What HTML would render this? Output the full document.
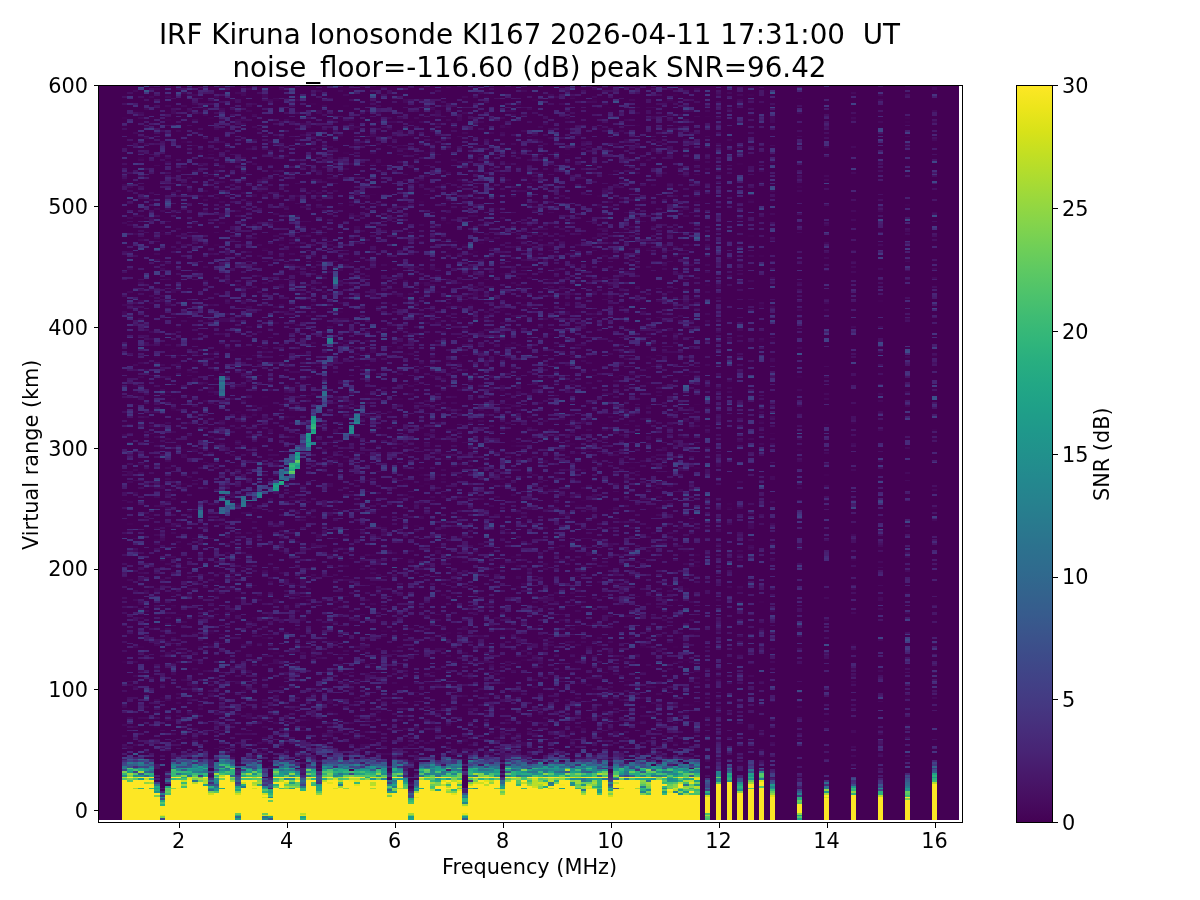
<!DOCTYPE html>
<html lang="en"><head><meta charset="utf-8"><title>IRF Kiruna Ionosonde KI167</title>
<style>html,body{margin:0;padding:0;background:#fff}body{width:1200px;height:900px;overflow:hidden}svg{display:block;will-change:transform}text{font-family:'DejaVu Sans','Liberation Sans',sans-serif;fill:#000}</style></head><body>
<svg width="1200" height="900" viewBox="0 0 1200 900">
<rect width="1200" height="900" fill="#fff"/>
<g shape-rendering="crispEdges" fill="none">
<rect x="98" y="86" width="861" height="734" fill="#440154"/>
<path stroke="#450457" stroke-width="5" d="M124.5 661v2m0 -484v2m0 -64v2m11 292v2m0 -9v1m0 -14v4m0 -10v2m11 272v2m5 -147v2m11 181v2m0 -426v2m0 -42v2m0 -5v2m11 487v2m0 -115v2m0 -16v2m0 -8v2m0 -148v2m0 -33v2m0 -13v2m0 -51v2m5 263v1m0 -68v1m0 -179v2m0 -9v2m0 -38v2m11 369v2m0 -250v2m0 -56v1m0 -25v2m0 -154v2m0 -37v2m0 -36v2m11 554v2m0 -301v2m0 -243v2m0 -16v3m0 -23v2m5 615v2m0 -9v2m0 -170v2m0 -270v2m0 -113v2m11 384v2m0 -40v2m0 -301v2m0 -89v2m11 587v2m0 -62v2m0 -31v2m0 -232v2m0 -223v2m0 -78v2m5 623v2m0 -65v1m0 -331v2m0 -15v2m0 -252v2m11 254v1m0 -10v1m0 -172v2m0 -38v2m11 560v1m0 -39v1m0 -47v2m0 -22v2m0 -63v2m0 -28v2m0 -9v2m0 -94v3m0 -115v1m5 160v2m0 -26v2m0 -150v1m0 -68v1m0 -39v1m11 488v1m0 -494v2m0 -42v2m0 -54v1m11 571v2m0 -36v1m0 -135v1m0 -87v2m0 -186v1m5 178v2m0 -6v2m0 -36v2m0 -6v2m0 -148v1m11 480v2m0 -23v1m0 -402v2m0 -31v2m0 -98v2m0 -27v2m0 -27v2m11 621v2m0 -323v2m0 -167v2m5 323v1m0 -11v2m0 -155v1m0 -21v1m0 -273v2m22 480v1m0 -54v2m0 -29v2m0 -49v2m0 -46v2m0 -9v2m5 263v1m0 -126v1m0 -237v2m0 -80v2m0 -31v2m0 -70v1m11 600v2m0 -265v2m0 -11v2m0 -205v2m11 467v2m0 -54v2m0 -116v2m0 -6v2m0 -418v1m5 504v2m0 -127v2m0 -73v2m0 -32v1m0 -32v2m11 322v2m0 -65v1m0 -130v2m0 -171v2m0 -237v2m11 179v2m0 -20v2m5 404v2m0 -22v2m0 -73v2m0 -150v1m0 -54v2m0 -112v1m0 -27v2m0 -65v2m11 282v2m0 -132v2m0 -152v1m0 -52v2m0 -22v2m11 597v2m0 -38v2m0 -112v1m0 -61v2m0 -58v2m0 -203v2m5 233v2m0 -20v2m0 -13v2m0 -194v2m0 -83v2m0 -57v2m0 -12v1m11 547v2m0 -76v2m0 -236v2m0 -235v2m0 -6v2m11 560v1m0 -67v2m0 -25v2m0 -120v2m0 -18v2m0 -22v2m0 -40v2m0 -190v1m0 -97v1m5 553v2m0 -49v1m0 -12v2m0 -75v2m0 -5v2m0 -305v2m0 -7v2m0 -28v2m0 -76v2m0 -34v1m11 419v2m0 -167v2m0 -11v2m0 -13v2m11 357v1m0 -226v2m0 -158v2m0 -27v2m5 246v2m0 -60v2m0 -245v2m0 -98v2m0 -11v2m11 551v2m0 -6v2m0 -60v2m0 -43v1m0 -27v2m0 -161v2m0 -288v1m0 -30v2m5 635v2m0 -109v2m0 -14v1m0 -132v2m0 -192v2m0 -145v2m11 552v2m0 -81v1m0 -145v2m0 -174v2m0 -38v2m0 -139v1m11 598v2m0 -40v2m0 -38v2m0 -107v2m0 -113v2m0 -7v2m0 -38v1m5 310v2m0 -56v3m0 -78v2m0 -32v2m0 -46v2m0 -5v1m0 -10v1m0 -103v2m0 -130v1m0 -30v1m0 -76v2m0 -16v2m11 284v2m0 -47v2m11 242v2m0 -246v2m0 -40v1m0 -90v2m0 -129v2m5 469v2m0 -6v2m0 -43v2m0 -189v2m0 -18v2m11 376v2m0 -266v2m0 -56v2m0 -144v2m11 433v2m0 -114v2m0 -9v1m0 -47v2m0 -33v2m0 -25v2m0 -55v2m0 -291v1m5 364v2m0 -78v2m0 -27v2m0 -324v2m11 402v1m0 -32v2m0 -384v1m11 370v2m0 -295v1m0 -67v2m5 105v2m0 -13v2m0 -69v2m11 567v2m0 -85v1m0 -106v1m0 -110v2m0 -295v1m11 627v4m0 -80v2m0 -433v2m5 449v2m0 -78v2m0 -44v2m0 -91v2m0 -74v2m0 -35v2m0 -20v2m0 -23v1m0 -38v2m11 429v2m0 -67v2m0 -505v1m0 -30v1m11 558v2m0 -281v2m0 -25v2m0 -17v2m0 -13v2m0 -110v2m0 -105v1m5 520v2m0 -20v2m0 -478v2m11 398v2m0 -73v2m0 -402v2m11 639v2m0 -34v1m0 -50v2m0 -17v2m0 -78v2m0 -40v2m0 -156v2m0 -114v2m0 -143v1m0 -25v2m0 -9v2m5 659v2m0 -44v2m0 -78v2m0 -58v2m0 -58v2m0 -91v2m11 266v2m0 -177v1m0 -9v2m0 -96v2m0 -181v2m0 -6v2m0 -9v2m16 483v2m0 -23v1m0 -123v2m0 -127v2m0 -134v2m0 -20v2m0 -22v2m0 -170v1m11 598v2m0 -16v1m0 -179v2m0 -49v2m0 -38v2m0 -105v1m11 169v2m0 -6v2m32 230v2m0 -136v2m0 -183v2m0 -82v2m0 -38v4m0 -53v2m0 -76v2m11 250v1m0 -94v2m0 -232v2m27 518v2m0 -33v2m0 -152v2m0 -17v2m0 -23v1m0 -38v2m0 -22v2m0 -134v2m0 -40v2m0 -90v1m27 375v2m0 -52v1m0 -107v2m27 362v2m0 -40v2m0 -87v2m0 -139v2m0 -305v2m27 656v1m0 -259v2m0 -221v2m27 433v2m0 -13v2m0 -29v2m0 -107v2m0 -44v2m0 -22v2m0 -273v2m0 -57v2m0 -85v2m0 -6v2m27 388v2m0 -71v2m0 -11v2"/>
<path stroke="#450457" stroke-width="6" d="M130 585v1m0 -63v2m11 186v2m0 -67v2m0 -264v1m0 -105v2m0 -125v2m16 621v2m0 -56v2m0 -102v2m0 -89v2m0 -14v2m0 -102v2m0 -33v2m0 -42v2m11 167v2m0 -250v2m0 -95v2m0 -67v2m0 -27v2m16 518v1m0 -132v2m0 -36v2m0 -37v2m0 -139v2m0 -111v2m0 -29v2m11 552v2m0 -65v2m16 10v2m0 -14v2m0 -239v1m0 -7v2m0 -241v2m0 -35v2m27 629v1m0 -231v3m0 -56v2m0 -56v2m0 -230v1m11 268v2m0 -79v1m0 -182v1m16 547v2m0 -67v2m0 -42v2m0 -11v2m0 -149v2m0 -78v2m0 -11v2m0 -150v2m0 -60v2m11 460v2m0 -84v2m0 -297v2m0 -122v2m0 -58v2m16 587v2m0 -143v1m0 -132v2m0 -114v2m0 -36v1m0 -25v2m11 406v1m0 -302v2m0 -194v2m16 476v2m0 -495v2m11 580v2m0 -19v2m0 -7v2m0 -261v2m0 -31v2m16 40v2m0 -297v1m0 -14v2m0 -49v2m11 595v2m0 -241v2m0 -210v2m16 409v2m0 -9v2m0 -78v2m0 -31v2m0 -76v1m0 -48v1m0 -240v1m0 -32v2m0 -64v2m11 616v2m0 -91v2m0 -71v2m0 -393v2m16 556v2m0 -124v2m0 -70v1m0 -141v2m0 -112v1m0 -99v2m11 203v1m0 -92v2m0 -31v2m0 -44v2m0 -114v2m16 559v2m0 -59v1m0 -79v1m0 -65v2m0 -333v2m11 599v2m0 -281v2m0 -156v2m0 -31v2m0 -9v2m0 -18v2m0 -95v2m16 120v2m11 175v2m0 -138v2m0 -83v2m0 -15v2m0 -52v1m0 -27v2m16 502v1m0 -36v2m0 -255v1m0 -67v2m0 -25v2m0 -55v2m0 -92v2m16 99v2m0 -47v2m0 -15v2m11 201v2m0 -56v2m0 -163v1m0 -21v2m0 -39v2m16 564v1m0 -34v2m0 -147v2m0 -40v2m0 -181v2m0 -55v2m0 -20v2m0 -51v2m11 578v2m0 -259v1m0 -88v1m0 -43v2m0 -274v2m16 408v1m0 -177v2m0 -89v2m11 424v1m0 -364v2m0 -22v2m16 391v2m0 -25v2m0 -73v2m0 -85v2m0 -15v2m0 -42v2m0 -34v2m0 -111v2m0 -167v2m11 569v2m0 -433v2m16 136v1m0 -186v2m11 175v2m0 -42v2m16 312v2m0 -13v2m0 -214v2m11 279v1m0 -103v2m0 -165v2m16 217v2m0 -146v1m0 -452v1m11 478v2m0 -117v1m0 -192v2m0 -181v2m16 637v2m0 -83v2m0 -20v2m0 -55v2m0 -40v2m0 -286v2m11 362v2m0 -67v2m0 -13v2m0 -89v2m0 -7v1m0 -59v1m0 -132v2m0 -74v2m43 561v2m0 -45v1m0 -41v1m0 -28v1m0 -67v2m0 -427v2m11 253v2m0 -176v2m0 -11v2m0 -38v2m0 -87v2m0 -22v2m0 -9v1"/>
<path stroke="#460a5d" stroke-width="5" d="M124.5 746v2m0 -13v2m0 -13v2m0 -20v2m0 -208v1m0 -67v2m0 -125v4m0 -11v2m0 -84v2m0 -40v2m0 -14v2m11 570v2m0 -20v2m0 -42v2m0 -13v2m0 -16v2m0 -17v2m0 -49v2m0 -11v2m0 -42v2m0 -14v1m0 -47v2m0 -14v1m0 -12v2m0 -107v2m0 -60v2m0 -75v2m0 -20v2m0 -85v2m0 -44v2m11 659v2m0 -36v2m0 -13v2m0 -98v2m0 -22v2m0 -176v2m0 -49v2m0 -34v1m0 -121v2m0 -76v2m0 -8v2m0 -13v2m0 -20v2m5 567v2m0 -237v1m0 -10v1m0 -9v2m0 -16v2m0 -38v1m0 -32v2m0 -8v2m0 -9v2m0 -31v2m0 -9v2m0 -8v2m0 -74v2m0 -20v2m0 -9v2m0 -98v2m11 650v1m0 -19v1m0 -47v2m0 -31v2m0 -72v1m0 -7v2m0 -22v2m0 -23v3m0 -36v2m0 -22v4m0 -42v2m0 -60v2m0 -27v2m0 -66v2m0 -7v2m0 -29v2m0 -9v1m0 -14v2m0 -40v2m11 521v2m0 -63v3m0 -12v1m0 -27v2m0 -34v1m0 -50v2m0 -26v2m0 -9v2m0 -29v2m0 -11v2m0 -60v2m0 -26v2m0 -120v4m0 -81v1m0 -103v4m5 601v2m0 -15v2m0 -11v2m0 -78v2m0 -78v2m0 -20v2m0 -40v2m0 -78v2m0 -47v2m0 -11v1m0 -10v1m0 -58v2m0 -43v2m0 -9v1m0 -14v2m0 -20v2m0 -42v2m0 -42v2m11 581v2m0 -16v2m0 -13v2m0 -8v4m0 -92v2m0 -8v2m0 -13v2m0 -65v2m0 -6v2m0 -36v2m0 -56v2m0 -11v1m0 -39v1m0 -59v1m0 -128v2m0 -15v2m0 -69v2m0 -18v2m11 637v2m0 -27v2m0 -64v2m0 -107v2m0 -5v1m0 -155v1m0 -23v2m0 -60v2m0 -111v2m0 -34v2m0 -53v2m0 -9v2m5 574v1m0 -12v2m0 -57v4m0 -61v1m0 -34v2m0 -40v2m0 -27v1m0 -63v2m0 -20v2m0 -104v2m0 -16v2m0 -24v2m0 -36v2m0 -9v1m0 -5v2m0 -11v2m0 -17v2m0 -12v1m0 -9v2m0 -45v2m0 -8v2m11 638v1m0 -25v2m0 -7v2m0 -10v2m0 -117v1m0 -7v2m0 -16v1m0 -74v2m0 -42v2m0 -38v2m0 -25v1m0 -12v2m0 -17v2m0 -29v2m0 -121v1m0 -36v2m0 -11v2m0 -18v2m0 -46v2m0 -34v2m11 655v2m0 -138v2m0 -33v4m0 -38v2m0 -11v2m0 -11v2m0 -38v2m0 -15v2m0 -140v2m0 -31v4m0 -9v2m0 -13v2m0 -5v1m0 -20v4m0 -11v2m0 -14v1m0 -88v1m0 -88v1m5 663v2m0 -31v2m0 -16v2m0 -44v2m0 -58v2m0 -24v2m0 -13v4m0 -89v4m0 -42v2m0 -58v2m0 -161v2m0 -67v1m11 589v2m0 -33v2m0 -29v2m0 -13v2m0 -7v2m0 -48v2m0 -134v2m0 -20v2m0 -5v1m0 -78v2m0 -16v2m0 -18v3m0 -11v2m0 -78v2m0 -11v2m0 -7v2m0 -44v2m0 -25v3m0 -32v2m0 -22v2m0 -17v2m0 -36v2m0 -6v2m0 -5v1m0 -25v4m11 661v2m0 -51v2m0 -22v2m0 -9v1m0 -97v1m0 -65v2m0 -16v2m0 -20v2m0 -31v2m0 -15v2m0 -25v1m0 -11v2m0 -11v2m0 -52v1m0 -92v2m0 -29v2m0 -15v2m0 -32v3m0 -34v2m0 -26v2m0 -15v2m0 -14v2m0 -13v2m5 646v2m0 -11v2m0 -23v1m0 -5v2m0 -76v1m0 -9v2m0 -38v2m0 -7v2m0 -66v2m0 -67v2m0 -34v1m0 -25v2m0 -51v2m0 -9v2m0 -24v2m0 -58v2m0 -22v2m0 -13v2m0 -56v2m0 -6v2m0 -9v2m0 -53v2m11 636v2m0 -55v2m0 -7v2m0 -47v1m0 -30v1m0 -21v3m0 -36v2m0 -58v2m0 -29v3m0 -43v2m0 -6v2m0 -27v4m0 -44v2m0 -15v2m0 -50v1m0 -107v2m0 -83v2m0 -44v2m11 585v2m0 -16v1m0 -101v2m0 -24v2m0 -14v1m0 -14v2m0 -183v2m0 -42v2m0 -22v2m0 -7v1m0 -36v2m0 -7v2m0 -95v4m0 -14v3m0 -51v2m5 663v2m0 -6v2m0 -74v2m0 -71v2m0 -194v2m0 -16v2m0 -9v1m0 -5v2m0 -82v2m0 -107v2m0 -53v2m0 -38v2m0 -23v1m11 669v1m0 -23v2m0 -47v1m0 -54v2m0 -22v2m0 -7v2m0 -15v2m0 -15v2m0 -5v2m0 -11v1m0 -9v2m0 -20v2m0 -20v2m0 -7v2m0 -28v2m0 -127v2m0 -16v2m0 -49v2m0 -27v1m0 -54v2m0 -33v2m0 -14v1m0 -9v2m0 -14v1m0 -59v1m0 -27v2m11 498v2m0 -7v2m0 -8v2m0 -22v2m0 -56v2m0 -6v2m0 -11v2m0 -108v1m0 -81v2m0 -96v1m0 -16v2m0 -72v1m0 -12v3m5 612v2m0 -49v2m0 -41v3m0 -9v4m0 -75v2m0 -5v2m0 -33v4m0 -31v2m0 -55v2m0 -58v2m0 -16v2m0 -53v2m0 -36v1m0 -5v2m0 -17v2m0 -5v2m0 -33v2m0 -67v2m0 -56v1m11 596v2m0 -58v2m0 -65v1m0 -16v2m0 -76v2m0 -78v2m0 -29v2m0 -48v2m0 -47v2m0 -42v2m0 -20v2m0 -38v2m0 -33v2m0 -27v2m0 -40v2m0 -40v2m11 633v2m0 -11v2m0 -92v2m0 -22v2m0 -15v2m0 -9v2m0 -24v2m0 -7v2m0 -9v1m0 -20v2m0 -99v1m0 -23v4m0 -31v2m0 -8v4m0 -53v2m0 -27v2m0 -114v2m0 -22v2m0 -15v2m0 -31v2m5 581v2m0 -14v2m0 -19v2m0 -45v2m0 -7v1m0 -145v2m0 -114v2m0 -20v2m0 -40v2m0 -22v2m0 -6v2m0 -18v2m0 -22v2m0 -16v3m0 -14v2m0 -102v2m0 -25v2m0 -46v2m11 630v2m0 -36v2m0 -8v2m0 -65v2m0 -42v2m0 -23v1m0 -65v2m0 -82v4m0 -7v2m0 -13v4m0 -11v2m0 -75v2m0 -38v2m0 -73v2m0 -11v2m0 -5v2m0 -40v2m0 -39v4m0 -7v2m0 -6v2m0 -5v1m11 632v2m0 -7v4m0 -102v4m0 -36v1m0 -47v2m0 -40v2m0 -80v2m0 -36v2m0 -143v2m0 -49v2m5 512v2m0 -9v2m0 -20v2m0 -22v2m0 -6v2m0 -24v2m0 -29v2m0 -49v2m0 -47v2m0 -65v1m0 -12v1m0 -67v4m0 -16v2m0 -40v2m0 -13v2m0 -15v2m0 -67v2m0 -80v2m0 -89v2m11 619v2m0 -22v2m0 -65v2m0 -58v2m0 -6v2m0 -16v2m0 -17v4m0 -27v2m0 -29v1m0 -7v2m0 -34v1m0 -27v2m0 -20v2m0 -123v2m0 -104v2m0 -47v4m0 -20v2m0 -9v1m0 -25v2m0 -9v2m11 670v1m0 -7v2m0 -20v2m0 -101v1m0 -105v2m0 -141v2m0 -67v1m0 -23v2m0 -198v2m0 -9v2m0 -6v2m5 563v2m0 -34v2m0 -42v2m0 -36v1m0 -25v2m0 -112v1m0 -18v2m0 -87v2m0 -49v2m0 -18v2m0 -11v2m0 -62v2m0 -89v2m11 623v2m0 -20v2m0 -44v2m0 -15v2m0 -21v1m0 -85v2m0 -36v2m0 -15v2m0 -9v2m0 -24v2m0 -42v2m0 -11v2m0 -5v1m0 -14v2m0 -103v1m0 -14v2m0 -20v2m0 -19v2m0 -103v2m0 -7v1m0 -27v2m0 -51v4m11 657v2m0 -34v2m0 -38v1m0 -107v2m0 -58v2m0 -29v2m0 -103v2m0 -20v1m0 -5v2m0 -80v2m0 -38v2m0 -87v2m0 -66v2m0 -12v1m5 640v1m0 -202v1m0 -32v3m0 -52v2m0 -42v2m0 -11v2m0 -15v2m0 -40v2m0 -7v2m0 -46v2m0 -52v2m0 -29v1m0 -18v2m0 -40v2m0 -9v2m0 -60v2m0 -24v2m11 571v1m0 -36v2m0 -42v2m0 -32v1m0 -72v2m0 -49v2m0 -20v2m0 -26v2m0 -34v1m0 -21v3m0 -41v1m0 -5v2m0 -6v2m0 -27v2m0 -20v4m0 -33v2m0 -15v2m0 -38v2m0 -42v4m0 -22v2m0 -24v2m11 538v2m0 -16v1m0 -41v2m0 -62v2m0 -9v2m0 -8v4m0 -29v2m0 -17v2m0 -14v2m0 -17v2m0 -78v2m0 -34v1m0 -16v2m0 -7v2m0 -109v2m0 -37v2m0 -16v2m0 -67v2m5 639v2m0 -24v2m0 -71v2m0 -166v1m0 -34v2m0 -6v2m0 -27v2m0 -24v4m0 -26v2m0 -25v2m0 -58v2m0 -6v2m0 -24v2m0 -83v2m0 -29v2m0 -55v2m0 -34v1m11 560v2m0 -18v2m0 -60v2m0 -55v2m0 -7v2m0 -42v2m0 -15v2m0 -34v2m0 -20v1m0 -5v2m0 -22v2m0 -85v2m0 -26v2m0 -5v1m0 -19v1m0 -9v2m0 -76v2m0 -20v2m0 -27v1m0 -20v4m11 623v2m0 -38v2m0 -6v2m0 -5v1m0 -25v2m0 -125v2m0 -11v2m0 -75v2m0 -9v2m0 -45v2m0 -44v2m0 -58v2m0 -60v2m0 -15v2m0 -40v2m5 532v2m0 -139v2m0 -8v2m0 -117v1m0 -43v2m0 -84v2m0 -52v1m0 -27v6m0 -11v2m0 -73v2m11 496v2m0 -22v2m0 -34v2m0 -8v2m0 -51v2m0 -5v2m0 -191v2m0 -50v1m0 -49v2m0 -9v2m0 -34v1m0 -23v2m0 -20v2m0 -8v2m0 -14v1m5 479v1m0 -38v2m0 -14v2m0 -29v1m0 -23v2m0 -47v1m0 -7v2m0 -49v2m0 -82v2m0 -38v2m0 -16v1m0 -47v2m0 -18v2m0 -7v1m0 -23v2m0 -18v1m0 -23v2m0 -11v2m0 -55v2m0 -13v2m0 -16v2m0 -31v2m11 606v2m0 -9v2m0 -53v2m0 -7v2m0 -44v2m0 -25v2m0 -6v2m0 -72v1m0 -12v2m0 -44v2m0 -9v2m0 -9v1m0 -43v2m0 -6v2m0 -20v2m0 -20v2m0 -6v2m0 -49v2m0 -9v2m0 -11v2m0 -107v2m0 -45v1m0 -43v2m0 -9v3m0 -11v2m11 623v2m0 -74v2m0 -38v1m0 -74v2m0 -69v2m0 -91v2m0 -12v1m0 -29v2m0 -27v2m0 -29v2m0 -35v2m0 -16v2m0 -24v2m0 -53v2m0 -47v2m0 -9v2m0 -31v2m0 -6v2m5 639v2m0 -11v2m0 -11v2m0 -45v2m0 -55v2m0 -63v3m0 -14v2m0 -109v2m0 -15v2m0 -5v1m0 -34v2m0 -20v4m0 -11v3m0 -11v2m0 -34v2m0 -28v2m0 -36v2m0 -9v2m0 -6v2m0 -42v2m0 -45v2m0 -6v2m0 -85v2m11 654v1m0 -7v4m0 -26v2m0 -79v1m0 -11v2m0 -72v2m0 -6v2m0 -65v3m0 -38v2m0 -47v2m0 -13v2m0 -112v2m0 -31v2m0 -13v2m0 -24v2m0 -25v1m0 -18v2m0 -18v2m0 -7v1m0 -25v2m0 -25v1m0 -29v2m11 603v2m0 -49v2m0 -7v2m0 -64v2m0 -22v2m0 -27v2m0 -64v2m0 -13v2m0 -20v2m0 -63v2m0 -66v2m0 -14v2m0 -33v2m0 -58v2m0 -6v2m0 -5v1m0 -5v2m0 -58v2m0 -28v2m0 -22v2m5 594v2m0 -7v2m0 -13v2m0 -62v2m0 -7v2m0 -38v1m0 -7v2m0 -33v2m0 -7v2m0 -38v2m0 -20v1m0 -50v3m0 -29v2m0 -16v2m0 -104v2m0 -76v2m0 -14v1m0 -5v2m0 -87v2m0 -22v2m11 563v2m0 -36v1m0 -54v2m0 -11v2m0 -40v2m0 -9v1m0 -10v1m0 -32v2m0 -8v2m0 -69v2m0 -54v2m0 -22v2m0 -18v1m0 -79v3m0 -130v2m0 -7v1m0 -41v2m11 639v2m0 -17v2m0 -25v2m0 -60v2m0 -17v2m0 -116v4m0 -47v2m0 -15v2m0 -94v2m0 -11v1m0 -45v4m0 -13v2m0 -9v2m0 -149v2m0 -22v2m0 -13v2m5 630v2m0 -7v2m0 -6v2m0 -11v2m0 -79v1m0 -14v2m0 -15v2m0 -38v2m0 -46v2m0 -49v2m0 -9v2m0 -62v2m0 -11v2m0 -36v2m0 -9v1m0 -5v2m0 -26v2m0 -65v2m0 -38v2m0 -6v2m0 -157v1m11 629v3m0 -90v2m0 -8v2m0 -72v2m0 -22v2m0 -9v1m0 -52v2m0 -40v2m0 -31v4m0 -37v2m0 -29v2m0 -18v2m0 -20v3m0 -32v2m0 -24v2m0 -83v1m0 -18v2m0 -38v2m11 545v2m0 -13v2m0 -24v2m0 -34v2m0 -28v2m0 -81v1m0 -25v4m0 -18v1m0 -106v1m0 -59v1m0 -5v2m0 -24v2m0 -43v1m0 -14v2m0 -76v2m0 -11v1m0 -54v2m0 -7v2m0 -10v2m5 641v2m0 -38v2m0 -20v2m0 -35v2m0 -9v2m0 -58v2m0 -44v2m0 -76v2m0 -5v1m0 -230v4m0 -9v2m0 -26v2m0 -99v1m11 627v2m0 -9v2m0 -15v2m0 -13v2m0 -16v3m0 -7v2m0 -36v2m0 -13v2m0 -28v2m0 -74v4m0 -20v2m0 -113v2m0 -5v1m0 -21v2m0 -42v2m0 -40v2m0 -22v4m0 -15v2m0 -38v2m0 -8v2m0 -38v2m0 -7v2m0 -13v2m0 -18v1m11 576v2m0 -54v2m0 -46v2m0 -67v2m0 -29v2m0 -11v2m0 -35v2m0 -72v1m0 -12v2m0 -8v2m0 -29v2m0 -34v1m0 -12v2m0 -15v2m0 -47v2m0 -15v2m0 -7v1m0 -108v2m0 -53v2m5 628v2m0 -18v2m0 -62v2m0 -71v2m0 -34v2m0 -6v2m0 -83v2m0 -22v2m0 -56v1m0 -14v2m0 -28v2m0 -29v2m0 -52v1m0 -97v1m0 -10v1m0 -23v2m0 -9v1m0 -12v2m0 -8v2m0 -20v2m0 -22v2m11 628v4m0 -61v1m0 -39v1m0 -59v1m0 -36v2m0 -89v2m0 -51v2m0 -127v2m0 -16v2m0 -26v2m0 -7v2m0 -87v2m0 -15v2m0 -16v1m0 -34v2m0 -7v1m0 -21v1m11 627v2m0 -31v2m0 -24v2m0 -20v2m0 -45v2m0 -55v2m0 -16v2m0 -11v2m0 -93v4m0 -27v1m0 -7v2m0 -76v2m0 -9v2m0 -62v2m0 -18v1m0 -92v2m0 -54v1m5 607v2m0 -15v2m0 -18v2m0 -73v2m0 -21v1m0 -50v1m0 -16v2m0 -49v2m0 -27v2m0 -6v2m0 -100v2m0 -109v2m0 -27v2m0 -7v1m0 -38v2m0 -38v4m0 -13v2m0 -25v3m0 -12v1m11 647v2m0 -22v2m0 -83v1m0 -36v2m0 -36v1m0 -68v1m0 -19v1m0 -36v2m0 -9v2m0 -6v2m0 -9v4m0 -66v2m0 -12v1m0 -25v2m0 -58v2m0 -29v2m0 -6v2m0 -22v4m0 -76v2m0 -44v2m11 590v2m0 -20v2m0 -107v2m0 -159v1m0 -32v2m0 -62v2m0 -15v2m0 -7v2m0 -29v2m0 -53v2m0 -11v2m0 -20v4m0 -37v2m5 518v2m0 -56v2m0 -31v2m0 -19v2m0 -72v2m0 -20v2m0 -40v2m0 -22v2m0 -69v2m0 -89v2m0 -38v1m0 -7v2m0 -22v2m0 -45v2m0 -38v1m0 -45v2m0 -6v2m0 -14v2m11 652v1m0 -108v2m0 -29v1m0 -16v2m0 -20v2m0 -116v2m0 -33v2m0 -45v1m0 -7v2m0 -38v2m0 -26v2m0 -23v2m0 -8v2m0 -23v1m0 -36v2m0 -85v2m0 -51v2m0 -24v2m16 648v2m0 -27v2m0 -40v2m0 -7v1m0 -14v2m0 -13v2m0 -116v2m0 -109v2m0 -18v2m0 -8v2m0 -14v1m0 -7v2m0 -45v2m0 -46v2m0 -9v2m0 -24v2m0 -22v2m0 -9v2m0 -22v2m0 -9v2m0 -56v1m0 -16v2m0 -9v2m0 -27v1m0 -27v2m11 645v2m0 -19v2m0 -12v1m0 -25v2m0 -11v2m0 -20v2m0 -6v2m0 -5v1m0 -5v2m0 -40v2m0 -33v2m0 -53v2m0 -7v2m0 -15v2m0 -14v1m0 -19v1m0 -38v4m0 -62v2m0 -20v2m0 -14v1m0 -12v2m0 -35v2m0 -15v2m0 -11v2m0 -14v2m0 -15v4m0 -58v2m0 -29v1m0 -34v2m0 -13v2m0 -15v2m0 -5v2m0 -22v2m0 -8v2m0 -18v2m0 -9v2m11 615v2m0 -127v2m0 -21v1m0 -16v2m0 -31v2m0 -16v1m0 -119v2m0 -6v2m0 -9v2m0 -44v4m0 -67v2m0 -20v2m0 -18v1m0 -103v2m0 -33v2m0 -18v2m32 661v2m0 -8v2m0 -20v2m0 -29v2m0 -25v1m0 -54v2m0 -187v2m0 -12v1m0 -12v2m0 -13v2m0 -75v2m0 -38v2m0 -134v2m11 570v2m0 -43v1m0 -41v2m0 -15v2m0 -40v2m0 -53v2m0 -13v2m0 -7v2m0 -22v2m0 -24v2m0 -27v4m0 -37v2m0 -7v2m0 -24v2m0 -60v4m0 -25v1m0 -32v2m0 -31v2m0 -40v2m0 -28v2m0 -25v2m0 -31v2m0 -18v1m0 -30v7m27 583v2m0 -7v1m0 -10v1m0 -150v4m0 -60v2m0 -29v2m0 -24v2m0 -35v2m0 -18v2m0 -44v2m0 -32v1m0 -9v2m0 -29v2m0 -52v1m0 -43v2m0 -15v2m0 -43v1m0 -25v2m27 607v1m0 -103v2m0 -24v2m0 -99v1m0 -16v2m0 -35v2m0 -56v2m0 -7v2m0 -19v2m0 -12v1m0 -58v2m0 -9v2m0 -34v1m0 -14v2m0 -17v2m0 -20v2m0 -47v2m0 -6v2m0 -31v2m27 607v2m0 -11v2m0 -18v3m0 -52v1m0 -7v2m0 -9v2m0 -58v2m0 -26v2m0 -56v2m0 -67v2m0 -28v2m0 -119v2m0 -57v2m0 -7v2m0 -7v1m0 -12v1m0 -32v2m0 -11v2m0 -40v2m0 -28v2m0 -31v2m0 -27v2m27 659v2m0 -22v2m0 -5v1m0 -30v1m0 -32v2m0 -33v2m0 -33v2m0 -13v4m0 -16v1m0 -19v1m0 -7v2m0 -18v2m0 -67v1m0 -21v2m0 -33v2m0 -20v2m0 -13v2m0 -9v2m0 -44v2m0 -27v2m0 -60v2m0 -26v2m0 -36v2m0 -6v2m0 -47v2m0 -42v2m0 -24v2m0 -7v2m27 663v1m0 -148v2m0 -44v2m0 -16v2m0 -78v1m0 -9v2m0 -27v2m0 -44v2m0 -16v2m0 -37v2m0 -40v2m0 -59v1m0 -29v2m0 -5v2m0 -86v2m0 -5v2m0 -9v1m0 -51v1m27 610v2m0 -7v1m0 -21v1m0 -30v1m0 -125v2m0 -32v2m0 -136v1m0 -79v2m0 -11v2m0 -58v1m0 -74v2m0 -20v2m0 -13v2m0 -25v3"/>
<path stroke="#460a5d" stroke-width="6" d="M130 746v3m0 -32v2m0 -35v2m0 -5v1m0 -103v2m0 -51v2m0 -31v2m0 -22v2m0 -12v5m0 -34v1m0 -19v1m0 -121v2m0 -15v2m0 -25v2m0 -19v2m0 -29v2m0 -9v2m0 -33v2m11 529v2m0 -49v2m0 -55v2m0 -5v1m0 -12v2m0 -20v1m0 -14v2m0 -102v2m0 -11v2m0 -45v2m0 -46v2m0 -16v2m0 -42v2m0 -6v2m0 -20v2m0 -20v2m0 -45v2m0 -26v2m0 -58v2m0 -9v2m0 -18v1m0 -20v2m0 -7v2m16 597v2m0 -14v2m0 -33v2m0 -26v2m0 -32v1m0 -9v2m0 -20v4m0 -49v2m0 -11v2m0 -31v2m0 -11v2m0 -11v2m0 -53v2m0 -179v2m0 -8v2m0 -18v2m0 -31v2m0 -45v1m0 -78v2m11 629v2m0 -6v2m0 -18v2m0 -49v2m0 -13v2m0 -15v2m0 -7v2m0 -8v2m0 -56v2m0 -9v2m0 -51v2m0 -17v2m0 -16v2m0 -13v2m0 -9v2m0 -24v2m0 -18v2m0 -29v1m0 -5v2m0 -17v2m0 -34v2m0 -42v2m0 -7v1m0 -21v1m0 -72v2m0 -49v2m0 -6v2m0 -54v2m0 -11v2m16 639v2m0 -60v2m0 -24v2m0 -25v1m0 -14v2m0 -56v1m0 -41v2m0 -75v4m0 -138v2m0 -78v2m0 -11v2m0 -33v2m0 -40v2m0 -63v2m0 -15v2m11 643v2m0 -11v2m0 -17v2m0 -31v4m0 -20v2m0 -11v2m0 -123v1m0 -56v2m0 -14v1m0 -23v2m0 -38v1m0 -36v4m0 -11v2m0 -13v2m0 -9v2m0 -85v1m0 -30v1m0 -20v2m0 -54v2m0 -27v1m0 -27v2m0 -18v2m0 -11v2m16 679v2m0 -84v2m0 -65v2m0 -15v2m0 -81v1m0 -76v2m0 -13v2m0 -18v2m0 -47v2m0 -6v2m0 -36v2m0 -42v2m0 -11v2m0 -53v2m0 -5v1m0 -97v1m11 594v2m0 -5v2m0 -35v2m0 -33v2m0 -41v1m0 -10v1m0 -63v2m0 -51v2m0 -7v1m0 -76v2m0 -21v1m0 -5v2m0 -49v2m0 -42v2m0 -17v4m0 -100v2m0 -11v4m0 -11v2m0 -7v2m0 -22v2m0 -18v3m0 -27v2m0 -24v2m0 -13v2m16 652v2m0 -51v2m0 -34v3m0 -87v2m0 -27v2m0 -16v1m0 -9v2m0 -49v2m0 -62v2m0 -5v2m0 -15v2m0 -9v2m0 -37v2m0 -67v2m0 -5v1m0 -34v2m0 -76v2m0 -47v1m0 -47v2m0 -29v2m11 639v2m0 -22v6m0 -49v2m0 -28v2m0 -21v1m0 -5v2m0 -58v2m0 -13v2m0 -24v2m0 -16v1m0 -7v2m0 -11v2m0 -72v1m0 -18v2m0 -23v1m0 -18v2m0 -54v2m0 -22v3m0 -21v1m0 -38v2m0 -41v1m0 -65v2m0 -40v2m0 -7v2m0 -19v2m16 647v2m0 -13v2m0 -9v2m0 -19v2m0 -5v2m0 -46v2m0 -38v2m0 -51v2m0 -136v2m0 -20v2m0 -69v2m0 -6v2m0 -5v2m0 -42v2m0 -24v2m0 -34v1m0 -57v3m0 -11v2m0 -11v2m0 -25v1m0 -21v2m0 -42v4m11 624v2m0 -27v2m0 -40v5m0 -65v4m0 -35v2m0 -47v2m0 -62v2m0 -11v2m0 -134v2m0 -18v2m0 -73v2m0 -16v1m0 -9v2m0 -45v2m0 -74v1m16 631v1m0 -23v2m0 -58v2m0 -60v2m0 -13v2m0 -27v1m0 -59v1m0 -10v1m0 -56v2m0 -16v2m0 -15v2m0 -40v2m0 -109v2m0 -13v2m0 -16v2m0 -42v2m0 -26v2m11 578v2m0 -31v2m0 -9v2m0 -40v1m0 -30v2m0 -37v4m0 -16v1m0 -27v7m0 -41v2m0 -28v2m0 -23v2m0 -15v2m0 -33v2m0 -36v2m0 -26v2m0 -114v2m0 -20v2m0 -13v2m0 -22v2m0 -16v1m0 -16v2m0 -43v3m0 -25v2m0 -11v2m0 -13v2m16 639v2m0 -78v2m0 -33v2m0 -125v4m0 -96v1m0 -48v1m0 -30v1m0 -161v2m0 -9v2m0 -6v2m0 -5v2m0 -15v2m0 -11v2m0 -36v1m0 -12v1m0 -16v4m0 -24v2m11 641v2m0 -36v5m0 -29v2m0 -36v2m0 -22v2m0 -69v2m0 -42v2m0 -33v4m0 -24v2m0 -9v2m0 -47v2m0 -87v2m0 -20v1m0 -16v2m0 -24v2m0 -29v2m0 -69v2m0 -24v2m0 -5v2m0 -8v2m0 -29v2m16 561v2m0 -11v2m0 -25v2m0 -38v1m0 -19v1m0 -18v2m0 -16v2m0 -19v2m0 -134v2m0 -11v2m0 -69v2m0 -24v2m0 -56v2m0 -7v2m0 -93v2m0 -76v2m11 601v2m0 -53v2m0 -31v2m0 -90v1m0 -20v2m0 -60v2m0 -49v2m0 -54v2m0 -85v1m0 -29v2m0 -18v4m0 -15v2m0 -14v1m0 -61v2m0 -19v2m16 475v2m0 -33v2m0 -6v2m0 -70v1m0 -90v2m0 -64v4m0 -60v4m0 -145v2m0 -20v3m0 -51v1m11 666v2m0 -54v1m0 -67v2m0 -90v1m0 -16v2m0 -7v2m0 -142v2m0 -60v2m0 -67v2m0 -63v1m0 -10v1m0 -30v1m0 -79v1m16 631v2m0 -19v2m0 -58v2m0 -118v2m0 -29v2m0 -7v2m0 -57v2m0 -41v1m0 -21v1m0 -12v2m0 -29v3m0 -54v2m0 -20v2m0 -125v1m0 -7v2m0 -5v1m0 -10v1m0 -20v2m11 669v1m0 -7v2m0 -24v2m0 -18v2m0 -118v2m0 -22v2m0 -5v1m0 -47v2m0 -11v2m0 -56v2m0 -56v1m0 -50v2m0 -10v2m0 -34v2m0 -62v2m0 -161v2m16 606v2m0 -69v2m0 -81v1m0 -30v1m0 -30v1m0 -30v1m0 -32v3m0 -38v4m0 -14v3m0 -12v1m0 -20v2m0 -7v2m0 -80v2m0 -42v4m0 -92v1m0 -20v2m11 507v2m0 -18v2m0 -22v2m0 -31v2m0 -7v1m0 -65v4m0 -7v1m0 -96v2m0 -16v2m0 -18v2m0 -102v2m0 -49v2m0 -51v2m0 -74v1m0 -32v2m0 -9v1m0 -7v4m16 643v2m0 -20v1m0 -52v2m0 -29v2m0 -82v2m0 -13v2m0 -107v2m0 -38v2m0 -20v2m0 -11v2m0 -8v2m0 -20v2m0 -9v2m0 -53v2m0 -81v1m0 -83v2m0 -35v2m11 631v1m0 -7v2m0 -7v1m0 -10v3m0 -38v2m0 -11v2m0 -45v2m0 -19v2m0 -11v4m0 -58v2m0 -13v2m0 -5v1m0 -23v2m0 -42v2m0 -44v2m0 -14v1m0 -56v2m0 -20v2m0 -16v1m0 -27v2m0 -14v1m0 -23v2m0 -24v2m0 -94v2m0 -22v2m0 -31v2m0 -9v1m0 -14v2m0 -18v2m16 641v1m0 -52v2m0 -29v2m0 -28v2m0 -29v2m0 -63v1m0 -5v2m0 -47v2m0 -33v2m0 -49v2m0 -13v2m0 -55v2m0 -7v2m0 -22v2m0 -49v2m0 -11v2m0 -9v2m0 -11v2m0 -104v2m0 -14v1m0 -25v2m0 -31v2m16 643v2m0 -13v2m0 -27v1m0 -21v1m0 -9v2m0 -5v2m0 -55v2m0 -34v1m0 -19v1m0 -54v2m0 -20v2m0 -261v2m11 489v2m0 -8v2m0 -5v2m0 -57v2m0 -5v2m0 -46v2m0 -87v2m0 -112v2m0 -11v1m0 -10v1m0 -173v1m0 -54v2m0 -71v2m16 630v4m0 -91v2m0 -7v2m0 -69v2m0 -18v1m0 -45v2m0 -73v2m0 -9v2m0 -14v1m0 -88v1m0 -43v2m0 -33v2m0 -9v2m0 -9v2m0 -20v1m0 -52v2m0 -44v2m0 -20v2m0 -18v2m0 -26v2m11 656v1m0 -16v2m0 -49v2m0 -9v2m0 -22v2m0 -6v2m0 -14v1m0 -43v2m0 -11v2m0 -120v2m0 -20v2m0 -7v1m0 -68v1m0 -137v2m0 -40v2m0 -33v2m0 -6v2m0 -43v2m16 603v1m0 -96v2m0 -5v2m0 -6v2m0 -42v4m0 -94v2m0 -20v2m0 -87v1m0 -77v1m0 -34v2m0 -11v2m0 -9v1m0 -30v1m0 -7v2m0 -34v1m0 -76v2m0 -11v2m0 -32v1m0 -5v2m11 634v1m0 -112v2m0 -7v1m0 -27v2m0 -31v2m0 -16v2m0 -33v2m0 -67v2m0 -33v2m0 -134v2m0 -6v2m0 -43v1m0 -7v2m0 -9v2m0 -35v2m0 -94v2m16 621v2m0 -13v2m0 -20v2m0 -55v2m0 -21v1m0 -7v2m0 -11v2m0 -9v2m0 -29v1m0 -30v1m0 -68v1m0 -137v2m0 -66v2m0 -38v2m0 -13v2m0 -58v2m0 -45v2m11 548v2m0 -9v2m0 -33v2m0 -96v4m0 -18v1m0 -32v2m0 -24v2m0 -36v1m0 -23v2m0 -29v2m0 -22v2m0 -22v2m0 -9v1m0 -210v2m0 -47v2m16 643v2m0 -27v1m0 -11v2m0 -41v1m0 -65v2m0 -36v2m0 -11v2m0 -26v2m0 -105v2m0 -11v2m0 -38v2m0 -96v1m0 -18v2m0 -7v2m0 -24v2m0 -29v2m0 -9v1m0 -9v2m0 -27v2m0 -42v2m0 -5v1m0 -43v2m0 -18v1m11 643v4m0 -62v2m0 -78v4m0 -18v2m0 -13v2m0 -67v2m0 -18v1m0 -9v2m0 -31v2m0 -47v2m0 -31v2m0 -15v2m0 -92v2m0 -38v1m0 -56v2m0 -18v2m0 -29v2m16 576v1m0 -61v2m0 -26v2m0 -24v2m0 -43v2m0 -49v2m0 -8v2m0 -61v1m0 -43v2m0 -8v2m0 -21v1m0 -23v2m0 -46v2m0 -60v2m0 -25v2m0 -24v2m0 -29v2m0 -31v2m0 -64v2m0 -11v2m11 620v1m0 -7v2m0 -11v2m0 -11v2m0 -27v1m0 -29v2m0 -88v1m0 -61v2m0 -40v2m0 -44v2m0 -80v2m0 -31v2m0 -14v1m0 -59v1m0 -21v1m0 -23v2m16 552v2m0 -62v2m0 -14v1m0 -34v2m0 -15v2m0 -31v2m0 -12v1m0 -54v2m0 -31v2m0 -9v2m0 -13v2m0 -11v2m0 -8v2m0 -29v2m0 -27v2m0 -36v1m0 -5v2m0 -38v1m0 -27v2m0 -14v1m0 -18v2m0 -63v2m0 -100v2m11 614v2m0 -11v1m0 -81v2m0 -29v2m0 -53v2m0 -54v1m0 -7v2m0 -49v2m0 -60v2m0 -5v1m0 -9v2m0 -67v2m0 -24v2m0 -29v2m0 -13v2m0 -32v1m0 -12v1m0 -18v2m0 -49v2m0 -5v1m0 -30v1m0 -56v2m0 -13v2m16 621v2m0 -9v2m0 -143v2m0 -69v2m0 -36v1m0 -18v2m0 -11v2m0 -18v2m0 -47v1m0 -74v4m0 -17v2m0 -38v2m0 -40v2m0 -9v2m0 -7v1m0 -29v2m0 -7v2m0 -18v1m0 -16v2m11 560v1m0 -20v2m0 -7v2m0 -9v2m0 -11v2m0 -67v1m0 -21v1m0 -16v2m0 -138v2m0 -7v2m0 -47v1m0 -68v1m0 -12v2m0 -38v1m0 -50v1m0 -18v2m0 -23v1m0 -16v2m0 -45v1m0 -29v2m43 665v2m0 -156v2m0 -17v2m0 -29v2m0 -7v2m0 -6v2m0 -45v2m0 -28v2m0 -43v2m0 -107v2m0 -9v3m0 -58v2m0 -14v1m0 -21v1m0 -25v2m0 -120v2m0 -7v2m11 652v1m0 -9v2m0 -14v2m0 -55v2m0 -40v2m0 -91v2m0 -5v2m0 -8v2m0 -18v6m0 -91v2m0 -45v1m0 -97v1m0 -20v2m0 -27v2m0 -56v2m0 -104v2"/>
<path stroke="#471063" stroke-width="5" d="M124.5 744v2m0 -42v2m0 -16v2m0 -42v2m0 -11v2m0 -18v1m0 -14v2m0 -8v2m0 -11v2m0 -36v2m0 -11v2m0 -24v2m0 -27v2m0 -17v4m0 -22v2m0 -5v1m0 -61v2m0 -17v2m0 -103v2m0 -18v1m0 -9v2m0 -22v2m0 -76v2m0 -16v2m0 -37v2m0 -27v2m0 -9v2m11 599v2m0 -11v2m0 -73v4m0 -15v2m0 -38v2m0 -24v2m0 -181v2m0 -69v2m0 -49v2m0 -114v3m0 -34v2m11 478v2m0 -22v2m0 -58v2m0 -6v2m0 -31v2m0 -18v2m0 -33v2m0 -7v2m0 -31v2m0 -11v2m0 -53v4m0 -8v2m0 -5v2m0 -8v2m0 -99v1m0 -65v2m5 569v1m0 -38v2m0 -63v2m0 -15v2m0 -158v2m0 -255v2m0 -11v2m0 -58v1m0 -67v2m0 -4v1m11 668v2m0 -56v1m0 -72v2m0 -87v2m0 -11v2m0 -6v2m0 -7v2m0 -75v2m0 -16v2m0 -29v1m0 -21v2m0 -19v2m0 -11v2m0 -70v1m0 -21v1m0 -121v2m0 -20v2m0 -13v2m11 625v2m0 -15v2m0 -6v2m0 -92v2m0 -9v1m0 -12v2m0 -9v1m0 -54v2m0 -9v2m0 -44v2m0 -11v2m0 -152v2m0 -49v1m0 -67v2m0 -7v2m0 -56v2m0 -11v1m0 -7v2m0 -71v2m0 -12v1m5 656v2m0 -13v2m0 -49v2m0 -38v2m0 -15v2m0 -6v2m0 -7v2m0 -51v2m0 -147v2m0 -74v2m0 -31v2m0 -15v2m0 -60v2m0 -7v2m0 -28v2m0 -9v2m0 -42v2m0 -7v2m0 -33v2m0 -73v2m11 621v2m0 -117v1m0 -21v1m0 -34v2m0 -51v2m0 -62v2m0 -67v2m0 -136v2m0 -34v1m0 -16v2m0 -49v2m0 -18v1m0 -18v2m0 -23v1m11 616v2m0 -45v2m0 -24v2m0 -29v2m0 -31v2m0 -29v2m0 -19v2m0 -63v2m0 -13v2m0 -22v2m0 -22v2m0 -47v2m0 -29v1m0 -19v1m0 -168v2m0 -24v2m0 -22v2m0 -32v1m0 -12v1m5 643v2m0 -90v1m0 -9v2m0 -51v2m0 -61v2m0 -102v2m0 -15v2m0 -58v2m0 -38v2m0 -112v1m0 -50v2m0 -28v2m0 -36v2m11 626v2m0 -20v2m0 -38v2m0 -38v2m0 -29v1m0 -54v2m0 -44v2m0 -5v2m0 -29v2m0 -24v2m0 -31v2m0 -7v1m0 -43v2m0 -24v2m0 -15v2m0 -25v2m0 -31v2m0 -13v2m0 -42v2m0 -61v1m0 -14v2m0 -13v2m0 -31v2m0 -31v2m11 597v2m0 -40v2m0 -60v2m0 -5v2m0 -9v5m0 -33v2m0 -43v2m0 -13v2m0 -80v4m0 -51v2m0 -102v2m0 -25v2m0 -29v5m0 -65v2m0 -42v2m0 -6v2m5 609v2m0 -78v1m0 -23v2m0 -24v2m0 -31v2m0 -34v1m0 -5v2m0 -78v2m0 -67v2m0 -8v2m0 -13v2m0 -29v2m0 -72v3m0 -52v3m0 -36v2m0 -11v4m0 -29v2m0 -19v2m0 -32v1m0 -41v2m0 -8v2m11 605v2m0 -150v1m0 -16v2m0 -80v2m0 -22v2m0 -83v2m0 -6v2m0 -9v2m0 -49v2m0 -15v2m0 -16v1m0 -90v2m0 -22v2m0 -95v1m11 668v2m0 -24v2m0 -71v2m0 -7v2m0 -26v2m0 -14v2m0 -55v2m0 -132v2m0 -15v2m0 -40v2m0 -80v2m0 -27v2m0 -142v2m0 -32v1m0 -31v1m5 635v2m0 -80v2m0 -112v2m0 -29v2m0 -102v2m0 -34v1m0 -12v2m0 -57v2m0 -20v2m0 -71v2m0 -16v2m0 -118v2m11 683v1m0 -18v2m0 -72v2m0 -37v2m0 -20v2m0 -18v2m0 -11v2m0 -22v2m0 -17v2m0 -16v2m0 -55v2m0 -34v2m0 -31v2m0 -71v2m0 -26v2m0 -7v2m0 -16v1m0 -61v2m0 -26v2m0 -71v2m0 -21v1m0 -16v2m0 -51v2m11 645v1m0 -21v2m0 -100v2m0 -13v4m0 -80v4m0 -11v2m0 -8v2m0 -18v2m0 -161v1m0 -9v2m0 -38v2m0 -16v2m0 -13v2m0 -33v2m0 -24v2m0 -29v2m0 -13v2m0 -11v2m0 -13v2m0 -7v2m0 -51v2m5 636v1m0 -23v2m0 -8v2m0 -16v2m0 -47v3m0 -43v2m0 -29v3m0 -14v2m0 -6v2m0 -13v6m0 -33v2m0 -22v2m0 -145v2m0 -6v2m0 -74v2m0 -18v2m0 -35v2m0 -18v2m0 -35v2m0 -9v2m0 -98v2m11 637v2m0 -11v2m0 -38v2m0 -11v2m0 -26v2m0 -25v2m0 -49v2m0 -13v2m0 -27v1m0 -49v2m0 -21v1m0 -50v1m0 -19v1m0 -38v2m0 -161v2m0 -20v2m0 -62v2m0 -22v2m0 -29v2m11 648v2m0 -63v1m0 -61v2m0 -95v2m0 -119v2m0 -9v1m0 -49v2m0 -25v2m0 -71v2m0 -51v2m0 -45v2m0 -20v1m0 -43v2m0 -11v2m0 -8v2m5 594v2m0 -156v2m0 -52v1m0 -12v2m0 -131v2m0 -42v2m0 -31v2m0 -29v2m0 -5v1m0 -5v2m0 -24v2m0 -18v2m0 -51v2m0 -13v2m0 -22v2m0 -13v2m0 -7v2m0 -42v2m11 563v2m0 -33v2m0 -7v2m0 -49v3m0 -32v2m0 -17v4m0 -34v7m0 -36v1m0 -21v1m0 -27v2m0 -49v2m0 -29v2m0 -76v2m0 -18v1m0 -96v2m0 -22v2m0 -20v2m0 -16v2m11 623v1m0 -16v2m0 -13v2m0 -36v2m0 -85v1m0 -41v2m0 -20v1m0 -20v2m0 -21v1m0 -41v2m0 -10v2m0 -14v2m0 -71v2m0 -15v6m0 -103v1m0 -16v2m0 -65v1m0 -25v2m0 -31v2m5 532v2m0 -41v1m0 -11v2m0 -11v2m0 -18v2m0 -33v2m0 -72v2m0 -26v2m0 -13v2m0 -34v2m0 -17v2m0 -27v2m0 -22v2m0 -80v2m0 -6v2m0 -29v2m0 -139v1m11 587v2m0 -14v1m0 -21v1m0 -63v2m0 -20v2m0 -136v2m0 -15v2m0 -72v1m0 -30v1m0 -16v2m0 -96v2m0 -24v2m0 -118v2m0 -15v1m11 621v2m0 -49v2m0 -19v2m0 -87v2m0 -5v2m0 -26v2m0 -11v2m0 -76v2m0 -38v1m0 -36v2m0 -11v2m0 -56v2m0 -11v3m0 -36v2m0 -58v2m0 -6v2m0 -54v2m0 -22v2m0 -31v2m0 -28v1m5 644v2m0 -58v4m0 -15v2m0 -29v2m0 -47v2m0 -9v1m0 -137v2m0 -67v1m0 -54v2m0 -13v2m0 -31v2m0 -34v2m0 -22v2m0 -33v2m0 -15v2m11 511v2m0 -38v1m0 -36v2m0 -27v2m0 -28v2m0 -9v2m0 -18v2m0 -73v2m0 -42v2m0 -36v2m0 -6v2m0 -5v2m0 -15v2m0 -27v2m0 -66v2m0 -72v2m0 -17v2m0 -98v2m11 567v2m0 -44v2m0 -154v2m0 -228v2m0 -24v2m0 -40v4m0 -13v2m0 -65v1m0 -10v1m0 -47v4m5 663v2m0 -10v2m0 -38v2m0 -13v2m0 -31v2m0 -7v2m0 -11v2m0 -7v1m0 -25v2m0 -40v2m0 -20v2m0 -53v2m0 -9v2m0 -31v2m0 -42v2m0 -11v4m0 -131v2m0 -5v1m0 -92v2m0 -49v2m0 -26v2m0 -9v2m0 -7v2m11 579v2m0 -9v2m0 -18v1m0 -23v2m0 -46v2m0 -121v2m0 -31v2m0 -13v2m0 -29v2m0 -8v2m0 -12v1m0 -210v2m0 -11v2m0 -11v2m0 -54v1m0 -39v1m11 665v2m0 -20v4m0 -8v2m0 -11v2m0 -18v2m0 -27v1m0 -20v2m0 -45v2m0 -69v2m0 -69v4m0 -28v2m0 -36v2m0 -42v2m0 -38v2m0 -47v2m0 -91v2m0 -69v2m0 -18v1m0 -29v2m0 -18v2m5 628v2m0 -54v2m0 -122v2m0 -5v2m0 -66v2m0 -52v1m0 -135v1m0 -5v2m0 -18v2m0 -115v2m0 -29v2m0 -16v2m11 595v2m0 -14v2m0 -9v1m0 -34v2m0 -51v2m0 -16v1m0 -43v2m0 -49v2m0 -38v1m0 -12v2m0 -24v2m0 -35v2m0 -70v1m0 -5v2m0 -15v2m0 -71v2m0 -175v1m11 656v2m0 -58v2m0 -84v2m0 -45v2m0 -24v2m0 -18v2m0 -145v2m0 -15v2m0 -53v2m0 -136v2m0 -18v2m0 -51v2m0 -25v1m0 -16v2m5 567v2m0 -33v2m0 -24v2m0 -16v2m0 -9v3m0 -20v2m0 -18v2m0 -26v2m0 -56v2m0 -51v2m0 -42v2m0 -25v3m0 -18v2m0 -11v2m0 -36v2m0 -38v1m0 -70v3m0 -30v1m0 -81v2m11 637v2m0 -27v2m0 -24v2m0 -25v1m0 -16v2m0 -31v2m0 -51v2m0 -71v2m0 -16v2m0 -40v2m0 -36v1m0 -11v2m0 -83v2m0 -9v2m0 -51v2m0 -93v2m0 -42v2m0 -34v3m0 -31v1m11 672v1m0 -7v2m0 -6v2m0 -78v2m0 -34v2m0 -31v2m0 -6v2m0 -25v1m0 -56v2m0 -25v2m0 -49v2m0 -17v4m0 -31v2m0 -82v2m0 -31v2m0 -14v2m0 -6v2m0 -9v2m0 -172v3m5 616v2m0 -11v2m0 -20v2m0 -62v2m0 -15v2m0 -23v1m0 -10v1m0 -20v2m0 -38v2m0 -96v2m0 -82v2m0 -60v2m0 -7v2m0 -16v1m0 -29v2m0 -69v2m0 -9v2m0 -29v2m0 -49v2m0 -29v2m0 -12v1m11 664v4m0 -58v2m0 -27v1m0 -21v2m0 -8v2m0 -74v2m0 -62v2m0 -80v2m0 -42v2m0 -38v4m0 -35v2m0 -16v2m0 -15v2m0 -11v2m0 -9v2m0 -51v2m0 -67v2m0 -15v2m0 -22v2m0 -40v2m5 652v2m0 -53v2m0 -34v1m0 -7v2m0 -7v2m0 -95v2m0 -32v1m0 -10v1m0 -11v2m0 -72v2m0 -56v1m0 -9v2m0 -13v2m0 -22v4m0 -51v2m0 -40v2m0 -105v2m0 -82v2m11 663v7m0 -25v2m0 -6v2m0 -25v2m0 -11v3m0 -36v2m0 -25v1m0 -25v2m0 -82v2m0 -11v2m0 -25v2m0 -58v1m0 -32v2m0 -20v2m0 -17v2m0 -56v2m0 -31v2m0 -55v2m0 -9v2m0 -58v2m0 -29v2m0 -9v1m0 -7v2m0 -16v2m11 617v2m0 -11v2m0 -7v1m0 -50v2m0 -20v1m0 -25v2m0 -15v2m0 -156v2m0 -14v2m0 -55v2m0 -89v2m0 -61v1m0 -5v2m0 -11v2m0 -47v1m0 -27v2m0 -25v2m0 -31v2m5 617v2m0 -18v2m0 -84v2m0 -18v4m0 -89v2m0 -20v2m0 -28v2m0 -43v2m0 -9v1m0 -50v3m0 -11v2m0 -20v2m0 -74v2m0 -28v2m0 -134v2m11 574v2m0 -14v1m0 -63v2m0 -9v2m0 -42v2m0 -46v2m0 -27v2m0 -47v2m0 -8v2m0 -110v1m0 -14v2m0 -114v2m0 -26v2m0 -13v2m0 -52v1m0 -10v1m0 -45v2m11 619v2m0 -22v2m0 -16v2m0 -17v2m0 -32v1m0 -5v2m0 -27v1m0 -10v1m0 -49v2m0 -27v2m0 -121v1m0 -163v2m0 -20v2m0 -9v2m0 -71v2m0 -20v2m0 -7v1m0 -14v2m5 581v2m0 -49v2m0 -31v2m0 -49v2m0 -6v2m0 -89v2m0 -21v1m0 -7v2m0 -7v1m0 -48v1m0 -34v2m0 -33v2m0 -63v1m0 -50v3m0 -38v2m0 -40v2m0 -20v2m0 -36v2m0 -20v3m11 630v2m0 -40v2m0 -14v2m0 -6v2m0 -42v2m0 -74v2m0 -9v1m0 -16v2m0 -74v2m0 -13v2m0 -24v2m0 -18v2m0 -47v1m0 -25v2m0 -7v1m0 -59v1m0 -34v2m0 -22v2m0 -24v2m0 -67v4m0 -20v2m11 509v1m0 -43v2m0 -18v1m0 -43v2m0 -7v1m0 -119v2m0 -8v4m0 -49v4m0 -15v2m0 -51v2m0 -13v2m0 -16v2m0 -9v2m0 -6v2m0 -18v2m0 -26v2m0 -25v2m0 -17v2m0 -14v1m0 -7v2m0 -34v1m0 -5v2m0 -42v2m0 -13v2m0 -22v2m5 667v1m0 -21v1m0 -50v2m0 -37v2m0 -52v1m0 -20v2m0 -29v2m0 -14v1m0 -7v2m0 -47v2m0 -20v2m0 -28v2m0 -23v2m0 -19v2m0 -16v2m0 -138v2m0 -33v2m0 -60v2m0 -47v2m0 -20v2m0 -20v2m11 661v2m0 -77v2m0 -21v1m0 -27v2m0 -38v2m0 -76v2m0 -19v2m0 -78v2m0 -80v2m0 -36v2m0 -60v2m0 -74v2m0 -26v2m0 -22v2m0 -7v3m0 -56v2m11 652v2m0 -38v3m0 -70v2m0 -84v2m0 -51v2m0 -52v2m0 -53v2m0 -42v2m0 -78v2m0 -18v2m0 -58v3m0 -43v2m5 576v1m0 -34v2m0 -13v2m0 -56v2m0 -98v2m0 -13v2m0 -33v2m0 -31v2m0 -56v2m0 -62v2m0 -9v2m0 -37v2m0 -11v2m0 -20v2m0 -24v2m0 -117v1m11 569v2m0 -27v2m0 -55v4m0 -22v4m0 -26v2m0 -72v2m0 -93v2m0 -13v2m0 -29v2m0 -89v2m0 -40v2m0 -25v1m0 -14v2m0 -7v1m0 -27v2m0 -109v2m0 -40v2m11 656v1m0 -30v2m0 -29v1m0 -18v2m0 -34v1m0 -41v2m0 -22v2m0 -116v2m0 -13v2m0 -46v2m0 -72v2m0 -9v1m0 -49v2m0 -18v4m0 -45v1m0 -36v2m0 -13v2m5 574v2m0 -9v2m0 -20v2m0 -8v2m0 -23v1m0 -9v2m0 -14v2m0 -26v2m0 -11v2m0 -33v2m0 -80v4m0 -31v2m0 -18v2m0 -16v1m0 -12v1m0 -25v2m0 -22v2m0 -29v2m0 -74v1m0 -27v2m0 -42v2m0 -18v2m0 -20v2m0 -11v2m0 -9v1m0 -23v2m0 -31v2m0 -31v2m0 -11v2m11 621v2m0 -71v2m0 -33v2m0 -103v2m0 -11v2m0 -33v2m0 -13v2m0 -34v1m0 -10v1m0 -14v2m0 -38v1m0 -10v1m0 -7v2m0 -25v1m0 -79v2m0 -11v1m0 -14v2m0 -24v2m0 -27v2m0 -13v2m0 -73v2m0 -5v2m0 -53v2m11 659v2m0 -15v2m0 -105v2m0 -45v2m0 -98v2m0 -11v2m0 -48v2m0 -23v2m0 -13v2m0 -76v1m0 -9v2m0 -38v2m0 -53v2m0 -29v2m0 -100v2m0 -9v4m5 645v1m0 -297v2m0 -45v2m0 -56v1m0 -25v2m0 -15v2m0 -61v1m0 -10v1m0 -16v2m0 -13v2m0 -34v1m0 -68v1m0 -49v2m11 542v2m0 -8v2m0 -18v2m0 -9v2m0 -6v2m0 -5v1m0 -16v2m0 -40v2m0 -74v1m0 -30v1m0 -41v2m0 -48v4m0 -11v2m0 -5v1m0 -27v2m0 -9v2m0 -53v2m0 -13v2m0 -29v2m0 -27v2m0 -44v2m0 -16v2m0 -42v2m11 659v2m0 -17v2m0 -7v2m0 -49v2m0 -140v2m0 -16v2m0 -56v1m0 -47v2m0 -7v2m0 -100v2m0 -7v1m0 -21v1m0 -21v2m0 -11v1m0 -18v4m0 -51v2m0 -98v2m0 -27v2m5 632v2m0 -8v2m0 -147v2m0 -97v1m0 -18v2m0 -125v2m0 -33v2m0 -23v1m0 -116v2m11 571v2m0 -6v2m0 -7v1m0 -28v1m0 -50v1m0 -29v2m0 -81v2m0 -8v2m0 -29v2m0 -51v2m0 -20v2m0 -18v2m0 -27v1m0 -16v2m0 -24v2m0 -31v2m0 -148v1m0 -114v2m16 674v2m0 -9v1m0 -45v2m0 -9v2m0 -69v2m0 -6v2m0 -58v4m0 -65v1m0 -18v2m0 -16v2m0 -31v5m0 -45v2m0 -47v3m0 -47v2m0 -87v2m0 -11v2m0 -18v2m0 -6v2m0 -36v2m0 -37v2m0 -5v1m0 -9v2m0 -43v2m11 653v2m0 -51v2m0 -5v2m0 -18v1m0 -45v2m0 -11v2m0 -13v2m0 -11v2m0 -27v2m0 -13v2m0 -20v2m0 -13v2m0 -27v1m0 -21v1m0 -27v2m0 -29v2m0 -7v1m0 -18v2m0 -18v4m0 -8v2m0 -25v2m0 -20v2m0 -40v2m0 -96v1m0 -61v2m0 -17v2m0 -36v2m0 -42v2m11 659v2m0 -18v2m0 -38v1m0 -20v2m0 -114v2m0 -214v2m0 -76v2m0 -114v2m0 -9v1m32 594v2m0 -80v2m0 -38v2m0 -27v2m0 -100v2m0 -11v2m0 -16v1m0 -21v1m0 -27v2m0 -5v1m0 -25v2m0 -25v1m0 -7v2m0 -5v1m0 -181v2m0 -52v1m0 -65v2m0 -16v1m11 689v1m0 -34v2m0 -27v2m0 -53v2m0 -45v1m0 -32v2m0 -8v2m0 -32v1m0 -97v1m0 -38v2m0 -9v2m0 -15v2m0 -31v2m0 -79v1m0 -20v2m0 -14v2m0 -9v1m0 -25v2m0 -17v2m0 -30v3m0 -94v2m27 683v1m0 -50v1m0 -7v2m0 -18v2m0 -38v1m0 -21v3m0 -16v2m0 -15v2m0 -29v4m0 -49v2m0 -17v2m0 -50v1m0 -18v2m0 -27v2m0 -35v2m0 -99v1m0 -34v2m0 -8v2m0 -7v2m0 -25v1m0 -49v2m0 -34v2m0 -8v2m0 -47v2m0 -27v2m27 606v2m0 -60v4m0 -7v2m0 -17v2m0 -100v2m0 -45v2m0 -35v2m0 -166v1m0 -36v2m0 -15v2m0 -31v2m0 -20v2m0 -18v2m0 -53v2m0 -7v2m0 -8v2m0 -14v2m27 592v2m0 -6v2m0 -22v2m0 -13v2m0 -27v2m0 -58v2m0 -29v2m0 -28v4m0 -43v1m0 -56v2m0 -13v2m0 -20v4m0 -18v2m0 -31v3m0 -20v2m0 -5v2m0 -93v2m0 -65v2m0 -89v2m27 655v2m0 -16v2m0 -13v2m0 -71v2m0 -127v2m0 -9v2m0 -11v2m0 -69v2m0 -18v1m0 -68v1m0 -12v2m0 -11v2m0 -28v4m0 -60v2m0 -52v1m0 -34v2m0 -7v1m0 -25v2m0 -9v2m27 590v2m0 -20v2m0 -11v2m0 -58v1m0 -5v2m0 -38v2m0 -82v2m0 -234v2m0 -25v2m0 -20v1m0 -10v1m0 -43v2m0 -105v1m0 -32v2m27 643v1m0 -135v1m0 -121v2m0 -125v2m0 -11v2m0 -69v2m0 -49v2m0 -6v2m0 -16v1m0 -9v2m0 -27v2m0 -15v2m0 -23v1m0 -18v2"/>
<path stroke="#471063" stroke-width="6" d="M130 726v2m0 -31v2m0 -67v2m0 -84v2m0 -89v2m0 -11v2m0 -23v1m0 -81v2m0 -47v1m0 -88v1m0 -19v1m0 -14v2m0 -20v2m0 -82v2m11 558v2m0 -46v2m0 -9v2m0 -26v4m0 -14v3m0 -18v2m0 -67v2m0 -9v1m0 -39v1m0 -27v2m0 -22v4m0 -45v1m0 -21v2m0 -31v2m0 -15v2m0 -6v2m0 -12v1m0 -45v2m0 -7v2m0 -35v2m0 -13v2m0 -13v2m0 -63v2m0 -20v2m16 641v1m0 -23v2m0 -11v2m0 -46v2m0 -27v4m0 -38v1m0 -34v2m0 -26v2m0 -59v1m0 -9v2m0 -29v2m0 -7v1m0 -7v2m0 -36v2m0 -6v2m0 -7v3m0 -20v2m0 -25v2m0 -20v2m0 -49v2m0 -11v1m0 -48v1m0 -27v2m0 -62v2m0 -14v2m0 -13v2m0 -29v2m11 670v1m0 -29v2m0 -97v1m0 -43v2m0 -13v2m0 -26v2m0 -69v2m0 -11v2m0 -9v2m0 -45v1m0 -150v2m0 -42v2m0 -31v2m0 -14v1m0 -25v2m0 -24v2m0 -5v2m0 -49v1m0 -10v1m0 -31v1m16 666v2m0 -25v1m0 -10v1m0 -70v2m0 -29v1m0 -21v1m0 -68v1m0 -48v1m0 -107v2m0 -154v2m0 -27v2m0 -26v2m0 -5v2m11 557v2m0 -43v2m0 -11v2m0 -40v2m0 -66v2m0 -9v2m0 -103v1m0 -30v1m0 -47v2m0 -69v2m0 -11v2m0 -52v1m0 -38v2m0 -12v1m16 540v2m0 -80v2m0 -7v2m0 -8v2m0 -5v1m0 -12v2m0 -26v2m0 -45v2m0 -26v2m0 -65v2m0 -15v2m0 -103v2m0 -46v2m0 -42v2m0 -101v2m0 -64v2m0 -56v2m0 -6v2m11 629v1m0 -23v2m0 -6v2m0 -7v2m0 -109v2m0 -172v2m0 -82v2m0 -80v2m0 -156v2m0 -11v2m0 -17v1m16 655v2m0 -11v2m0 -60v2m0 -9v2m0 -20v2m0 -15v2m0 -24v4m0 -29v2m0 -27v2m0 -31v2m0 -6v2m0 -49v2m0 -15v2m0 -5v2m0 -100v2m0 -13v2m0 -22v2m0 -87v2m0 -42v2m0 -23v1m0 -7v2m0 -24v2m0 -7v2m0 -9v1m0 -34v4m0 -26v4m11 627v1m0 -7v2m0 -38v2m0 -18v1m0 -19v3m0 -31v2m0 -70v1m0 -54v2m0 -26v2m0 -14v2m0 -11v2m0 -26v2m0 -42v2m0 -18v2m0 -71v2m0 -52v1m0 -25v2m0 -38v2m0 -84v2m0 -18v2m16 648v2m0 -6v2m0 -11v2m0 -27v2m0 -31v2m0 -24v2m0 -63v2m0 -33v2m0 -100v2m0 -49v2m0 -5v1m0 -9v2m0 -62v2m0 -65v2m0 -34v1m0 -79v1m0 -5v2m0 -33v2m0 -25v1m0 -27v2m11 665v2m0 -58v1m0 -10v1m0 -7v2m0 -80v2m0 -127v2m0 -20v2m0 -16v2m0 -60v2m0 -42v2m0 -17v2m0 -90v2m0 -69v2m0 -37v2m0 -16v2m0 -11v2m0 -13v2m16 612v2m0 -53v2m0 -38v2m0 -38v1m0 -83v2m0 -5v1m0 -21v1m0 -14v2m0 -107v2m0 -27v1m0 -39v1m0 -7v2m0 -11v2m0 -6v2m0 -69v2m0 -23v1m0 -25v2m0 -33v2m0 -32v1m0 -16v2m0 -18v2m11 666v2m0 -18v2m0 -29v1m0 -85v2m0 -52v1m0 -47v2m0 -25v2m0 -40v2m0 -107v1m0 -7v2m0 -87v2m0 -24v4m0 -33v2m0 -18v2m0 -83v1m16 622v1m0 -52v2m0 -18v3m0 -85v2m0 -76v2m0 -85v1m0 -25v2m0 -40v2m0 -40v2m0 -82v2m0 -9v2m0 -13v2m0 -5v1m0 -12v1m0 -18v2m0 -31v2m0 -25v2m0 -11v3m0 -18v2m11 576v2m0 -6v2m0 -11v2m0 -54v2m0 -20v2m0 -78v1m0 -65v2m0 -52v1m0 -21v1m0 -81v2m0 -103v1m0 -21v1m0 -23v2m0 -26v2m0 -40v4m0 -35v2m0 -30v1m16 634v2m0 -29v2m0 -132v1m0 -25v2m0 -16v1m0 -45v2m0 -40v2m0 -11v2m0 -44v2m0 -47v2m0 -18v2m0 -64v2m0 -31v2m0 -5v1m0 -30v1m0 -97v1m0 -7v2m11 630v2m0 -16v2m0 -24v2m0 -38v2m0 -62v2m0 -40v2m0 -44v2m0 -56v2m0 -51v2m0 -14v1m0 -67v2m0 -183v2m0 -27v2m0 -13v2m16 596v1m0 -19v1m0 -7v2m0 -42v2m0 -98v2m0 -47v2m0 -24v2m0 -9v2m0 -29v2m0 -31v2m0 -27v1m0 -65v2m0 -73v4m0 -27v2m0 -7v3m0 -18v4m0 -15v2m0 -134v2m0 -7v1m11 647v2m0 -8v2m0 -137v1m0 -18v2m0 -14v1m0 -43v2m0 -6v2m0 -92v2m0 -84v2m0 -52v1m0 -20v2m0 -7v2m0 -11v4m0 -49v2m0 -106v2m0 -34v2m16 659v2m0 -140v2m0 -5v1m0 -21v2m0 -13v2m0 -27v1m0 -18v2m0 -63v1m0 -19v1m0 -58v2m0 -38v2m0 -33v4m0 -13v2m0 -38v2m0 -45v1m0 -45v2m0 -47v2m0 -13v2m0 -22v2m11 605v2m0 -84v4m0 -20v2m0 -80v2m0 -47v2m0 -27v1m0 -150v2m0 -11v2m0 -35v2m0 -36v4m0 -17v2m0 -14v1m0 -38v2m0 -16v2m0 -27v3m0 -13v2m0 -58v2m0 -14v1m16 631v2m0 -15v2m0 -80v2m0 -15v2m0 -16v2m0 -40v2m0 -53v2m0 -40v2m0 -63v1m0 -41v2m0 -44v2m0 -40v2m0 -7v1m0 -101v2m0 -25v1m0 -27v2m0 -34v1m11 627v2m0 -11v2m0 -15v2m0 -5v1m0 -61v2m0 -76v1m0 -50v3m0 -43v2m0 -96v2m0 -10v2m0 -11v2m0 -7v2m0 -33v2m0 -110v1m0 -47v2m0 -27v2m0 -22v2m0 -9v2m0 -22v2m0 -26v2m16 661v2m0 -49v2m0 -122v2m0 -12v1m0 -21v2m0 -33v2m0 -29v2m0 -15v2m0 -33v2m0 -11v2m0 -7v2m0 -109v2m0 -9v2m0 -15v2m0 -47v2m0 -24v2m0 -29v2m0 -15v2m0 -24v2m0 -56v2m0 -27v2m11 642v2m0 -16v2m0 -53v2m0 -11v2m0 -14v1m0 -45v2m0 -35v2m0 -18v2m0 -69v2m0 -161v2m0 -11v2m0 -38v1m0 -34v2m0 -22v2m0 -42v2m0 -5v1m0 -7v2m16 505v2m0 -60v2m0 -136v2m0 -38v2m0 -51v2m0 -16v1m0 -29v2m0 -43v2m0 -13v2m0 -47v3m0 -9v2m0 -60v2m0 -67v2m0 -7v1m0 -27v2m16 444v2m0 -98v2m0 -6v2m0 -7v3m0 -20v2m0 -16v2m0 -29v2m0 -60v2m0 -11v3m0 -12v2m0 -26v2m0 -5v1m0 -77v1m0 -63v2m0 -18v1m0 -57v1m11 634v2m0 -94v2m0 -15v2m0 -33v2m0 -38v2m0 -107v2m0 -51v2m0 -16v2m0 -22v2m0 -19v2m0 -11v2m0 -36v2m0 -24v2m0 -47v2m0 -6v2m0 -158v1m16 606v2m0 -54v2m0 -22v2m0 -33v2m0 -33v2m0 -20v2m0 -27v2m0 -6v2m0 -16v2m0 -78v2m0 -95v2m0 -61v1m0 -41v2m0 -10v2m0 -5v2m0 -67v1m0 -48v1m11 652v2m0 -23v1m0 -32v2m0 -47v1m0 -7v2m0 -15v4m0 -38v2m0 -6v2m0 -32v1m0 -70v2m0 -73v2m0 -9v2m0 -42v4m0 -11v2m0 -85v1m0 -43v2m0 -26v2m0 -29v2m0 -7v2m0 -31v2m0 -17v2m0 -20v2m0 -29v2m16 619v2m0 -40v2m0 -103v2m0 -48v2m0 -32v1m0 -90v2m0 -55v2m0 -29v2m0 -116v2m0 -36v2m0 -29v1m0 -12v2m0 -62v2m11 648v2m0 -24v4m0 -25v1m0 -30v1m0 -5v2m0 -16v1m0 -56v2m0 -14v1m0 -72v2m0 -33v2m0 -5v1m0 -23v2m0 -178v2m0 -7v1m0 -47v2m0 -107v2m0 -23v1m16 640v2m0 -53v2m0 -40v2m0 -9v2m0 -93v2m0 -16v2m0 -64v2m0 -27v2m0 -124v2m0 -45v2m0 -89v2m0 -35v2m0 -23v2m0 -40v1m11 575v1m0 -54v2m0 -103v1m0 -16v2m0 -25v1m0 -14v4m0 -82v2m0 -107v2m0 -62v2m0 -34v1m0 -72v2m0 -11v2m16 597v2m0 -12v1m0 -9v2m0 -7v2m0 -22v2m0 -84v6m0 -25v1m0 -20v2m0 -18v2m0 -111v2m0 -9v2m0 -34v1m0 -76v2m0 -47v2m0 -62v2m0 -5v2m0 -42v4m0 -11v1m0 -54v2m0 -6v2m0 -7v2m0 -33v2m11 650v2m0 -23v1m0 -11v2m0 -5v2m0 -13v2m0 -31v2m0 -15v2m0 -83v2m0 -33v2m0 -27v1m0 -10v1m0 -10v1m0 -29v2m0 -23v1m0 -21v3m0 -30v1m0 -9v2m0 -9v2m0 -7v1m0 -36v2m0 -71v2m0 -12v1m0 -14v2m0 -75v2m0 -70v1m16 622v1m0 -29v2m0 -12v1m0 -9v2m0 -109v2m0 -52v2m0 -28v2m0 -21v1m0 -20v2m0 -32v1m0 -12v2m0 -84v2m0 -92v2m0 -26v2m0 -7v2m0 -22v2m0 -66v4m0 -31v2m11 601v2m0 -51v2m0 -32v1m0 -30v1m0 -27v2m0 -67v2m0 -44v2m0 -18v2m0 -98v2m0 -42v2m0 -18v2m0 -131v2m0 -100v1m16 659v2m0 -18v1m0 -25v2m0 -58v2m0 -49v2m0 -8v2m0 -7v2m0 -6v2m0 -107v2m0 -14v1m0 -7v2m0 -18v2m0 -29v2m0 -37v2m0 -25v2m0 -78v1m0 -28v1m0 -32v2m0 -24v2m0 -36v3m0 -25v2m0 -38v1m0 -14v2m0 -11v2m11 643v1m0 -36v2m0 -20v2m0 -67v2m0 -18v1m0 -10v1m0 -12v1m0 -50v2m0 -24v2m0 -13v2m0 -5v1m0 -67v2m0 -14v2m0 -11v1m0 -16v2m0 -54v1m0 -19v1m0 -43v2m0 -104v2m0 -31v4m0 -13v4m0 -31v2m0 -7v2m16 570v2m0 -65v2m0 -91v2m0 -22v2m0 -47v2m0 -28v2m0 -27v2m0 -64v2m0 -21v1m0 -12v2m0 -28v2m0 -23v1m0 -10v1m0 -12v2m0 -11v1m0 -7v2m0 -58v2m0 -71v2m0 -11v2m0 -7v2m11 624v2m0 -128v1m0 -25v2m0 -56v2m0 -87v1m0 -32v2m0 -31v3m0 -19v1m0 -41v2m0 -26v2m0 -27v2m0 -89v2m0 -8v2m0 -20v2m0 -36v2m0 -33v2m43 619v2m0 -23v1m0 -20v2m0 -29v2m0 -16v2m0 -8v2m0 -18v2m0 -29v2m0 -27v1m0 -32v2m0 -6v2m0 -89v2m0 -9v2m0 -15v2m0 -9v2m0 -20v2m0 -31v2m0 -9v2m0 -10v2m0 -5v2m0 -15v2m0 -20v2m0 -7v1m0 -19v1m0 -11v2m0 -21v1m0 -25v2m0 -102v2m0 -43v2m0 -6v2m11 621v4m0 -65v1m0 -117v1m0 -36v2m0 -11v2m0 -116v2m0 -51v2m0 -33v2m0 -125v2m0 -14v1m0 -9v4m0 -38v2m0 -26v2"/>
<path stroke="#481668" stroke-width="5" d="M124.5 759v1m0 -49v2m0 -112v2m0 -17v2m0 -12v1m0 -5v2m0 -154v2m0 -75v2m0 -7v2m0 -91v2m0 -69v4m0 -15v2m0 -29v4m11 585v2m0 -158v2m0 -89v2m0 -112v1m0 -7v2m0 -56v2m0 -6v2m0 -34v1m0 -63v2m0 -36v2m0 -24v2m11 568v4m0 -52v1m0 -38v2m0 -22v4m0 -13v2m0 -9v2m0 -44v2m0 -16v2m0 -46v2m0 -110v2m0 -40v2m0 -13v2m0 -40v2m0 -18v1m0 -25v2m0 -47v2m0 -44v2m0 -49v4m0 -18v1m0 -38v2m5 652v2m0 -67v2m0 -36v1m0 -59v1m0 -11v2m0 -23v2m0 -49v1m0 -34v2m0 -6v2m0 -123v2m0 -100v2m0 -60v2m0 -34v2m0 -15v2m0 -18v2m11 643v1m0 -103v2m0 -15v4m0 -38v2m0 -6v2m0 -51v2m0 -21v1m0 -65v2m0 -81v3m0 -58v2m0 -31v2m0 -53v2m0 -16v2m0 -7v1m0 -7v2m0 -80v2m0 -7v2m0 -31v2m0 -11v2m11 610v2m0 -93v2m0 -12v1m0 -43v2m0 -55v2m0 -52v1m0 -29v2m0 -12v1m0 -7v2m0 -20v2m0 -111v2m0 -7v2m0 -22v2m0 -11v2m0 -91v2m0 -7v2m0 -9v1m5 544v1m0 -10v1m0 -146v2m0 -33v2m0 -82v2m0 -47v2m0 -73v2m0 -32v1m0 -52v2m0 -27v1m0 -85v2m0 -14v1m0 -45v2m0 -15v2m11 569v2m0 -31v2m0 -17v2m0 -20v2m0 -47v2m0 -13v4m0 -80v2m0 -27v2m0 -113v2m0 -52v1m0 -12v1m0 -45v2m0 -36v3m0 -9v2m0 -58v2m11 571v1m0 -7v2m0 -38v2m0 -8v2m0 -12v1m0 -49v2m0 -20v2m0 -20v2m0 -7v2m0 -22v2m0 -13v2m0 -58v2m0 -37v2m0 -65v2m0 -15v2m0 -29v2m0 -18v2m0 -15v2m0 -47v2m0 -16v1m0 -97v1m0 -63v2m5 652v2m0 -62v2m0 -100v2m0 -152v2m0 -31v2m0 -85v1m0 -50v1m0 -5v2m0 -44v2m0 -9v2m0 -54v1m0 -92v2m0 -7v1m11 638v4m0 -8v2m0 -36v2m0 -29v2m0 -9v1m0 -47v2m0 -13v2m0 -11v2m0 -16v2m0 -20v2m0 -230v1m0 -52v2m0 -66v2m0 -11v2m0 -31v2m0 -18v2m0 -13v2m0 -13v2m0 -13v2m0 -21v1m11 518v2m0 -70v1m0 -72v2m0 -6v2m0 -16v3m0 -20v2m0 -108v1m0 -14v4m0 -8v2m0 -56v2m0 -82v2m0 -36v2m0 -38v1m0 -38v2m5 656v2m0 -11v2m0 -13v2m0 -60v2m0 -107v2m0 -24v2m0 -43v1m0 -27v2m0 -92v1m0 -45v2m0 -34v1m0 -68v1m0 -117v1m11 620v2m0 -9v1m0 -56v2m0 -13v2m0 -7v2m0 -9v2m0 -35v2m0 -31v6m0 -129v2m0 -33v2m0 -65v2m0 -9v1m0 -68v1m0 -38v2m0 -9v2m0 -9v2m0 -8v2m0 -23v2m0 -26v2m0 -38v2m0 -35v2m0 -31v2m11 572v2m0 -9v2m0 -45v2m0 -69v2m0 -40v2m0 -95v2m0 -103v2m0 -60v2m0 -44v2m0 -87v2m5 565v2m0 -58v2m0 -33v2m0 -11v2m0 -82v2m0 -159v2m0 -18v1m0 -11v2m0 -170v2m0 -9v2m0 -51v2m11 583v2m0 -17v4m0 -62v2m0 -23v2m0 -22v2m0 -22v2m0 -31v2m0 -13v2m0 -24v2m0 -61v1m0 -45v2m0 -36v1m0 -105v2m0 -31v2m0 -11v2m0 -20v2m0 -22v4m0 -16v2m0 -17v2m0 -24v2m11 587v2m0 -13v2m0 -45v2m0 -31v3m0 -9v2m0 -148v1m0 -70v3m0 -9v2m0 -11v2m0 -9v2m0 -11v2m0 -7v1m0 -135v1m0 -18v2m0 -18v2m0 -11v2m0 -42v2m0 -33v2m0 -16v2m0 -20v1m0 -39v1m5 633v1m0 -7v2m0 -179v1m0 -38v2m0 -11v2m0 -5v2m0 -8v2m0 -49v2m0 -9v2m0 -62v2m0 -7v3m0 -121v2m0 -20v2m0 -40v2m0 -8v2m0 -40v2m0 -18v2m11 587v2m0 -77v2m0 -7v2m0 -22v4m0 -17v2m0 -43v2m0 -55v2m0 -109v2m0 -5v2m0 -57v2m0 -60v2m0 -25v2m0 -140v2m0 -44v1m11 668v2m0 -11v2m0 -6v2m0 -33v2m0 -11v2m0 -7v2m0 -9v2m0 -22v2m0 -26v2m0 -16v2m0 -8v2m0 -25v2m0 -9v1m0 -116v2m0 -12v1m0 -9v2m0 -65v2m0 -51v2m0 -62v2m0 -18v2m0 -16v1m0 -12v1m0 -43v2m0 -89v2m5 632v4m0 -8v2m0 -38v2m0 -7v3m0 -16v2m0 -11v2m0 -27v1m0 -5v2m0 -129v2m0 -24v2m0 -47v2m0 -13v2m0 -52v1m0 -94v2m0 -33v4m0 -87v2m0 -34v1m0 -76v2m11 656v1m0 -77v1m0 -25v2m0 -20v2m0 -167v2m0 -38v2m0 -18v1m0 -182v1m0 -23v2m0 -15v2m0 -9v2m0 -33v4m0 -37v2m0 -5v2m11 623v1m0 -45v2m0 -38v2m0 -26v2m0 -23v2m0 -35v2m0 -63v1m0 -12v1m0 -10v1m0 -9v2m0 -49v2m0 -11v2m0 -81v3m0 -51v4m0 -11v2m0 -47v2m0 -53v2m0 -54v2m0 -15v2m0 -13v2m0 -20v2m0 -7v1m5 634v2m0 -71v2m0 -38v2m0 -49v2m0 -22v2m0 -16v2m0 -19v2m0 -87v2m0 -18v2m0 -9v2m0 -15v2m0 -33v2m0 -65v2m0 -125v2m0 -42v2m0 -7v1m11 587v2m0 -11v2m0 -60v2m0 -13v2m0 -42v4m0 -22v2m0 -38v2m0 -74v1m0 -27v2m0 -16v2m0 -9v1m0 -16v2m0 -6v2m0 -41v1m0 -45v2m0 -27v2m0 -49v1m0 -10v1m0 -7v2m0 -129v2m0 -61v1m11 674v2m0 -29v2m0 -20v2m0 -46v2m0 -36v2m0 -42v2m0 -16v1m0 -139v2m0 -11v2m0 -20v2m0 -8v2m0 -67v2m0 -94v2m0 -17v2m0 -32v1m0 -36v2m0 -14v1m0 -20v2m0 -31v2m5 638v2m0 -11v1m0 -25v2m0 -47v2m0 -37v2m0 -69v2m0 -20v2m0 -176v2m0 -7v2m0 -36v1m0 -79v2m0 -46v2m0 -40v2m0 -29v2m0 -16v1m0 -7v2m0 -5v1m0 -51v1m11 666v2m0 -67v2m0 -13v2m0 -64v2m0 -90v2m0 -44v2m0 -24v2m0 -9v2m0 -127v2m0 -105v2m0 -29v2m0 -17v2m0 -18v2m0 -24v2m0 -11v2m11 587v2m0 -55v2m0 -13v2m0 -25v2m0 -55v2m0 -38v2m0 -65v2m0 -39v2m0 -99v1m0 -43v2m0 -27v1m0 -54v2m0 -22v2m0 -51v2m0 -31v2m0 -32v1m5 513v2m0 -82v2m0 -5v1m0 -61v2m0 -24v2m0 -53v4m0 -67v2m0 -20v2m0 -22v2m0 -15v2m0 -11v2m0 -29v2m0 -22v2m0 -16v1m0 -16v2m0 -67v2m0 -42v2m0 -5v1m11 670v2m0 -5v2m0 -9v1m0 -9v2m0 -51v2m0 -60v2m0 -7v2m0 -38v2m0 -29v1m0 -45v2m0 -9v2m0 -27v1m0 -76v4m0 -13v2m0 -34v1m0 -41v2m0 -11v2m0 -6v2m0 -9v2m0 -60v2m0 -22v2m0 -29v2m0 -8v2m0 -60v2m0 -41v3m0 -31v2m11 560v2m0 -84v2m0 -16v2m0 -20v2m0 -87v1m0 -25v2m0 -24v2m0 -38v2m0 -20v2m0 -49v2m0 -18v1m0 -18v2m0 -22v2m0 -76v2m0 -20v2m5 540v1m0 -16v2m0 -58v2m0 -6v2m0 -22v2m0 -47v2m0 -15v2m0 -148v2m0 -22v2m0 -24v2m0 -25v1m0 -29v2m0 -38v2m0 -45v2m0 -55v2m0 -29v2m0 -20v2m11 541v2m0 -54v2m0 -62v4m0 -33v2m0 -18v1m0 -34v2m0 -51v2m0 -9v2m0 -6v2m0 -22v2m0 -89v2m0 -14v2m0 -44v2m0 -7v2m0 -26v2m0 -25v1m0 -23v2m0 -26v2m0 -54v2m0 -17v2m11 603v2m0 -40v2m0 -16v2m0 -91v2m0 -11v2m0 -42v2m0 -25v1m0 -18v2m0 -52v1m0 -105v2m0 -27v2m0 -56v1m0 -7v2m5 505v2m0 -22v2m0 -13v2m0 -72v2m0 -58v1m0 -28v1m0 -38v2m0 -85v2m0 -84v2m0 -103v2m0 -111v2m0 -11v2m0 -29v2m0 -7v2m11 534v3m0 -7v2m0 -36v2m0 -33v2m0 -22v2m0 -16v1m0 -67v2m0 -23v1m0 -16v2m0 -74v2m0 -29v1m0 -38v2m0 -47v2m0 -40v2m11 518v2m0 -8v2m0 -11v2m0 -13v4m0 -54v2m0 -19v2m0 -11v2m0 -20v2m0 -83v2m0 -15v2m0 -11v2m0 -18v2m0 -8v2m0 -11v2m0 -33v4m0 -60v4m0 -25v1m0 -32v2m0 -38v1m0 -41v2m0 -6v2m0 -38v2m0 -36v1m0 -7v2m0 -9v2m0 -22v2m0 -56v1m5 634v2m0 -31v2m0 -5v1m0 -21v2m0 -29v1m0 -7v2m0 -67v2m0 -22v2m0 -76v2m0 -48v2m0 -16v2m0 -78v2m0 -91v2m0 -43v1m0 -7v2m0 -36v2m0 -8v2m0 -14v3m0 -29v2m0 -33v2m0 -16v2m11 634v1m0 -14v2m0 -9v2m0 -42v2m0 -22v2m0 -26v2m0 -22v2m0 -34v2m0 -44v2m0 -14v1m0 -7v2m0 -15v2m0 -21v1m0 -23v2m0 -9v1m0 -16v2m0 -9v2m0 -78v2m0 -11v1m0 -21v2m0 -42v2m0 -156v2m5 608v2m0 -22v2m0 -78v2m0 -9v2m0 -20v2m0 -9v2m0 -26v2m0 -22v2m0 -22v2m0 -45v2m0 -76v1m0 -5v2m0 -9v2m0 -19v2m0 -16v4m0 -62v2m0 -24v2m0 -20v2m0 -49v2m0 -25v1m0 -147v1m11 662v2m0 -5v2m0 -26v2m0 -80v4m0 -58v2m0 -9v2m0 -20v2m0 -191v2m0 -18v2m0 -34v1m0 -23v2m0 -24v2m0 -20v2m0 -6v2m0 -101v2m11 584v2m0 -123v2m0 -7v2m0 -120v2m0 -6v2m0 -16v2m0 -9v1m0 -57v1m0 -29v2m0 -90v1m0 -77v1m0 -7v2m0 -73v2m5 564v1m0 -12v3m0 -16v2m0 -13v2m0 -44v2m0 -47v4m0 -245v2m0 -58v2m0 -58v2m0 -11v2m0 -141v1m11 663v2m0 -36v2m0 -15v2m0 -15v2m0 -58v2m0 -40v2m0 -5v1m0 -16v2m0 -11v2m0 -11v2m0 -13v2m0 -44v2m0 -25v2m0 -9v2m0 -33v4m0 -22v2m0 -13v2m0 -85v3m0 -12v1m0 -45v2m0 -63v1m0 -16v2m0 -49v2m0 -6v2m0 -14v1m0 -48v1m0 -12v2m11 651v2m0 -23v2m0 -19v2m0 -81v2m0 -15v2m0 -7v1m0 -18v2m0 -60v2m0 -25v2m0 -31v2m0 -11v2m0 -20v2m0 -40v2m0 -39v2m0 -11v2m0 -54v2m0 -82v2m0 -40v2m0 -29v2m0 -67v2m5 639v2m0 -29v2m0 -86v2m0 -61v3m0 -38v2m0 -60v2m0 -40v2m0 -7v2m0 -87v2m0 -29v1m0 -105v2m0 -29v2m11 513v1m0 -21v1m0 -9v2m0 -27v2m0 -24v2m0 -18v2m0 -18v1m0 -12v2m0 -37v2m0 -14v2m0 -37v4m0 -25v1m0 -29v2m0 -11v2m0 -29v2m0 -96v2m0 -26v2m0 -9v2m0 -7v2m0 -19v2m0 -18v2m0 -13v2m0 -25v2m0 -15v2m0 -22v2m0 -16v3m0 -7v2m0 -33v2m0 -31v2m11 605v2m0 -11v2m0 -15v2m0 -5v1m0 -7v2m0 -62v2m0 -11v2m0 -22v2m0 -34v2m0 -56v1m0 -43v2m0 -44v2m0 -23v1m0 -63v2m0 -26v2m0 -52v1m0 -10v1m0 -61v2m0 -47v1m0 -30v3m0 -14v2m0 -22v2m0 -9v1m0 -20v2m5 652v2m0 -25v2m0 -53v2m0 -36v1m0 -36v2m0 -150v1m0 -32v2m0 -55v2m0 -16v2m0 -133v2m0 -78v2m11 589v2m0 -8v2m0 -12v1m0 -61v2m0 -8v2m0 -61v1m0 -23v2m0 -6v2m0 -65v2m0 -138v2m0 -31v2m0 -20v2m0 -55v2m0 -7v2m0 -26v2m0 -14v2m0 -107v1m0 -7v2m0 -14v1m11 647v2m0 -15v2m0 -38v2m0 -15v2m0 -29v2m0 -60v2m0 -47v2m0 -26v2m0 -27v2m0 -7v1m0 -36v2m0 -33v2m0 -45v2m0 -15v2m0 -109v2m0 -16v2m0 -51v2m0 -47v2m0 -6v2m0 -20v2m0 -26v2m0 -14v2m0 -29v1m5 649v2m0 -35v2m0 -20v4m0 -67v2m0 -26v2m0 -74v2m0 -42v2m0 -38v1m0 -54v2m0 -78v2m0 -44v2m0 -41v1m0 -25v2m0 -44v2m0 -52v1m0 -7v2m0 -27v2m11 677v2m0 -15v2m0 -5v2m0 -19v2m0 -18v4m0 -15v2m0 -145v2m0 -110v1m0 -18v2m0 -74v2m0 -69v2m0 -8v2m0 -20v2m0 -27v2m0 -73v4m0 -47v2m0 -49v2m11 655v4m0 -40v2m0 -71v2m0 -6v2m0 -54v2m0 -8v4m0 -16v2m0 -113v2m0 -5v2m0 -10v2m0 -5v2m0 -33v2m0 -15v2m0 -45v2m0 -8v2m0 -157v2m0 -44v2m0 -35v2m0 -16v2m0 -16v1m5 600v2m0 -53v2m0 -64v2m0 -92v2m0 -22v2m0 -31v2m0 -15v2m0 -23v1m0 -12v2m0 -49v1m0 -21v2m0 -48v2m0 -49v2m0 -27v2m0 -60v2m0 -11v2m0 -27v1m11 604v1m0 -38v2m0 -83v2m0 -42v2m0 -167v2m0 -114v2m0 -31v2m0 -20v2m0 -17v2m0 -16v2m0 -133v2m11 670v2m0 -32v5m0 -92v1m0 -14v2m0 -6v2m0 -36v2m0 -8v2m0 -9v2m0 -7v2m0 -17v2m0 -14v1m0 -45v2m0 -47v2m0 -42v2m0 -27v2m0 -19v2m0 -16v2m0 -36v1m0 -11v2m0 -221v4m5 641v2m0 -35v2m0 -59v1m0 -9v2m0 -31v2m0 -5v1m0 -112v2m0 -5v1m0 -76v2m0 -80v2m0 -23v2m0 -89v2m0 -13v2m0 -29v2m0 -35v2m0 -13v2m11 598v2m0 -17v2m0 -92v2m0 -6v2m0 -35v2m0 -16v2m0 -64v2m0 -81v2m0 -93v2m0 -36v2m0 -28v2m0 -11v2m0 -9v2m0 -156v2m0 -53v2m11 645v2m0 -35v2m0 -41v1m0 -34v4m0 -20v1m0 -61v2m0 -73v2m0 -29v2m0 -36v2m0 -60v2m0 -31v2m0 -136v2m0 -82v2m0 -33v2m5 496v2m0 -20v2m0 -24v2m0 -83v2m0 -15v2m0 -16v7m0 -13v2m0 -27v2m0 -65v1m0 -43v2m0 -47v3m0 -94v2m0 -65v2m11 572v2m0 -163v1m0 -23v2m0 -13v2m0 -62v2m0 -81v1m0 -10v1m0 -106v1m0 -11v2m0 -83v4m0 -24v2m16 636v1m0 -30v1m0 -103v2m0 -80v2m0 -14v1m0 -14v2m0 -136v2m0 -13v2m0 -26v2m0 -119v2m0 -31v2m0 -28v2m0 -31v2m0 -34v2m11 628v2m0 -16v1m0 -7v2m0 -14v1m0 -41v1m0 -50v2m0 -13v2m0 -6v2m0 -14v1m0 -21v1m0 -5v2m0 -7v1m0 -10v1m0 -23v2m0 -9v1m0 -23v2m0 -11v2m0 -11v2m0 -20v1m0 -27v2m0 -18v2m0 -24v2m0 -20v2m0 -15v2m0 -58v2m0 -11v2m0 -9v2m0 -15v2m0 -40v4m0 -78v2m0 -15v2m0 -20v2m0 -11v2m0 -45v2m0 -17v2m11 667v1m0 -30v1m0 -18v2m0 -61v3m0 -9v2m0 -18v2m0 -19v2m0 -45v2m0 -18v2m0 -37v2m0 -110v1m0 -77v1m0 -67v2m0 -76v2m0 -31v2m0 -60v2m32 650v2m0 -31v2m0 -5v1m0 -83v2m0 -20v2m0 -13v2m0 -35v4m0 -74v2m0 -26v4m0 -67v2m0 -24v2m0 -62v2m0 -20v2m0 -96v2m0 -24v2m0 -65v2m0 -7v1m0 -56v6m11 659v2m0 -31v2m0 -73v4m0 -27v2m0 -13v2m0 -17v2m0 -83v2m0 -125v2m0 -29v1m0 -5v2m0 -7v1m0 -59v1m0 -27v2m0 -156v2m0 -22v2m27 670v2m0 -7v2m0 -11v2m0 -142v2m0 -23v1m0 -39v1m0 -125v2m0 -31v2m0 -116v2m0 -40v2m0 -13v2m0 -25v2m0 -60v2m0 -9v2m0 -78v1m27 671v1m0 -9v2m0 -49v2m0 -11v2m0 -188v1m0 -61v2m0 -71v2m0 -82v2m0 -52v1m0 -96v2m0 -29v2m0 -9v2m27 641v2m0 -17v2m0 -52v2m0 -31v2m0 -87v1m0 -36v2m0 -31v2m0 -94v2m0 -11v2m0 -122v2m0 -63v2m27 527v1m0 -29v4m0 -18v2m0 -35v2m0 -18v2m0 -60v2m0 -51v2m0 -31v2m0 -116v2m0 -11v2m0 -7v1m0 -68v1m0 -54v2m0 -9v2m0 -9v1m0 -65v2m0 -9v2m0 -44v2m0 -36v2m0 -24v2m0 -26v1m27 628v2m0 -24v2m0 -11v2m0 -29v2m0 -125v2m0 -11v2m0 -91v2m0 -56v2m0 -8v2m0 -14v2m0 -53v2m0 -73v2m0 -27v2m0 -44v2m0 -81v2m27 612v1m0 -21v2m0 -13v2m0 -17v2m0 -12v1m0 -34v2m0 -11v3m0 -19v1m0 -34v2m0 -22v2m0 -6v2m0 -29v2m0 -9v2m0 -67v2m0 -35v2m0 -7v2m0 -15v2m0 -27v2m0 -49v1m0 -59v2m0 -28v2m0 -36v2m0 -29v2m0 -15v2m0 -42v2"/>
<path stroke="#481668" stroke-width="6" d="M130 699v3m0 -87v2m0 -201v2m0 -22v2m0 -16v2m0 -6v2m0 -11v2m0 -56v2m0 -11v2m0 -107v2m0 -64v2m11 599v2m0 -9v2m0 -81v1m0 -126v1m0 -27v2m0 -9v2m0 -46v2m0 -30v3m0 -36v2m0 -8v2m0 -14v2m0 -47v1m0 -119v2m0 -18v1m0 -7v2m0 -7v1m16 580v5m0 -27v2m0 -42v2m0 -61v1m0 -76v2m0 -49v2m0 -9v2m0 -35v2m0 -18v2m0 -125v2m0 -44v2m0 -69v2m0 -41v1m0 -56v2m0 -13v2m0 -23v1m0 -9v2m0 -7v2m11 675v2m0 -107v2m0 -78v2m0 -6v2m0 -41v1m0 -27v2m0 -27v2m0 -24v2m0 -34v1m0 -41v2m0 -37v2m0 -81v1m0 -94v2m0 -16v2m0 -28v2m0 -25v2m0 -20v2m16 572v2m0 -42v2m0 -24v2m0 -20v2m0 -29v4m0 -98v2m0 -51v2m0 -129v2m0 -58v2m0 -78v2m0 -93v2m11 643v2m0 -81v1m0 -21v3m0 -31v2m0 -67v2m0 -34v1m0 -38v2m0 -123v2m0 -7v1m0 -36v2m0 -74v2m0 -129v2m0 -7v1m0 -7v2m16 656v1m0 -150v2m0 -7v1m0 -7v2m0 -89v2m0 -49v2m0 -49v2m0 -53v2m0 -22v2m0 -52v2m0 -51v2m0 -66v2m0 -12v1m0 -30v3m0 -7v2m0 -51v2m11 648v2m0 -20v2m0 -54v1m0 -23v2m0 -27v1m0 -65v2m0 -44v2m0 -36v2m0 -13v2m0 -29v2m0 -18v2m0 -33v2m0 -123v1m0 -18v2m0 -109v2m0 -5v2m0 -60v2m16 677v2m0 -6v2m0 -78v2m0 -190v2m0 -24v2m0 -43v1m0 -25v2m0 -36v1m0 -57v1m0 -5v2m0 -46v2m0 -18v2m0 -25v1m0 -12v2m0 -46v2m0 -33v2m0 -47v2m11 627v1m0 -36v2m0 -20v2m0 -13v2m0 -74v2m0 -29v1m0 -99v3m0 -32v2m0 -24v2m0 -20v2m0 -38v2m0 -17v2m0 -16v2m0 -11v2m0 -37v2m0 -22v2m0 -14v2m0 -6v2m0 -36v2m0 -48v2m0 -25v2m16 463v2m0 -16v2m0 -111v2m0 -42v2m0 -43v2m0 -10v2m0 -49v2m0 -181v2m0 -20v2m0 -17v2m0 -18v2m0 -33v2m11 580v2m0 -58v1m0 -16v2m0 -96v2m0 -105v2m0 -91v2m0 -58v2m0 -82v2m0 -80v2m16 621v2m0 -22v2m0 -11v2m0 -9v2m0 -31v2m0 -9v2m0 -55v6m0 -26v2m0 -168v2m0 -31v2m0 -51v3m0 -23v2m0 -49v2m0 -8v2m0 -7v4m0 -84v2m0 -20v2m0 -7v2m0 -51v2m0 -24v2m11 659v2m0 -109v4m0 -100v2m0 -13v2m0 -34v2m0 -18v1m0 -85v2m0 -56v2m0 -22v2m0 -6v2m0 -12v1m0 -7v2m0 -25v1m0 -32v2m0 -82v2m0 -16v1m0 -7v2m16 590v2m0 -36v2m0 -18v1m0 -57v1m0 -54v2m0 -26v2m0 -32v1m0 -112v2m0 -103v2m0 -19v2m0 -90v2m0 -93v2m0 -18v2m0 -29v2m0 -11v1m11 660v1m0 -57v1m0 -63v2m0 -67v2m0 -165v2m0 -40v2m0 -138v2m0 -17v2m0 -18v2m0 -7v2m0 -20v1m0 -5v2m0 -6v2m0 -56v2m16 608v2m0 -25v3m0 -48v1m0 -30v1m0 -21v1m0 -72v2m0 -49v2m0 -75v2m0 -18v2m0 -42v2m0 -63v2m0 -10v2m0 -47v2m0 -69v2m0 -18v2m0 -6v2m11 589v1m0 -16v2m0 -16v2m0 -20v1m0 -20v2m0 -143v2m0 -24v2m0 -18v2m0 -7v2m0 -20v1m0 -9v2m0 -18v2m0 -92v1m0 -20v2m0 -56v2m0 -27v2m0 -78v3m0 -9v2m0 -33v2m0 -9v2m0 -14v1m16 614v2m0 -45v2m0 -47v1m0 -27v2m0 -5v1m0 -14v2m0 -46v2m0 -52v2m0 -75v2m0 -40v2m0 -20v2m0 -9v2m0 -24v2m0 -13v2m0 -228v2m0 -9v1m0 -10v1m0 -18v2m0 -11v2m11 645v2m0 -6v2m0 -33v2m0 -7v2m0 -18v1m0 -27v2m0 -49v2m0 -14v1m0 -18v2m0 -22v2m0 -45v2m0 -55v2m0 -31v2m0 -23v1m0 -59v1m0 -45v2m0 -25v1m0 -76v2m16 533v3m0 -11v2m0 -34v2m0 -9v1m0 -39v1m0 -14v2m0 -49v2m0 -13v2m0 -6v2m0 -72v1m0 -25v2m0 -22v2m0 -91v4m0 -63v2m0 -15v2m0 -6v2m0 -36v2m0 -26v2m0 -121v2m0 -13v2m0 -27v2m11 691v2m0 -7v2m0 -24v2m0 -24v2m0 -98v2m0 -43v2m0 -145v2m0 -13v2m0 -8v2m0 -32v1m0 -39v1m0 -29v2m0 -5v2m0 -6v2m0 -103v2m0 -9v1m0 -32v2m0 -19v2m0 -40v2m0 -38v2m16 616v2m0 -17v2m0 -42v2m0 -20v2m0 -83v2m0 -28v2m0 -96v4m0 -9v2m0 -9v1m0 -18v2m0 -148v1m0 -70v2m0 -96v1m0 -12v2m0 -21v1m11 644v2m0 -54v2m0 -91v2m0 -34v1m0 -38v2m0 -72v1m0 -7v2m0 -38v2m0 -7v1m0 -7v2m0 -22v2m0 -20v2m0 -18v2m0 -15v2m0 -22v2m0 -43v1m0 -67v2m0 -80v2m0 -29v2m16 648v4m0 -54v2m0 -9v1m0 -47v2m0 -36v2m0 -22v2m0 -17v2m0 -11v2m0 -87v2m0 -13v2m0 -36v2m0 -24v2m0 -9v2m0 -44v2m0 -74v2m0 -17v4m0 -14v1m11 395v2m0 -11v2m0 -76v2m0 -33v2m0 -13v4m0 -11v2m0 -187v2m0 -63v1m0 -27v2m0 -43v1m0 -5v2m0 -24v2m0 -9v2m0 -6v2m0 -20v2m0 -61v1m16 656v2m0 -18v1m0 -52v2m0 -60v4m0 -46v2m0 -9v2m0 -98v2m0 -7v3m0 -14v2m0 -24v2m0 -53v2m0 -12v1m0 -43v3m0 -14v2m0 -9v2m0 -64v2m0 -92v1m0 -21v2m16 575v2m0 -47v2m0 -15v2m0 -29v2m0 -81v3m0 -63v2m0 -42v2m0 -38v2m0 -105v1m0 -10v3m0 -36v4m0 -22v2m0 -28v2m0 -20v2m0 -51v2m0 -67v2m11 632v2m0 -56v2m0 -82v2m0 -76v2m0 -6v2m0 -27v2m0 -35v2m0 -9v2m0 -7v1m0 -20v2m0 -27v2m0 -101v1m0 -56v2m0 -14v1m0 -11v2m0 -132v2m0 -20v2m16 650v2m0 -125v2m0 -11v2m0 -118v2m0 -13v2m0 -74v1m0 -32v2m0 -20v1m0 -126v1m0 -9v2m0 -158v1m11 648v2m0 -71v2m0 -40v2m0 -34v1m0 -18v2m0 -42v2m0 -18v2m0 -16v1m0 -25v2m0 -67v2m0 -78v2m0 -73v2m0 -16v2m0 -15v2m0 -20v2m0 -9v1m16 538v2m0 -31v2m0 -31v2m0 -31v2m0 -41v1m0 -21v1m0 -7v2m0 -7v2m0 -38v1m0 -77v1m0 -58v2m0 -38v2m0 -42v2m0 -36v2m0 -9v1m0 -29v2m0 -9v2m0 -42v2m0 -22v2m11 312v2m0 -46v2m0 -7v2m0 -31v2m0 -84v2m0 -27v2m0 -9v2m0 -13v2m0 -22v2m0 -47v2m0 -55v2m0 -123v2m0 -8v2m16 656v2m0 -26v2m0 -7v2m0 -26v2m0 -18v2m0 -89v2m0 -69v2m0 -18v2m0 -62v2m0 -24v2m0 -5v2m0 -98v2m0 -6v2m0 -6v2m0 -18v2m0 -5v1m0 -49v2m0 -25v2m0 -17v2m0 -41v1m0 -14v2m0 -37v2m0 -27v2m11 567v3m0 -48v1m0 -59v1m0 -49v2m0 -74v2m0 -9v2m0 -105v1m0 -7v2m0 -51v2m0 -13v2m0 -79v1m0 -52v2m0 -59v1m16 601v2m0 -64v2m0 -22v2m0 -18v2m0 -132v2m0 -73v2m0 -25v1m0 -125v2m0 -7v2m0 -84v2m11 535v1m0 -30v1m0 -85v2m0 -13v2m0 -16v2m0 -29v2m0 -8v2m0 -56v2m0 -49v2m0 -76v1m0 -45v2m0 -22v4m0 -11v2m0 -27v3m0 -49v2m0 -116v2m16 518v2m0 -42v2m0 -34v1m0 -61v2m0 -114v1m0 -9v2m0 -107v2m0 -89v2m0 -27v2m0 -7v1m0 -12v1m0 -39v1m11 654v2m0 -9v2m0 -53v2m0 -54v2m0 -19v4m0 -56v2m0 -31v2m0 -151v2m0 -143v2m0 -7v2m0 -31v2m0 -17v2m0 -34v2m0 -10v2m16 594v2m0 -20v2m0 -9v2m0 -6v2m0 -20v2m0 -72v1m0 -18v2m0 -20v2m0 -20v2m0 -9v2m0 -6v2m0 -109v2m0 -7v2m0 -22v2m0 -73v2m0 -38v2m0 -87v2m0 -24v2m0 -11v2m0 -5v1m0 -81v2m0 -8v2m0 -16v2m11 626v2m0 -12v3m0 -16v4m0 -29v1m0 -29v2m0 -41v1m0 -9v2m0 -25v2m0 -73v2m0 -9v2m0 -42v2m0 -22v2m0 -27v2m0 -37v2m0 -14v3m0 -69v2m0 -85v4m0 -13v2m0 -24v4m0 -13v2m0 -47v2m0 -20v2m0 -6v2m0 -13v2m16 638v2m0 -17v2m0 -100v2m0 -47v2m0 -24v2m0 -31v2m0 -141v2m0 -45v1m0 -5v2m0 -26v2m0 -45v4m0 -24v2m0 -13v2m0 -60v2m0 -36v3m0 -20v2m0 -9v2m0 -7v2m0 -46v2m0 -11v2m11 643v2m0 -102v2m0 -23v1m0 -23v2m0 -56v1m0 -16v2m0 -89v2m0 -20v2m0 -27v2m0 -6v2m0 -20v2m0 -11v2m0 -18v3m0 -21v1m0 -20v2m0 -29v2m0 -56v2m0 -15v2m0 -9v2m0 -45v1m0 -36v2m43 628v2m0 -51v2m0 -36v2m0 -6v2m0 -18v2m0 -49v4m0 -58v2m0 -24v2m0 -22v2m0 -114v2m0 -35v2m0 -91v2m0 -18v4m0 -35v2m0 -27v2m0 -7v1m0 -83v2m0 -16v1m0 -21v1m11 622v3m0 -9v2m0 -20v4m0 -38v2m0 -20v1m0 -9v2m0 -14v1m0 -34v2m0 -109v2m0 -24v2m0 -54v2m0 -42v2m0 -24v2m0 -34v2m0 -58v1m0 -34v4m0 -37v2m0 -34v2m0 -8v2m0 -29v2m0 -20v2"/>
<path stroke="#481b6d" stroke-width="5" d="M124.5 753v2m0 -71v2m0 -112v2m0 -58v1m0 -32v2m0 -22v2m0 -20v2m0 -26v2m0 -34v2m0 -10v2m0 -36v2m0 -7v1m0 -179v2m0 -45v1m11 556v2m0 -40v2m0 -54v2m0 -51v2m0 -94v1m0 -12v2m0 -120v2m0 -27v2m0 -115v2m0 -40v2m0 -45v2m11 617v2m0 -47v2m0 -9v2m0 -33v2m0 -35v2m0 -72v2m0 -149v2m0 -214v2m0 -34v1m0 -21v1m0 -5v2m5 619v2m0 -20v2m0 -69v2m0 -22v2m0 -87v2m0 -44v2m0 -60v2m0 -32v2m0 -42v2m0 -142v2m0 -23v1m0 -10v1m0 -45v2m0 -13v2m0 -33v2m0 -5v2m11 597v2m0 -20v2m0 -25v1m0 -32v2m0 -64v2m0 -34v2m0 -24v2m0 -6v2m0 -181v2m0 -36v1m0 -96v2m0 -79v1m0 -29v2m11 634v2m0 -116v2m0 -45v1m0 -36v2m0 -121v1m0 -39v3m0 -23v1m0 -29v2m0 -128v2m0 -37v2m5 525v2m0 -5v2m0 -11v3m0 -146v1m0 -97v1m0 -5v2m0 -44v2m0 -9v2m0 -85v2m0 -35v2m0 -22v2m0 -105v2m0 -6v2m0 -11v2m0 -23v1m0 -34v2m0 -28v1m11 666v2m0 -6v2m0 -49v2m0 -27v2m0 -53v2m0 -22v2m0 -23v1m0 -128v2m0 -27v1m0 -32v2m0 -147v2m0 -27v1m0 -7v2m0 -11v2m0 -24v2m11 462v2m0 -13v2m0 -18v2m0 -15v2m0 -94v2m0 -8v2m0 -65v2m0 -20v3m0 -152v2m0 -52v1m0 -5v2m0 -24v2m0 -5v1m0 -45v2m0 -63v1m5 632v2m0 -20v2m0 -23v1m0 -68v1m0 -16v4m0 -42v2m0 -83v3m0 -81v2m0 -48v4m0 -18v2m0 -29v2m0 -38v1m0 -45v2m0 -49v2m0 -42v2m11 551v1m0 -12v1m0 -81v2m0 -82v2m0 -40v2m0 -92v2m0 -62v2m0 -35v2m0 -63v2m0 -51v2m0 -35v2m0 -25v2m0 -42v2m11 626v2m0 -5v1m0 -68v3m0 -61v2m0 -131v2m0 -92v1m0 -23v2m0 -8v2m0 -87v4m0 -16v1m0 -94v2m0 -45v2m0 -9v1m5 612v2m0 -81v2m0 -51v2m0 -259v2m0 -156v2m0 -24v2m0 -11v2m0 -11v2m0 -40v2m0 -27v1m0 -22v1m11 655v2m0 -16v2m0 -28v2m0 -38v2m0 -76v2m0 -24v2m0 -36v2m0 -113v2m0 -7v2m0 -6v2m0 -16v2m0 -40v2m0 -46v2m0 -33v2m0 -174v2m11 625v2m0 -29v2m0 -15v2m0 -81v1m0 -241v2m0 -21v1m0 -58v2m0 -101v2m0 -6v2m0 -67v2m5 610v2m0 -7v1m0 -132v2m0 -74v2m0 -42v2m0 -51v2m0 -34v1m0 -41v1m0 -34v2m0 -7v1m0 -23v2m0 -58v2m0 -42v2m0 -20v2m0 -46v2m11 574v2m0 -9v2m0 -89v2m0 -20v2m0 -38v2m0 -73v2m0 -92v1m0 -61v2m0 -13v2m0 -35v2m0 -36v2m0 -33v2m0 -112v1m11 575v1m0 -30v1m0 -179v2m0 -31v4m0 -136v2m0 -69v2m0 -49v2m0 -35v2m0 -13v2m0 -99v1m0 -10v1m5 652v2m0 -72v1m0 -110v2m0 -26v4m0 -107v2m0 -121v2m0 -6v2m0 -45v1m0 -19v1m0 -155v1m11 647v2m0 -36v1m0 -43v2m0 -11v2m0 -11v2m0 -58v1m0 -32v2m0 -24v2m0 -172v2m0 -28v2m0 -27v2m0 -27v2m0 -67v1m0 -18v2m0 -90v1m11 491v2m0 -18v2m0 -38v1m0 -86v1m0 -25v2m0 -40v2m0 -9v2m0 -98v2m0 -22v2m0 -11v2m0 -147v3m0 -21v2m0 -22v2m5 632v3m0 -228v2m0 -45v1m0 -94v2m0 -56v2m0 -47v1m0 -50v3m0 -10v1m0 -63v2m0 -31v4m11 594v1m0 -36v4m0 -15v2m0 -14v1m0 -41v2m0 -6v2m0 -7v2m0 -62v2m0 -13v2m0 -11v2m0 -65v2m0 -6v2m0 -18v2m0 -13v2m0 -17v2m0 -81v2m0 -80v2m0 -46v4m0 -20v2m0 -129v2m11 574v2m0 -127v2m0 -25v2m0 -194v2m0 -87v3m0 -78v2m0 -41v1m5 520v2m0 -16v1m0 -9v2m0 -5v2m0 -20v1m0 -19v1m0 -9v2m0 -20v2m0 -121v1m0 -132v2m0 -31v2m0 -43v1m0 -48v1m0 -45v2m0 -75v1m11 644v2m0 -40v2m0 -145v2m0 -9v2m0 -54v1m0 -41v1m0 -45v2m0 -18v2m0 -13v2m0 -33v2m0 -11v2m0 -16v5m0 -177v1m0 -30v1m11 598v2m0 -24v2m0 -9v2m0 -7v2m0 -95v2m0 -92v2m0 -29v3m0 -150v2m0 -6v2m0 -65v2m0 -31v2m0 -36v1m0 -9v2m0 -11v6m0 -33v2m5 560v1m0 -5v2m0 -27v1m0 -41v2m0 -89v2m0 -40v2m0 -19v2m0 -47v2m0 -25v1m0 -161v2m0 -71v2m0 -32v1m11 558v4m0 -27v2m0 -22v2m0 -22v2m0 -183v2m0 -78v2m0 -127v2m0 -69v5m0 -98v2m0 -25v2m0 -8v4m0 -22v4m11 616v1m0 -115v1m0 -110v2m0 -33v2m0 -16v1m0 -16v2m0 -13v2m0 -125v2m0 -9v2m0 -111v2m0 -53v2m0 -18v2m5 643v2m0 -17v2m0 -18v2m0 -111v2m0 -47v2m0 -13v2m0 -42v2m0 -41v1m0 -38v2m0 -58v2m0 -38v2m0 -123v3m0 -101v2m11 641v2m0 -29v1m0 -14v2m0 -62v2m0 -14v1m0 -30v1m0 -25v2m0 -38v2m0 -24v2m0 -20v2m0 -22v2m0 -18v2m0 -142v2m0 -99v1m0 -12v1m0 -117v2m0 -10v2m0 -5v2m0 -11v2m11 643v1m0 -56v2m0 -52v1m0 -30v1m0 -59v1m0 -67v2m0 -45v2m0 -31v2m0 -20v2m0 -24v2m0 -15v2m0 -12v1m0 -9v2m0 -27v2m0 -22v2m0 -31v2m0 -138v2m5 543v2m0 -13v2m0 -45v2m0 -29v3m0 -12v2m0 -67v1m0 -12v3m0 -121v2m0 -64v2m0 -21v1m0 -29v2m0 -25v2m0 -75v2m0 -92v2m0 -9v1m11 640v1m0 -27v2m0 -16v2m0 -11v2m0 -51v2m0 -33v2m0 -62v2m0 -58v2m0 -27v2m0 -24v2m0 -6v2m0 -36v2m0 -25v1m0 -27v2m0 -47v2m0 -35v2m0 -43v1m0 -18v2m0 -65v4m0 -29v1m0 -45v2m0 -11v2m11 641v2m0 -51v2m0 -109v2m0 -38v2m0 -165v2m0 -13v4m0 -80v2m0 -9v2m0 -71v2m0 -9v2m0 -78v2m0 -13v2m5 644v2m0 -23v1m0 -68v1m0 -92v2m0 -67v2m0 -228v1m0 -56v2m0 -7v2m0 -46v2m0 -90v1m11 645v2m0 -82v2m0 -23v2m0 -98v2m0 -33v2m0 -8v2m0 -18v2m0 -24v2m0 -31v2m0 -21v1m0 -65v2m0 -76v2m0 -69v2m0 -11v3m0 -27v2m0 -32v1m0 -18v2m0 -51v2m11 574v2m0 -22v2m0 -27v4m0 -29v1m0 -5v2m0 -45v3m0 -14v1m0 -38v2m0 -7v2m0 -33v2m0 -7v2m0 -57v2m0 -5v2m0 -24v2m0 -44v2m0 -43v2m0 -19v2m0 -7v2m0 -7v1m0 -32v2m0 -40v2m0 -58v1m0 -5v2m0 -26v4m5 621v2m0 -9v2m0 -64v2m0 -119v3m0 -97v1m0 -43v2m0 -116v2m0 -20v2m0 -10v2m0 -27v2m0 -11v2m0 -27v2m0 -95v2m0 -18v2m11 599v2m0 -40v2m0 -119v1m0 -14v2m0 -11v2m0 -44v2m0 -38v2m0 -80v2m0 -51v2m0 -51v2m0 -71v2m0 -12v1m0 -65v2m0 -7v2m0 -33v2m0 -22v2m5 612v2m0 -6v2m0 -22v2m0 -16v2m0 -64v2m0 -14v2m0 -55v2m0 -67v2m0 -11v2m0 -120v2m0 -16v2m0 -33v2m0 -38v2m0 -42v2m0 -22v2m0 -93v2m11 650v2m0 -20v2m0 -38v2m0 -27v2m0 -40v3m0 -70v1m0 -16v2m0 -14v1m0 -27v2m0 -31v2m0 -33v2m0 -11v2m0 -23v1m0 -43v2m0 -36v1m0 -30v1m0 -38v2m0 -90v1m0 -5v2m0 -29v2m0 -85v1m11 638v2m0 -11v2m0 -28v2m0 -5v2m0 -38v1m0 -67v2m0 -11v2m0 -170v2m0 -64v2m0 -23v1m0 -18v2m0 -29v2m0 -105v2m0 -94v1m5 645v2m0 -6v2m0 -7v2m0 -15v2m0 -107v2m0 -60v2m0 -38v4m0 -51v2m0 -24v2m0 -18v2m0 -20v2m0 -6v2m0 -67v2m0 -58v2m0 -76v1m0 -52v2m0 -36v1m0 -30v1m0 -18v2m11 659v2m0 -76v2m0 -36v1m0 -16v2m0 -82v2m0 -21v3m0 -87v2m0 -52v1m0 -79v1m0 -117v2m0 -35v2m0 -20v2m0 -11v2m11 552v2m0 -22v2m0 -20v2m0 -51v2m0 -49v2m0 -5v1m0 -30v1m0 -81v2m0 -27v1m0 -16v2m0 -22v2m0 -141v1m0 -38v2m0 -70v1m0 -48v1m5 658v2m0 -49v1m0 -23v2m0 -38v3m0 -16v2m0 -9v2m0 -38v1m0 -61v2m0 -86v2m0 -79v1m0 -21v1m0 -7v2m0 -56v2m0 -15v2m0 -5v1m0 -159v2m0 -31v2m11 643v2m0 -6v2m0 -22v2m0 -150v2m0 -9v1m0 -141v2m0 -123v2m0 -40v2m0 -64v2m0 -9v2m0 -27v1m0 -43v2m11 603v2m0 -62v2m0 -51v2m0 -7v1m0 -14v2m0 -87v2m0 -143v1m0 -52v2m0 -35v2m0 -22v2m0 -12v5m0 -107v2m0 -74v1m5 629v2m0 -18v3m0 -32v1m0 -135v1m0 -70v2m0 -8v2m0 -36v2m0 -35v2m0 -80v4m0 -40v2m0 -9v2m0 -31v2m0 -31v2m0 -42v4m0 -60v2m0 -36v1m11 658v2m0 -47v1m0 -96v2m0 -31v2m0 -32v1m0 -105v2m0 -31v2m0 -81v2m0 -33v4m0 -64v2m0 -60v2m0 -51v2m0 -29v2m0 -20v2m11 637v2m0 -16v4m0 -64v2m0 -114v2m0 -31v2m0 -11v2m0 -40v2m0 -17v2m0 -148v1m0 -63v2m0 -91v4m0 -13v2m0 -45v2m5 568v2m0 -9v2m0 -20v2m0 -46v2m0 -61v1m0 -14v2m0 -89v2m0 -36v1m0 -18v2m0 -85v2m0 -54v1m0 -20v2m0 -20v2m0 -60v2m0 -20v2m0 -36v2m11 585v3m0 -22v2m0 -61v2m0 -31v2m0 -48v2m0 -230v2m0 -13v2m0 -20v2m0 -139v3m0 -7v2m0 -36v1m11 593v1m0 -30v1m0 -81v2m0 -7v3m0 -38v2m0 -101v1m0 -114v2m0 -25v2m0 -19v2m0 -43v2m0 -109v2m0 -22v2m0 -29v2m5 632v1m0 -9v2m0 -23v2m0 -26v2m0 -36v2m0 -20v1m0 -48v1m0 -7v2m0 -11v2m0 -24v2m0 -22v2m0 -79v1m0 -34v2m0 -42v2m0 -15v2m0 -12v1m0 -47v2m0 -5v1m0 -36v2m0 -11v2m0 -13v2m0 -7v2m0 -6v2m0 -11v2m0 -14v1m0 -9v2m0 -139v3m11 663v2m0 -58v2m0 -122v2m0 -58v2m0 -23v3m0 -127v2m0 -34v2m0 -13v2m0 -36v1m0 -61v3m0 -34v2m0 -13v2m0 -5v1m11 446v2m0 -55v2m0 -89v2m0 -20v2m0 -25v2m0 -223v2m0 -89v2m0 -24v2m0 -16v1m5 623v2m0 -9v2m0 -83v2m0 -31v2m0 -66v2m0 -22v2m0 -23v1m0 -43v4m0 -230v1m0 -72v2m0 -11v2m0 -78v2m0 -10v1m11 666v2m0 -7v1m0 -23v2m0 -40v2m0 -20v2m0 -111v2m0 -38v2m0 -15v2m0 -89v2m0 -22v2m0 -31v2m0 -36v2m0 -26v2m0 -63v2m0 -9v1m11 504v2m0 -27v3m0 -27v2m0 -53v2m0 -63v2m0 -53v2m0 -7v3m0 -11v2m0 -22v2m0 -65v2m0 -33v2m0 -25v2m0 -29v1m0 -63v2m0 -116v2m0 -29v2m5 592v2m0 -62v2m0 -45v1m0 -41v1m0 -10v1m0 -85v2m0 -116v2m0 -60v2m0 -18v2m0 -27v1m0 -61v2m0 -18v1m0 -20v2m0 -14v2m0 -115v2m11 656v2m0 -38v1m0 -30v1m0 -25v2m0 -24v2m0 -23v1m0 -41v2m0 -22v2m0 -56v1m0 -12v2m0 -69v2m0 -60v2m0 -44v2m0 -20v2m0 -122v2m16 507v2m0 -11v4m0 -33v2m0 -16v2m0 -17v2m0 -47v2m0 -6v2m0 -27v2m0 -33v2m0 -20v2m0 -206v1m0 -30v1m0 -68v1m0 -18v2m0 -60v2m0 -5v1m11 633v1m0 -18v2m0 -16v2m0 -13v2m0 -17v2m0 -22v4m0 -42v2m0 -9v2m0 -16v2m0 -46v2m0 -9v2m0 -16v3m0 -40v2m0 -9v2m0 -11v2m0 -45v1m0 -18v2m0 -38v2m0 -9v2m0 -8v2m0 -14v1m0 -36v2m0 -11v2m0 -14v1m0 -25v5m0 -18v2m0 -11v2m0 -7v2m0 -40v2m0 -8v2m0 -14v1m0 -7v4m0 -13v2m0 -83v1m0 -18v2m11 600v1m0 -36v2m0 -78v2m0 -27v2m0 -22v2m0 -37v2m0 -61v2m0 -55v2m0 -31v2m0 -74v2m0 -58v1m0 -45v2m0 -60v2m0 -54v2m0 -12v1m32 626v2m0 -25v2m0 -40v2m0 -11v1m0 -59v1m0 -32v2m0 -8v2m0 -47v2m0 -7v2m0 -24v2m0 -64v2m0 -25v2m0 -65v1m0 -21v1m0 -36v2m0 -47v2m0 -8v2m0 -40v2m0 -25v2m0 -15v2m0 -24v2m0 -12v1m11 661v2m0 -11v2m0 -76v4m0 -62v2m0 -20v2m0 -18v2m0 -66v2m0 -11v2m0 -121v2m0 -24v2m0 -7v1m0 -34v2m0 -11v2m0 -33v2m0 -58v2m0 -58v2m0 -29v2m0 -22v2m27 632v2m0 -53v2m0 -9v2m0 -11v2m0 -64v2m0 -34v1m0 -210v2m0 -18v2m0 -71v2m0 -27v2m0 -17v2m0 -14v1m0 -77v1m0 -25v2m0 -35v2m0 -7v2m0 -22v2m27 605v2m0 -42v2m0 -36v1m0 -25v2m0 -6v2m0 -11v2m0 -33v2m0 -38v2m0 -14v1m0 -12v2m0 -145v1m0 -141v2m0 -121v1m0 -10v1m0 -9v2m27 605v2m0 -7v1m0 -34v2m0 -13v2m0 -13v2m0 -11v2m0 -40v2m0 -33v2m0 -21v1m0 -23v2m0 -26v2m0 -11v4m0 -11v2m0 -113v2m0 -78v2m0 -12v1m0 -9v2m0 -9v2m0 -6v2m0 -31v2m0 -25v2m0 -109v2m27 652v2m0 -6v2m0 -42v2m0 -38v2m0 -105v2m0 -64v2m0 -18v2m0 -29v2m0 -248v1m0 -18v4m0 -49v2m0 -31v2m0 -49v2m27 639v2m0 -47v2m0 -13v2m0 -15v2m0 -60v2m0 -42v2m0 -16v2m0 -20v2m0 -47v1m0 -9v2m0 -94v2m0 -40v2m0 -47v1m0 -41v2m0 -165v2m27 588v2m0 -13v2m0 -34v2m0 -57v2m0 -49v2m0 -25v2m0 -102v2m0 -7v2m0 -19v2m0 -58v4m0 -16v1m0 -25v2m0 -20v2m0 -9v2m0 -116v1m0 -36v2m0 -20v2m0 -9v2m0 -13v4"/>
<path stroke="#481b6d" stroke-width="6" d="M130 710v1m0 -50v2m0 -33v2m0 -6v2m0 -22v2m0 -43v2m0 -89v2m0 -24v2m0 -24v2m0 -56v2m0 -27v1m0 -21v2m0 -35v2m0 -27v2m0 -33v2m0 -15v2m0 -25v2m11 492v2m0 -7v2m0 -29v1m0 -16v2m0 -29v2m0 -11v2m0 -24v2m0 -69v2m0 -15v2m0 -59v1m0 -12v1m0 -99v2m0 -6v2m0 -14v1m0 -9v2m0 -5v2m0 -15v2m0 -27v1m0 -21v2m0 -37v2m0 -14v1m0 -27v2m0 -47v2m0 -11v2m0 -9v2m0 -13v2m16 615v2m0 -7v2m0 -16v1m0 -49v2m0 -47v2m0 -13v2m0 -18v2m0 -33v2m0 -241v2m0 -40v2m0 -6v2m0 -25v2m0 -114v1m0 -19v1m0 -51v1m11 688v2m0 -31v2m0 -9v1m0 -43v2m0 -22v2m0 -24v2m0 -14v3m0 -14v2m0 -115v2m0 -90v2m0 -55v2m0 -25v1m0 -45v2m0 -5v1m0 -39v1m0 -85v2m0 -5v1m0 -21v2m16 592v2m0 -104v2m0 -16v2m0 -8v2m0 -83v2m0 -42v2m0 -42v2m0 -40v2m0 -16v2m0 -28v2m0 -152v2m11 503v4m0 -20v2m0 -161v1m0 -54v2m0 -109v2m0 -20v2m0 -76v2m0 -51v2m0 -31v2m0 -11v2m0 -82v2m0 -61v3m0 -13v2m16 687v1m0 -18v6m0 -36v1m0 -159v2m0 -16v1m0 -90v2m0 -149v2m0 -102v2m0 -29v2m0 -18v2m0 -91v2m11 614v2m0 -6v2m0 -25v2m0 -44v2m0 -190v2m0 -18v1m0 -7v2m0 -275v1m0 -29v2m16 578v2m0 -44v2m0 -87v2m0 -33v2m0 -69v2m0 -27v2m0 -112v1m0 -81v2m0 -24v4m0 -47v2m0 -22v2m0 -26v4m0 -22v2m0 -36v2m11 650v2m0 -116v1m0 -21v2m0 -39v2m0 -41v1m0 -9v2m0 -69v2m0 -12v1m0 -32v2m0 -44v2m0 -27v2m0 -57v2m0 -56v2m0 -13v2m0 -11v2m0 -24v2m0 -7v2m0 -6v2m0 -32v1m16 531v2m0 -24v2m0 -7v2m0 -47v1m0 -59v1m0 -68v1m0 -50v2m0 -230v1m0 -11v2m11 533v2m0 -20v1m0 -108v2m0 -28v2m0 -41v1m0 -36v2m0 -69v2m0 -156v2m0 -27v2m0 -60v2m16 471v1m0 -30v1m0 -58v2m0 -61v2m0 -55v2m0 -76v2m0 -35v2m0 -11v4m0 -33v2m0 -22v2m0 -58v2m0 -25v2m0 -26v2m0 -121v1m11 651v5m0 -20v2m0 -15v6m0 -31v2m0 -27v2m0 -57v2m0 -45v2m0 -42v2m0 -214v2m0 -53v2m0 -96v4m0 -40v2m0 -58v2m16 641v2m0 -96v2m0 -49v1m0 -105v2m0 -78v2m0 -71v2m0 -25v2m0 -20v2m0 -75v2m0 -27v2m0 -65v1m0 -36v2m11 634v2m0 -31v2m0 -40v2m0 -44v2m0 -31v2m0 -22v2m0 -41v1m0 -85v2m0 -76v2m0 -82v2m0 -18v2m0 -6v2m0 -54v2m0 -82v2m0 -20v2m0 -29v2m0 -39v1m16 653v2m0 -58v2m0 -54v2m0 -19v2m0 -16v2m0 -203v2m0 -100v2m0 -38v2m11 485v2m0 -51v2m0 -123v3m0 -9v2m0 -18v2m0 -94v3m0 -150v2m0 -29v2m0 -26v2m0 -54v2m0 -107v2m0 -24v2m0 -7v1m16 625v2m0 -23v1m0 -16v2m0 -7v1m0 -34v2m0 -22v2m0 -58v2m0 -6v2m0 -22v2m0 -5v2m0 -55v2m0 -33v2m0 -12v1m0 -12v2m0 -13v2m0 -17v2m0 -5v2m0 -19v2m0 -123v2m0 -15v2m0 -50v1m0 -76v2m11 618v1m0 -67v2m0 -7v2m0 -13v2m0 -5v1m0 -14v2m0 -18v1m0 -14v2m0 -94v1m0 -32v2m0 -80v2m0 -31v2m0 -65v1m0 -27v2m0 -54v1m0 -27v2m0 -5v1m0 -105v2m0 -31v2m16 669v1m0 -9v2m0 -83v3m0 -18v2m0 -38v2m0 -9v2m0 -85v1m0 -78v2m0 -21v1m0 -123v2m0 -40v2m0 -45v2m0 -20v1m0 -21v2m0 -60v2m0 -20v1m0 -5v2m11 641v2m0 -38v2m0 -73v2m0 -13v2m0 -25v1m0 -19v1m0 -5v2m0 -9v1m0 -47v2m0 -63v2m0 -13v2m0 -33v2m0 -7v2m0 -35v2m0 -82v2m0 -12v1m0 -59v1m0 -14v2m0 -15v2m0 -32v1m0 -7v2m0 -47v2m0 -20v1m0 -23v2m0 -19v1m16 634v1m0 -41v1m0 -30v3m0 -7v2m0 -51v2m0 -22v2m0 -71v2m0 -11v2m0 -45v2m0 -56v1m0 -21v1m0 -77v1m0 -20v2m0 -155v1m11 578v2m0 -31v2m0 -53v2m0 -179v2m0 -36v1m0 -101v2m0 -46v2m0 -38v4m16 460v2m0 -15v2m0 -27v2m0 -51v2m0 -73v2m0 -16v3m0 -27v2m0 -197v1m0 -12v2m0 -20v1m0 -86v1m0 -12v2m0 -29v1m0 -43v2m11 664v4m0 -25v1m0 -219v2m0 -7v2m0 -20v2m0 -48v2m0 -58v2m0 -148v1m0 -9v2m0 -20v2m0 -54v2m0 -66v2m16 596v2m0 -127v2m0 -38v2m0 -8v2m0 -9v2m0 -9v2m0 -127v2m0 -85v1m0 -38v2m0 -50v1m0 -23v2m0 -22v2m0 -17v2m0 -9v2m0 -100v2m16 648v2m0 -5v2m0 -125v2m0 -75v2m0 -67v2m0 -45v1m0 -65v2m0 -130v1m0 -85v2m0 -11v2m11 596v2m0 -42v2m0 -49v2m0 -60v2m0 -6v2m0 -9v2m0 -16v1m0 -85v2m0 -237v2m0 -100v4m0 -65v1m0 -12v2m16 659v2m0 -69v2m0 -22v2m0 -33v2m0 -33v2m0 -45v2m0 -19v2m0 -59v1m0 -52v2m0 -22v2m0 -18v1m0 -77v1m0 -38v2m0 -5v1m0 -36v2m11 455v1m0 -5v2m0 -123v1m0 -19v1m0 -27v2m0 -16v2m0 -125v1m0 -32v2m0 -64v2m0 -9v2m0 -64v2m0 -22v2m0 -65v2m0 -29v2m16 619v2m0 -91v2m0 -156v2m0 -98v2m0 -25v2m0 -80v2m0 -107v2m0 -91v2m11 630v2m0 -38v2m0 -82v2m0 -9v2m0 -112v1m0 -41v2m0 -20v2m0 -8v2m0 -9v2m0 -15v2m0 -22v2m0 -54v2m0 -40v2m0 -8v2m0 -41v1m0 -36v2m0 -76v2m0 -58v2m0 -20v2m16 641v1m0 -38v2m0 -154v2m0 -71v2m0 -9v2m0 -16v2m0 -49v1m0 -29v2m0 -9v2m0 -47v2m0 -29v2m0 -15v2m0 -27v2m0 -15v2m0 -53v2m0 -31v2m0 -20v2m0 -65v2m11 554v2m0 -123v1m0 -25v2m0 -73v2m0 -14v3m0 -25v2m0 -62v2m0 -42v2m0 -58v2m0 -78v2m0 -40v2m16 561v2m0 -47v2m0 -6v2m0 -101v2m0 -26v2m0 -47v2m0 -36v1m0 -70v2m0 -174v2m0 -42v2m11 590v2m0 -96v2m0 -40v2m0 -20v2m0 -15v2m0 -58v2m0 -6v2m0 -34v2m0 -95v2m0 -16v2m0 -8v2m0 -56v2m0 -40v2m0 -9v2m0 -9v1m0 -85v2m0 -51v2m0 -16v2m0 -11v2m0 -37v2m16 636v2m0 -55v2m0 -72v2m0 -11v2m0 -31v2m0 -17v2m0 -33v2m0 -21v1m0 -18v2m0 -27v2m0 -47v1m0 -18v4m0 -13v2m0 -11v2m0 -9v2m0 -18v1m0 -5v2m0 -80v4m0 -83v1m0 -7v2m0 -38v2m0 -9v1m11 462v2m0 -43v1m0 -21v3m0 -41v1m0 -9v2m0 -25v2m0 -87v2m0 -58v1m0 -47v2m0 -78v2m0 -34v1m0 -19v1m0 -79v1m16 667v2m0 -38v2m0 -20v1m0 -20v2m0 -27v2m0 -105v2m0 -8v4m0 -23v1m0 -12v1m0 -88v2m0 -29v1m0 -94v2m0 -14v1m0 -9v2m0 -67v2m0 -107v2m0 -6v2m11 630v2m0 -25v2m0 -73v2m0 -22v2m0 -87v2m0 -116v2m0 -9v2m0 -118v2m0 -73v4m0 -38v2m0 -85v1m16 633v1m0 -106v1m0 -12v1m0 -7v4m0 -116v2m0 -228v1m0 -39v1m0 -67v2m0 -31v2m0 -38v2m0 -6v2m11 627v2m0 -11v2m0 -20v2m0 -44v2m0 -33v2m0 -56v2m0 -62v2m0 -45v2m0 -124v2m0 -146v1m0 -9v2m0 -43v1m0 -38v2m0 -9v4m0 -53v2m43 674v5m0 -18v2m0 -11v2m0 -9v2m0 -24v2m0 -47v2m0 -28v2m0 -12v1m0 -119v2m0 -13v2m0 -87v2m0 -13v2m0 -7v1m0 -150v2m0 -53v2m0 -25v2m0 -31v2m0 -66v4m11 569v2m0 -69v2m0 -11v1m0 -30v2m0 -104v2m0 -42v2m0 -222v1m0 -25v2m0 -35v4m0 -15v2"/>
<path stroke="#482071" stroke-width="5" d="M124.5 748v1m0 -114v2m0 -152v2m0 -22v2m0 -16v1m0 -77v1m0 -83v2m0 -18v2m0 -9v1m0 -135v1m11 620v2m0 -20v1m0 -29v2m0 -32v1m0 -70v2m0 -140v2m0 -80v2m0 -89v2m0 -67v2m0 -22v2m0 -47v2m11 550v2m0 -22v2m0 -127v2m0 -21v1m0 -12v2m0 -11v1m0 -67v2m0 -18v2m0 -145v2m0 -9v2m0 -28v2m0 -83v2m0 -36v1m0 -58v2m5 636v2m0 -42v2m0 -27v2m0 -13v2m0 -252v2m0 -190v1m0 -20v2m0 -54v2m0 -82v2m11 654v2m0 -176v2m0 -259v2m0 -145v2m0 -53v2m0 -13v2m11 567v2m0 -174v2m0 -368v2m5 578v1m0 -36v2m0 -45v1m0 -56v2m0 -18v2m0 -38v2m0 -13v2m0 -8v2m0 -52v2m0 -22v2m0 -127v2m0 -114v1m0 -117v2m11 626v2m0 -65v2m0 -105v1m0 -36v2m0 -9v2m0 -167v2m0 -76v2m0 -24v2m0 -6v2m0 -101v2m0 -9v1m0 -16v2m0 -40v2m11 650v2m0 -53v2m0 -5v2m0 -84v2m0 -43v1m0 -9v2m0 -27v2m0 -33v2m0 -62v2m0 -21v1m0 -11v2m0 -14v2m0 -76v1m0 -20v2m0 -18v2m0 -22v2m0 -129v2m0 -56v2m5 657v2m0 -20v2m0 -5v1m0 -74v2m0 -9v2m0 -27v1m0 -172v2m0 -11v2m0 -83v2m0 -62v2m11 429v2m0 -47v2m0 -10v2m0 -58v2m0 -76v4m0 -31v2m0 -49v2m0 -35v2m0 -47v2m0 -82v2m0 -114v2m0 -27v1m0 -45v2m0 -16v1m0 -32v2m11 634v1m0 -7v2m0 -54v1m0 -117v2m0 -13v2m0 -20v2m0 -8v2m0 -43v1m0 -137v2m0 -89v4m0 -31v2m0 -109v2m0 -24v2m0 -7v2m5 557v2m0 -89v2m0 -5v2m0 -8v2m0 -31v2m0 -81v1m0 -132v2m0 -16v2m0 -76v1m0 -105v2m11 614v2m0 -6v2m0 -50v1m0 -30v3m0 -20v2m0 -34v1m0 -153v1m0 -170v2m0 -18v2m0 -17v2m0 -49v2m0 -129v2m11 661v2m0 -47v2m0 -9v2m0 -239v1m0 -11v2m0 -5v2m0 -13v2m0 -15v2m0 -159v2m0 -84v2m5 404v2m0 -58v2m0 -234v2m0 -36v1m0 -70v2m0 -78v1m0 -9v2m11 669v1m0 -11v2m0 -12v1m0 -32v2m0 -18v1m0 -54v2m0 -189v2m0 -20v2m0 -90v1m0 -7v2m0 -51v2m0 -18v2m0 -9v3m0 -43v2m0 -84v2m0 -11v2m11 585v2m0 -38v2m0 -53v2m0 -56v2m0 -67v1m0 -14v2m0 -100v2m0 -165v2m0 -16v2m0 -58v1m0 -54v2m0 -7v1m0 -12v2m0 -13v2m5 615v2m0 -36v2m0 -6v2m0 -54v2m0 -33v2m0 -9v2m0 -40v2m0 -125v1m0 -10v1m0 -16v2m0 -31v2m0 -58v2m0 -111v2m0 -58v2m0 -80v2m0 -13v2m11 636v2m0 -103v1m0 -70v2m0 -64v2m0 -87v2m0 -69v2m0 -112v1m0 -5v2m0 -107v2m11 619v2m0 -33v2m0 -85v2m0 -109v2m0 -141v1m0 -41v2m0 -73v2m0 -20v2m0 -13v2m0 -42v2m0 -96v2m5 623v2m0 -42v2m0 -45v2m0 -13v2m0 -44v2m0 -34v1m0 -21v1m0 -186v2m0 -65v1m0 -47v2m0 -60v2m0 -31v2m0 -45v2m11 619v2m0 -11v2m0 -15v2m0 -112v2m0 -87v2m0 -42v2m0 -47v1m0 -54v2m0 -11v2m0 -26v2m0 -9v2m0 -96v2m0 -71v2m0 -33v2m0 -12v1m0 -5v2m0 -7v1m0 -45v2m11 655v4m0 -16v2m0 -47v1m0 -39v1m0 -74v2m0 -71v2m0 -382v2m5 594v3m0 -39v1m0 -23v2m0 -154v1m0 -41v2m0 -6v2m0 -7v2m0 -178v2m0 -51v2m0 -85v2m11 565v2m0 -19v2m0 -192v2m0 -89v2m0 -67v2m0 -47v2m0 -44v2m0 -18v2m0 -73v2m0 -83v2m11 543v2m0 -18v1m0 -7v2m0 -110v1m0 -9v2m0 -5v1m0 -79v2m0 -18v1m0 -141v2m0 -7v3m0 -76v2m0 -38v2m0 -44v2m5 623v2m0 -100v2m0 -38v2m0 -15v2m0 -101v2m0 -42v2m0 -91v2m0 -22v2m0 -32v1m0 -45v2m0 -7v1m0 -65v2m0 -16v2m0 -96v1m0 -21v1m11 672v2m0 -5v2m0 -124v2m0 -47v2m0 -40v2m0 -96v2m0 -167v2m0 -42v2m0 -154v2m11 670v2m0 -9v2m0 -142v2m0 -29v2m0 -29v2m0 -42v2m0 -33v2m0 -11v2m0 -40v2m0 -58v2m0 -38v2m0 -42v2m0 -80v2m0 -67v2m0 -56v1m0 -18v2m5 641v2m0 -23v1m0 -5v2m0 -7v1m0 -29v2m0 -32v3m0 -31v2m0 -47v2m0 -80v2m0 -62v2m0 -34v2m0 -6v2m0 -47v2m0 -18v3m0 -27v2m0 -15v2m0 -41v1m0 -97v1m11 584v1m0 -103v2m0 -9v2m0 -6v2m0 -85v2m0 -123v1m0 -59v2m0 -35v2m0 -53v4m0 -11v2m0 -18v2m0 -18v1m0 -12v2m0 -24v2m0 -11v2m0 -36v1m0 -32v2m11 610v2m0 -29v1m0 -81v2m0 -40v2m0 -51v2m0 -40v2m0 -16v1m0 -175v1m0 -48v1m0 -159v2m0 -15v2m0 -31v2m0 -11v2m5 645v2m0 -18v1m0 -23v2m0 -134v1m0 -77v1m0 -157v2m0 -104v2m0 -9v2m0 -62v2m11 475v2m0 -42v2m0 -38v1m0 -23v2m0 -69v2m0 -89v2m0 -94v1m0 -32v2m0 -33v2m0 -22v2m0 -76v2m11 556v1m0 -83v2m0 -74v2m0 -33v2m0 -89v2m0 -18v2m0 -173v2m0 -105v2m0 -7v2m5 548v2m0 -80v2m0 -119v2m0 -136v2m0 -42v2m0 -62v2m0 -92v1m0 -41v2m11 548v4m0 -38v2m0 -17v2m0 -32v1m0 -14v2m0 -49v2m0 -46v2m0 -47v2m0 -92v1m0 -20v2m0 -27v2m0 -27v2m0 -51v2m0 -140v2m11 572v2m0 -105v2m0 -127v2m0 -98v2m0 -29v2m0 -114v1m0 -14v2m5 543v2m0 -60v2m0 -51v2m0 -18v2m0 -24v2m0 -14v1m0 -38v2m0 -125v2m0 -7v2m0 -6v2m0 -56v2m0 -22v2m0 -22v2m0 -24v2m0 -101v1m0 -7v2m0 -25v1m0 -21v2m0 -71v2m11 650v2m0 -38v1m0 -9v2m0 -27v2m0 -60v2m0 -45v1m0 -21v2m0 -33v2m0 -8v2m0 -9v2m0 -72v1m0 -5v2m0 -13v2m0 -22v2m0 -7v2m0 -13v2m0 -22v2m0 -36v1m0 -18v2m0 -54v2m0 -171v2m5 610v2m0 -38v4m0 -60v4m0 -13v2m0 -85v2m0 -38v3m0 -22v2m0 -69v4m0 -40v2m0 -11v2m0 -47v2m0 -67v1m0 -29v2m0 -14v2m0 -15v2m0 -73v2m0 -12v1m0 -10v1m11 640v1m0 -12v2m0 -69v2m0 -9v1m0 -50v1m0 -155v3m0 -45v2m0 -131v2m0 -114v2m0 -9v2m0 -29v2m0 -37v2m11 649v1m0 -9v2m0 -7v2m0 -18v1m0 -43v2m0 -53v2m0 -129v2m0 -47v2m0 -15v2m0 -83v2m0 -7v1m0 -32v2m0 -31v2m0 -37v2m0 -51v2m0 -72v2m5 605v1m0 -72v2m0 -58v2m0 -42v2m0 -26v2m0 -110v2m0 -60v2m0 -37v2m0 -45v2m0 -62v2m0 -36v2m0 -64v2m0 -51v2m11 625v2m0 -69v2m0 -131v2m0 -58v2m0 -25v1m0 -25v2m0 -53v2m0 -96v2m0 -53v2m0 -54v2m0 -6v2m11 413v2m0 -29v2m0 -66v2m0 -21v1m0 -12v2m0 -15v2m0 -38v2m0 -24v2m0 -53v2m0 -51v2m0 -16v2m0 -15v2m0 -13v2m0 -78v2m5 437v1m0 -105v2m0 -76v2m0 -31v2m0 -78v2m0 -27v2m0 -49v1m0 -25v2m0 -63v1m0 -7v2m0 -15v2m0 -85v2m11 648v2m0 -78v2m0 -56v2m0 -46v2m0 -9v2m0 -43v1m0 -36v2m0 -38v2m0 -6v2m0 -42v2m0 -7v2m0 -36v1m0 -21v1m0 -105v2m0 -110v2m0 -20v1m11 631v2m0 -174v1m0 -30v2m0 -40v1m0 -59v2m0 -140v2m0 -51v2m0 -183v2m5 598v1m0 -68v1m0 -41v1m0 -76v2m0 -20v2m0 -14v1m0 -57v1m0 -38v2m0 -38v2m0 -6v2m0 -9v2m0 -27v2m0 -102v2m0 -14v1m0 -67v2m0 -11v2m0 -23v1m11 631v1m0 -108v2m0 -84v2m0 -29v4m0 -89v2m0 -35v2m0 -70v1m0 -18v2m0 -11v2m0 -74v2m0 -35v2m11 549v2m0 -10v2m0 -14v2m0 -35v2m0 -47v2m0 -18v1m0 -18v2m0 -99v1m0 -32v2m0 -11v2m0 -24v2m0 -24v2m0 -9v2m0 -87v2m0 -18v1m0 -119v2m0 -17v2m0 -54v2m0 -18v1m5 623v2m0 -299v2m0 -145v2m0 -150v2m0 -28v2m0 -43v2m11 668v2m0 -187v2m0 -11v2m0 -100v2m0 -33v2m0 -52v2m0 -82v2m0 -11v2m0 -22v2m0 -7v1m0 -43v2m0 -24v2m0 -90v1m0 -25v2m0 -20v2m11 661v3m0 -20v2m0 -143v2m0 -42v2m0 -5v2m0 -11v1m0 -106v1m0 -14v2m0 -22v2m0 -18v2m0 -15v2m0 -49v2m0 -35v2m0 -7v2m0 -58v2m0 -87v5m0 -38v2m5 431v2m0 -9v1m0 -7v2m0 -5v1m0 -58v2m0 -9v2m0 -45v2m0 -104v2m0 -22v2m0 -89v2m0 -41v1m0 -39v1m0 -39v1m11 651v1m0 -155v1m0 -58v2m0 -121v2m0 -20v2m0 -33v2m0 -26v4m0 -99v1m0 -49v2m0 -11v2m0 -38v2m0 -80v2m11 667v1m0 -61v2m0 -116v1m0 -135v1m0 -108v2m0 -33v2m0 -26v2m0 -112v2m0 -40v2m0 -17v4m5 623v2m0 -6v2m0 -9v2m0 -7v2m0 -194v2m0 -6v2m0 -161v2m0 -44v2m0 -89v2m0 -13v2m0 -25v2m0 -8v2m0 -123v2m11 440v2m0 -20v2m0 -13v2m0 -26v2m0 -72v2m0 -111v2m0 -5v1m0 -52v2m0 -38v1m0 -47v2m0 -52v1m0 -12v2m11 579v2m0 -76v2m0 -42v2m0 -49v2m0 -53v2m0 -62v2m0 -18v2m0 -15v2m0 -7v2m0 -11v2m0 -125v2m0 -100v2m0 -11v2m5 568v2m0 -29v2m0 -20v2m0 -13v2m0 -5v2m0 -26v2m0 -20v2m0 -136v2m0 -56v2m0 -24v2m0 -44v2m0 -5v1m0 -34v2m0 -74v1m0 -45v2m0 -43v1m0 -30v1m0 -5v2m0 -33v2m0 -13v2m11 487v2m0 -18v2m0 -17v2m0 -69v2m0 -20v2m0 -7v2m0 -9v1m0 -36v2m0 -36v2m0 -29v3m0 -29v2m16 417v1m0 -43v2m0 -35v4m0 -7v2m0 -67v1m0 -30v1m0 -38v2m0 -41v1m0 -27v2m0 -20v2m0 -7v1m0 -110v2m0 -20v2m0 -187v2m11 628v2m0 -7v2m0 -22v4m0 -17v2m0 -9v2m0 -7v2m0 -26v2m0 -11v2m0 -15v2m0 -14v2m0 -37v2m0 -20v2m0 -18v2m0 -125v2m0 -13v2m0 -33v2m0 -7v2m0 -20v1m0 -12v2m0 -51v2m0 -80v2m0 -9v2m0 -8v2m0 -18v2m0 -38v2m0 -11v2m0 -8v2m0 -23v1m0 -21v1m0 -18v2m0 -14v1m0 -10v1m0 -12v2m11 653v2m0 -7v2m0 -55v2m0 -32v1m0 -58v2m0 -12v1m0 -172v2m0 -7v2m0 -13v2m0 -15v2m0 -273v1m32 508v1m0 -43v2m0 -44v2m0 -51v2m0 -22v2m0 -165v2m0 -49v2m0 -130v2m0 -26v2m11 650v2m0 -20v2m0 -76v2m0 -129v2m0 -105v2m0 -29v2m0 -17v2m0 -100v2m0 -70v1m0 -67v2m0 -20v2m27 619v2m0 -7v2m0 -18v2m0 -15v2m0 -25v1m0 -107v2m0 -20v2m0 -13v2m0 -9v2m0 -54v2m0 -11v1m0 -90v2m0 -27v1m0 -81v2m0 -69v2m0 -33v2m0 -56v2m0 -26v2m0 -11v2m27 619v2m0 -18v2m0 -76v2m0 -9v1m0 -41v2m0 -73v4m0 -22v2m0 -74v1m0 -25v2m0 -94v1m0 -16v2m0 -18v2m0 -29v1m0 -70v2m0 -98v2m0 -8v2m0 -20v2m27 591v1m0 -94v2m0 -63v1m0 -74v2m0 -16v1m0 -65v2m0 -58v2m0 -38v2m27 481v2m0 -32v1m0 -70v2m0 -26v2m0 -85v2m0 -35v2m0 -34v2m0 -11v2m0 -24v2m0 -201v2m0 -28v2m0 -32v3m0 -49v2m0 -76v2m27 628v2m0 -20v2m0 -7v2m0 -18v1m0 -32v2m0 -11v2m0 -49v1m0 -5v2m0 -18v1m0 -7v4m0 -15v2m0 -51v2m0 -30v1m0 -76v2m0 -14v1m0 -12v2m0 -11v1m0 -117v2m0 -19v2m0 -56v2m0 -54v1m0 -16v2m0 -42v2m27 656v1m0 -86v1m0 -18v2m0 -11v2m0 -60v2m0 -121v2m0 -91v2m0 -29v2m0 -31v2m0 -22v2m0 -8v2m0 -12v1m0 -184v2"/>
<path stroke="#482071" stroke-width="6" d="M130 730v1m0 -9v2m0 -61v1m0 -18v2m0 -5v1m0 -25v2m0 -7v1m0 -83v2m0 -20v2m0 -24v2m0 -42v2m0 -59v1m0 -130v2m0 -13v2m0 -73v2m0 -76v4m11 630v2m0 -40v4m0 -118v2m0 -18v1m0 -14v2m0 -64v2m0 -20v2m0 -29v2m0 -15v2m0 -63v2m0 -28v2m0 -34v2m0 -42v2m0 -60v2m16 550v2m0 -5v2m0 -76v1m0 -32v2m0 -6v2m0 -72v1m0 -5v2m0 -44v2m0 -11v2m0 -14v1m0 -78v2m0 -30v1m0 -49v2m0 -27v2m0 -24v2m0 -96v2m0 -85v2m0 -35v2m0 -29v2m11 601v2m0 -33v2m0 -67v2m0 -33v2m0 -56v2m0 -13v2m0 -24v2m0 -25v2m0 -35v2m0 -107v4m0 -33v2m0 -9v2m0 -25v1m0 -30v1m0 -54v2m0 -15v4m0 -34v1m0 -7v2m16 619v2m0 -27v2m0 -132v1m0 -45v2m0 -20v2m0 -35v2m0 -94v2m0 -7v1m0 -45v2m0 -7v1m0 -47v2m0 -74v2m0 -44v2m0 -23v1m0 -63v2m11 616v1m0 -43v2m0 -85v1m0 -23v2m0 -22v2m0 -143v2m0 -69v1m0 -43v2m0 -9v3m0 -47v2m0 -16v2m0 -69v2m0 -51v2m0 -13v2m16 598v1m0 -163v2m0 -42v2m0 -90v2m0 -9v1m0 -50v1m0 -90v2m0 -75v2m11 518v2m0 -24v2m0 -20v2m0 -47v2m0 -83v1m0 -9v2m0 -7v2m0 -67v2m0 -15v2m0 -33v2m0 -9v2m0 -11v2m0 -35v2m0 -127v2m0 -22v2m0 -36v2m0 -29v2m0 -69v2m0 -8v2m16 652v2m0 -65v2m0 -6v2m0 -101v1m0 -63v2m0 -74v1m0 -25v2m0 -118v2m0 -25v1m0 -74v2m0 -11v4m0 -8v2m0 -21v1m0 -61v2m0 -9v1m0 -11v2m0 -14v2m11 568v2m0 -5v1m0 -23v2m0 -93v2m0 -11v2m0 -230v2m0 -49v2m0 -9v2m0 -13v2m0 -51v2m16 538v2m0 -419v2m0 -20v2m0 -22v2m0 -16v1m0 -12v2m0 -22v2m0 -169v2m11 661v2m0 -22v2m0 -22v2m0 -16v2m0 -26v2m0 -129v2m0 -59v1m0 -78v2m0 -49v2m0 -90v1m0 -41v2m0 -35v2m0 -13v2m0 -23v1m16 522v2m0 -89v4m0 -47v1m0 -29v2m0 -98v2m0 -47v2m0 -53v2m0 -14v2m0 -69v2m0 -48v2m0 -79v1m11 546v1m0 -21v1m0 -101v2m0 -6v2m0 -41v1m0 -43v2m0 -102v2m0 -56v2m0 -11v2m0 -15v2m0 -123v2m0 -29v2m0 -40v1m0 -32v2m16 594v2m0 -11v3m0 -295v2m0 -102v2m0 -130v2m11 567v1m0 -18v2m0 -71v2m0 -47v2m0 -45v2m0 -20v1m0 -130v2m0 -15v2m0 -9v2m0 -208v1m0 -74v2m0 -13v2m0 -14v1m16 663v2m0 -14v1m0 -38v2m0 -14v2m0 -13v2m0 -58v2m0 -19v2m0 -127v2m0 -163v2m0 -18v2m0 -84v2m0 -61v2m0 -6v2m0 -44v2m11 630v2m0 -101v2m0 -44v2m0 -143v2m0 -129v2m0 -9v2m0 -36v1m0 -25v2m0 -26v4m0 -20v2m0 -7v3m0 -34v2m0 -11v2m0 -27v1m0 -58v2m16 621v2m0 -98v2m0 -43v2m0 -86v2m0 -90v2m0 -31v2m0 -48v2m0 -52v2m0 -40v2m0 -39v2m0 -38v2m0 -11v2m0 -14v1m0 -54v2m11 590v2m0 -54v2m0 -31v2m0 -11v1m0 -18v2m0 -41v1m0 -239v2m0 -71v2m0 -14v3m0 -61v2m0 -6v2m0 -7v2m0 -33v2m0 -13v2m0 -24v4m16 627v1m0 -10v1m0 -16v2m0 -145v2m0 -89v2m0 -131v2m0 -7v2m0 -143v2m0 -31v2m0 -11v2m0 -76v1m11 667v2m0 -20v1m0 -57v1m0 -81v2m0 -31v2m0 -20v2m0 -26v2m0 -87v2m0 -20v2m0 -11v2m0 -6v2m0 -185v2m0 -114v4m0 -26v2m16 639v2m0 -54v2m0 -62v2m0 -22v2m0 -9v2m0 -15v2m0 -54v2m0 -11v2m0 -31v2m0 -9v1m0 -135v1m0 -92v2m0 -132v1m0 -36v2m0 -11v2m11 634v2m0 -11v2m0 -105v1m0 -123v2m0 -13v2m0 -45v2m0 -55v2m0 -98v2m0 -78v2m0 -121v2m16 628v2m0 -20v2m0 -22v2m0 -18v1m0 -161v2m11 210v2m0 -76v2m0 -105v2m0 -39v2m0 -11v2m0 -43v2m0 -8v2m0 -9v2m0 -31v2m0 -54v1m0 -83v2m0 -44v2m0 -112v2m0 -42v2m16 654v2m0 -91v2m0 -27v1m0 -135v3m0 -25v2m0 -6v2m0 -69v2m0 -11v2m0 -13v2m0 -127v2m0 -94v2m0 -73v2m16 643v2m0 -13v2m0 -47v2m0 -71v2m0 -221v2m0 -7v1m0 -99v2m0 -29v1m0 -52v2m11 527v2m0 -58v1m0 -5v2m0 -53v2m0 -40v2m0 -51v2m0 -32v1m0 -43v2m0 -78v2m0 -58v1m0 -27v2m0 -11v2m0 -16v2m0 -19v2m0 -36v2m0 -29v4m0 -109v2m0 -11v2m16 590v2m0 -36v1m0 -224v2m0 -51v2m0 -87v2m0 -89v2m0 -78v2m0 -9v1m0 -5v2m0 -27v1m0 -5v2m11 616v1m0 -7v2m0 -176v2m0 -47v2m0 -55v2m0 -52v2m0 -40v2m0 -15v2m0 -141v1m0 -19v1m0 -27v2m0 -15v2m16 585v4m0 -27v2m0 -8v2m0 -7v2m0 -6v2m0 -47v2m0 -118v2m0 -82v2m0 -47v2m0 -45v1m0 -10v1m0 -112v4m0 -69v2m0 -31v2m0 -9v1m11 491v2m0 -14v1m0 -96v2m0 -99v1m0 -27v2m0 -29v2m0 -145v2m0 -45v1m0 -18v2m0 -45v2m0 -47v1m16 614v2m0 -5v1m0 -115v1m0 -14v2m0 -17v2m0 -7v2m0 -26v2m0 -114v2m0 -56v2m0 -47v3m0 -101v2m0 -104v6m11 559v2m0 -43v2m0 -37v2m0 -34v1m0 -9v2m0 -16v2m0 -129v2m0 -22v2m0 -69v2m0 -56v2m0 -8v2m0 -16v2m0 -69v2m0 -29v2m16 576v1m0 -11v2m0 -117v1m0 -47v2m0 -47v2m0 -6v2m0 -49v2m0 -16v2m0 -31v2m0 -42v4m0 -95v2m0 -52v2m0 -53v2m0 -65v1m0 -36v2m0 -29v2m0 -8v1m11 668v2m0 -87v2m0 -86v2m0 -18v2m0 -87v2m0 -76v2m0 -44v2m0 -136v2m0 -5v1m0 -141v2m16 654v1m0 -30v2m0 -120v2m0 -6v2m0 -27v2m0 -15v2m0 -7v2m0 -13v2m0 -332v2m0 -81v2m0 -6v2m0 -22v2m0 -9v2m0 -13v2m11 665v1m0 -154v2m0 -34v2m0 -40v2m0 -42v2m0 -123v1m0 -79v2m0 -165v2m16 626v2m0 -51v2m0 -5v1m0 -56v2m0 -29v2m0 -248v2m0 -147v2m0 -6v2m0 -41v1m0 -23v2m0 -24v2m0 -27v1m0 -7v2m0 -13v2m11 654v2m0 -87v2m0 -42v2m0 -189v2m0 -11v2m0 -125v2m0 -23v1m0 -68v1m0 -92v2m0 -47v2m16 650v1m0 -34v2m0 -33v2m0 -116v2m0 -72v1m0 -9v2m0 -47v2m0 -15v2m0 -23v1m0 -14v2m0 -11v2m0 -71v2m0 -18v2m0 -75v2m0 -90v1m0 -5v2m0 -40v2m0 -13v2m11 650v2m0 -16v1m0 -39v1m0 -30v1m0 -70v2m0 -19v2m0 -40v2m0 -36v2m0 -20v2m0 -38v1m0 -36v2m0 -214v2m0 -80v2m43 629v2m0 -55v2m0 -27v2m0 -58v2m0 -20v1m0 -68v3m0 -22v2m0 -87v2m0 -128v1m0 -154v2m0 -14v2m11 606v2m0 -9v2m0 -92v1m0 -7v2m0 -129v2m0 -7v2m0 -230v1m0 -27v2m0 -36v2m0 -6v2"/>
<path stroke="#482576" stroke-width="5" d="M124.5 710v1m0 -88v2m0 -58v1m0 -132v2m0 -56v2m0 -169v2m0 -47v2m0 -49v2m11 610v2m0 -185v2m0 -165v2m0 -9v2m0 -171v2m0 -43v2m0 -60v2m11 633v2m0 -65v2m0 -31v2m0 -63v1m0 -141v2m0 -24v2m0 -45v2m0 -44v2m0 -94v2m0 -53v2m0 -7v2m0 -98v3m5 652v2m0 -18v2m0 -65v1m0 -88v2m0 -33v2m0 -71v2m0 -118v2m0 -11v2m0 -83v1m0 -152v2m0 -32v3m11 681v2m0 -34v1m0 -11v2m0 -170v2m0 -15v2m0 -69v2m0 -67v2m0 -7v2m0 -35v2m0 -154v2m0 -27v1m0 -39v1m0 -38v2m0 -34v2m11 644v2m0 -80v2m0 -110v2m0 -29v1m0 -5v2m0 -60v2m0 -188v1m0 -157v2m0 -20v1m5 526v2m0 -96v1m0 -72v2m0 -37v2m0 -63v2m0 -127v2m0 -152v1m0 -14v2m11 650v2m0 -26v2m0 -5v2m0 -55v2m0 -22v2m0 -60v2m0 -7v2m0 -67v2m0 -171v2m0 -90v1m0 -85v2m0 -14v1m0 -77v1m11 661v2m0 -13v2m0 -20v2m0 -32v1m0 -74v2m0 -7v2m0 -20v1m0 -30v3m0 -27v2m0 -216v2m0 -25v2m0 -6v2m0 -74v2m0 -51v2m0 -58v2m0 -46v2m5 663v2m0 -125v2m0 -49v1m0 -38v2m0 -21v3m0 -52v1m0 -16v2m0 -25v1m0 -32v2m0 -85v1m0 -47v2m0 -71v2m0 -11v2m0 -25v2m0 -93v2m11 665v3m0 -79v1m0 -30v2m0 -225v2m0 -47v1m0 -32v2m0 -44v2m0 -54v2m0 -35v2m0 -16v1m0 -105v2m0 -24v1m11 641v2m0 -11v2m0 -15v2m0 -16v1m0 -103v2m0 -18v2m0 -8v2m0 -89v2m0 -23v2m0 -53v2m0 -13v2m0 -36v2m0 -71v2m0 -49v2m0 -9v1m0 -30v3m0 -83v2m5 585v2m0 -17v2m0 -7v3m0 -30v1m0 -21v2m0 -68v2m0 -61v2m0 -46v2m0 -13v2m0 -89v2m0 -20v2m0 -41v3m0 -74v2m0 -62v2m0 -27v2m0 -48v2m0 -7v2m11 547v2m0 -207v2m0 -7v2m0 -151v2m0 -147v2m0 -78v2m11 630v2m0 -45v2m0 -51v2m0 -40v2m0 -185v2m0 -42v2m0 -91v2m0 -20v2m0 -76v2m0 -33v2m0 -72v1m5 346v2m0 -5v2m0 -78v1m0 -36v2m0 -96v2m0 -16v1m0 -45v2m11 570v2m0 -14v2m0 -19v2m0 -16v2m0 -29v2m0 -55v2m0 -78v2m0 -78v2m0 -29v4m0 -118v2m0 -13v2m0 -183v2m0 -31v2m11 637v2m0 -25v2m0 -29v1m0 -20v2m0 -32v1m0 -59v1m0 -5v2m0 -24v2m0 -40v2m0 -110v1m0 -38v2m0 -29v2m0 -132v2m0 -42v2m5 552v2m0 -199v2m0 -162v2m0 -179v2m0 -27v1m0 -54v2m0 -31v2m11 670v2m0 -56v1m0 -70v2m0 -82v2m0 -62v2m0 -20v2m0 -56v2m11 304v2m0 -7v1m0 -43v2m0 -69v2m0 -64v2m0 -36v2m0 -35v2m0 -22v2m0 -108v1m0 -12v1m0 -34v2m0 -185v2m0 -29v2m5 645v1m0 -116v2m0 -9v2m0 -33v2m0 -7v2m0 -143v2m0 -73v2m0 -45v1m0 -21v2m0 -33v2m0 -46v2m0 -70v1m0 -67v2m0 -25v2m11 663v1m0 -61v2m0 -104v2m0 -29v2m0 -54v1m0 -36v2m0 -58v2m0 -5v1m0 -5v2m0 -85v1m0 -23v2m0 -78v2m11 481v2m0 -38v2m0 -24v2m0 -51v2m0 -74v2m0 -123v2m0 -33v2m0 -37v2m0 -146v1m5 486v2m0 -13v2m0 -9v1m0 -126v2m0 -44v2m0 -170v1m0 -39v1m0 -54v2m0 -33v2m0 -31v2m0 -23v1m0 -43v2m11 617v2m0 -7v2m0 -38v1m0 -43v2m0 -6v2m0 -20v2m0 -94v2m0 -40v2m0 -47v1m0 -12v2m0 -169v2m0 -6v2m0 -49v2m0 -27v2m0 -102v2m0 -7v2m11 643v2m0 -11v1m0 -39v1m0 -30v1m0 -79v2m0 -86v2m0 -61v2m0 -19v2m0 -47v2m0 -27v2m0 -33v2m0 -221v2m0 -24v2m5 643v2m0 -55v2m0 -152v2m0 -132v1m0 -41v2m0 -80v2m11 241v1m0 -39v1m0 -54v2m0 -15v2m0 -20v2m0 -29v2m0 -83v1m11 167v2m0 -20v2m0 -64v2m0 -42v2m0 -78v2m0 -72v2m5 536v1m0 -7v2m0 -105v2m0 -64v2m0 -21v1m0 -58v2m0 -31v2m0 -20v2m0 -61v1m11 364v2m0 -166v1m0 -112v2m0 -38v2m0 -13v2m0 -26v2m0 -94v2m0 -6v2m0 -38v2m0 -22v4m0 -67v2m11 474v2m0 -5v1m0 -30v1m0 -219v2m0 -31v2m0 -58v2m0 -51v2m5 464v2m0 -339v2m0 -6v2m0 -7v2m0 -149v2m0 -56v2m0 -78v2m0 -8v2m0 -29v2m0 -15v2m11 623v2m0 -29v2m0 -7v1m0 -50v2m0 -48v4m0 -32v1m0 -83v2m0 -56v2m0 -64v2m0 -9v2m0 -11v2m0 -31v2m0 -29v1m0 -34v2m0 -27v2m0 -35v2m0 -20v4m0 -26v2m0 -13v2m0 -25v2m11 630v2m0 -147v2m0 -74v1m0 -32v2m0 -96v1m0 -105v2m0 -32v1m0 -36v2m0 -13v2m0 -137v1m5 593v1m0 -145v2m0 -99v1m0 -181v2m0 -7v2m0 -160v2m11 534v2m0 -25v2m0 -27v1m0 -58v2m0 -52v2m0 -64v2m0 -161v2m0 -8v2m0 -38v2m0 -56v2m0 -24v2m11 547v2m0 -82v4m0 -35v2m0 -18v2m0 -74v1m0 -61v2m0 -9v1m0 -25v2m0 -16v1m0 -11v2m0 -47v2m0 -54v1m0 -14v2m0 -42v2m0 -80v2m5 600v1m0 -90v2m0 -13v2m0 -35v2m0 -27v4m0 -116v2m0 -8v2m0 -121v2m0 -89v2m0 -18v1m0 -97v1m0 -27v2m0 -22v2m0 -14v1m11 607v2m0 -35v2m0 -27v2m0 -201v2m0 -78v2m0 -6v2m0 -27v2m0 -31v2m0 -9v1m0 -155v2m5 597v2m0 -107v2m0 -71v2m0 -27v2m0 -20v2m0 -49v2m0 -26v2m0 -72v1m0 -23v2m0 -60v2m0 -163v3m0 -20v2m11 629v1m0 -5v2m0 -13v2m0 -20v2m0 -54v1m0 -117v3m0 -79v1m0 -87v2m0 -21v1m0 -21v1m0 -12v2m0 -37v2m0 -29v2m0 -71v2m0 -9v2m0 -73v2m0 -5v2m11 601v2m0 -38v2m0 -75v2m0 -284v2m0 -11v3m0 -11v2m5 406v2m0 -8v2m0 -50v1m0 -20v2m0 -54v2m0 -111v2m0 -31v2m0 -99v1m11 317v2m0 -100v2m0 -11v2m0 -31v4m0 -60v2m0 -47v2m0 -122v2m0 -40v2m0 -9v2m0 -9v2m0 -49v2m0 -6v2m0 -33v2m0 -85v2m11 619v2m0 -11v2m0 -54v2m0 -29v1m0 -83v2m0 -11v2m0 -13v2m0 -7v2m0 -131v2m0 -47v2m0 -18v1m0 -7v2m0 -114v2m0 -11v2m0 -24v2m0 -42v2m0 -13v2m0 -91v1m5 621v2m0 -122v2m0 -205v2m0 -125v2m0 -42v2m0 -23v2m0 -15v2m0 -11v2m0 -24v2m11 572v2m0 -56v2m0 -100v4m0 -31v2m0 -22v2m0 -15v2m0 -12v1m0 -14v2m0 -51v2m0 -36v1m0 -10v1m0 -7v2m0 -16v1m0 -5v2m0 -136v4m0 -29v3m0 -114v2m11 572v2m0 -5v1m0 -177v2m0 -93v2m0 -31v2m0 -161v2m0 -20v2m0 -20v2m0 -84v2m5 623v2m0 -31v2m0 -24v2m0 -38v2m0 -167v2m0 -16v2m0 -60v2m0 -47v2m0 -28v2m0 -51v2m0 -25v2m0 -13v2m0 -31v2m0 -18v2m0 -80v2m0 -18v1m11 542v2m0 -38v2m0 -35v2m0 -140v2m0 -85v2m0 -163v2m0 -109v2m11 632v2m0 -62v2m0 -83v2m0 -22v2m0 -85v1m0 -30v1m0 -56v2m0 -150v5m0 -103v2m0 -35v2m5 623v2m0 -27v2m0 -6v2m0 -33v2m0 -54v2m0 -18v1m0 -5v2m0 -212v2m0 -76v1m0 -14v2m0 -40v2m0 -31v2m11 474v2m0 -24v2m0 -54v2m0 -6v2m0 -83v2m0 -24v4m0 -230v2m0 -17v2m0 -5v1m0 -83v2m0 -36v2m0 -80v2m11 630v2m0 -24v2m0 -112v1m0 -36v2m0 -226v1m0 -38v2m0 -21v1m0 -154v2m0 -38v2m5 610v2m0 -127v2m0 -11v2m0 -20v2m0 -29v2m0 -93v2m0 -38v2m0 -40v2m0 -42v2m0 -143v2m0 -15v2m0 -81v2m11 518v1m0 -18v2m0 -72v1m0 -309v2m0 -10v2m0 -88v1m11 560v2m0 -266v1m0 -110v2m0 -172v1m0 -36v2m5 359v3m0 -150v2m0 -13v2m0 -62v2m0 -67v2m11 525v2m0 -51v2m0 -98v2m0 -11v2m0 -58v2m0 -25v3m0 -134v2m0 -33v2m0 -199v2m11 543v2m0 -100v2m0 -83v2m0 -95v2m0 -99v1m0 -7v2m0 -197v1m5 611v2m0 -292v2m0 -65v1m0 -92v4m0 -53v2m0 -25v1m0 -34v2m0 -38v2m11 492v2m0 -100v2m0 -7v2m0 -84v2m0 -194v2m0 -18v2m0 -143v2m16 670v2m0 -29v1m0 -21v2m0 -19v2m0 -61v1m0 -29v2m0 -103v2m0 -105v2m0 -11v2m0 -22v2m0 -104v2m0 -110v2m0 -71v2m11 657v2m0 -15v2m0 -85v2m0 -9v2m0 -20v2m0 -47v1m0 -36v2m0 -24v2m0 -16v2m0 -67v2m0 -116v1m0 -32v2m0 -6v2m0 -24v2m0 -18v2m0 -14v1m0 -5v2m0 -40v2m0 -31v2m0 -9v1m0 -7v2m0 -18v2m0 -13v2m0 -18v2m0 -10v2m0 -16v2m0 -27v1m11 651v1m0 -96v2m0 -45v2m0 -62v2m0 -11v2m0 -132v2m0 -71v2m0 -13v2m0 -71v2m0 -13v4m0 -20v2m0 -7v1m0 -19v1m0 -49v2m0 -40v2m0 -14v2m0 -9v1m32 670v2m0 -20v4m0 -105v2m0 -17v2m0 -54v2m0 -6v2m0 -134v2m0 -13v2m0 -83v1m0 -94v2m0 -18v2m0 -80v2m0 -53v2m11 616v2m0 -13v2m0 -27v2m0 -66v2m0 -61v1m0 -9v2m0 -5v2m0 -53v4m0 -73v2m0 -47v2m0 -85v1m0 -39v1m0 -56v2m0 -43v1m0 -88v2m27 552v2m0 -51v2m0 -65v5m0 -33v2m0 -43v2m0 -17v2m0 -54v2m0 -8v2m0 -27v2m0 -13v2m0 -24v2m0 -25v2m0 -18v1m0 -79v1m0 -114v2m0 -20v2m27 683v2m0 -274v2m0 -18v2m0 -46v4m0 -11v2m0 -34v1m0 -137v2m0 -37v2m0 -32v1m27 459v3m0 -80v2m0 -32v2m0 -67v1m0 -5v2m0 -140v2m0 -62v2m0 -101v2m0 -35v2m0 -63v2m27 666v2m0 -85v1m0 -30v2m0 -80v2m0 -53v2m0 -33v2m0 -51v2m0 -128v1m0 -29v2m0 -146v1m0 -5v2m27 630v2m0 -13v2m0 -168v1m0 -61v2m0 -185v2m0 -47v1m0 -27v2m0 -27v2m0 -15v2m0 -24v2m0 -16v2m0 -44v2m0 -20v2m27 610v2m0 -107v2m0 -89v2m0 -20v2m0 -34v1m0 -67v2m0 -74v4m0 -91v2m0 -25v1m0 -7v2m0 -20v2m0 -114v2"/>
<path stroke="#482576" stroke-width="6" d="M130 751v2m0 -34v2m0 -64v2m0 -71v2m0 -61v1m0 -72v2m0 -47v1m0 -5v2m0 -44v2m0 -224v1m0 -27v2m11 636v2m0 -57v2m0 -18v2m0 -54v1m0 -7v2m0 -118v2m0 -36v2m0 -75v2m0 -38v2m0 -27v2m0 -35v2m0 -11v2m0 -150v1m16 593v1m0 -27v2m0 -232v2m0 -27v2m0 -71v2m0 -34v1m0 -14v2m0 -37v2m0 -14v2m0 -17v2m0 -61v1m0 -34v2m0 -78v2m11 617v2m0 -11v2m0 -18v2m0 -9v1m0 -81v2m0 -24v2m0 -56v2m0 -44v2m0 -5v1m0 -21v2m0 -64v2m0 -13v2m0 -85v2m0 -78v2m0 -33v2m0 -16v1m0 -25v2m0 -13v2m16 554v2m0 -18v2m0 -292v2m0 -34v1m0 -54v2m0 -53v2m0 -156v2m0 -20v2m11 636v2m0 -42v2m0 -171v2m0 -92v2m0 -56v1m0 -9v2m0 -99v1m0 -65v2m0 -42v2m0 -87v2m16 654v2m0 -66v2m0 -89v2m0 -27v2m0 -83v3m0 -112v2m0 -93v2m0 -203v2m0 -12v1m11 598v2m0 -24v2m0 -72v1m0 -16v2m0 -190v2m0 -109v2m0 -51v2m0 -71v2m0 -9v2m0 -60v2m16 608v2m0 -32v1m0 -87v2m0 -69v2m0 -34v2m0 -17v2m0 -132v2m0 -6v2m0 -16v2m0 -31v2m0 -29v1m0 -68v1m11 533v2m0 -9v1m0 -108v2m0 -60v2m0 -13v2m0 -31v2m0 -7v1m0 -47v2m0 -212v2m0 -38v2m0 -7v1m0 -16v2m0 -25v1m0 -9v2m0 -14v1m16 383v1m0 -148v2m0 -105v1m0 -23v2m0 -100v2m0 -63v1m0 -25v2m0 -16v1m0 -7v2m11 610v2m0 -317v2m0 -98v2m0 -101v1m16 562v2m0 -84v2m0 -29v2m0 -58v2m0 -8v2m0 -78v2m0 -34v2m0 -116v2m0 -10v2m0 -18v2m0 -40v2m0 -38v2m0 -35v2m0 -83v2m0 -6v2m0 -42v6m11 661v2m0 -107v2m0 -86v2m0 -94v2m0 -72v1m0 -18v2m0 -9v2m0 -17v2m0 -18v2m0 -245v2m0 -30v1m16 674v2m0 -60v2m0 -9v2m0 -26v2m0 -13v2m0 -38v2m0 -85v2m0 -17v2m0 -38v2m0 -42v2m0 -18v2m11 297v2m0 -6v2m0 -54v2m0 -24v2m0 -141v1m0 -70v2m0 -26v2m0 -43v1m0 -85v2m0 -62v2m0 -31v2m0 -70v1m16 600v2m0 -49v2m0 -47v1m0 -135v1m0 -20v2m0 -101v2m0 -17v2m0 -16v2m0 -38v1m0 -68v1m0 -154v2m11 593v1m0 -65v4m0 -71v2m0 -83v1m0 -16v2m0 -31v2m0 -9v2m0 -26v2m0 -128v1m0 -21v1m0 -7v2m0 -43v1m0 -96v2m0 -9v2m0 -9v2m16 610v2m0 -91v2m0 -119v1m0 -58v2m0 -21v1m0 -231v1m0 -27v2m0 -78v2m0 -25v1m11 600v2m0 -109v2m0 -98v2m0 -31v2m0 -109v2m0 -24v2m0 -54v2m0 -65v1m0 -94v2m0 -22v2m16 616v2m0 -42v2m0 -9v2m0 -71v2m0 -91v2m0 -210v2m0 -143v3m11 542v2m0 -15v2m0 -24v2m0 -109v2m0 -78v2m0 -36v2m0 -161v1m0 -5v2m0 -64v2m0 -27v2m0 -29v2m0 -15v2m0 -7v2m0 -35v2m0 -49v2m16 645v1m0 -57v1m0 -25v2m0 -20v2m0 -84v2m0 -132v2m0 -47v2m0 -6v2m0 -138v2m0 -134v2m11 637v2m0 -228v2m0 -219v1m0 -79v2m0 -69v2m16 547v1m0 -174v2m0 -11v2m0 -45v2m0 -64v2m0 -23v1m0 -56v2m0 -71v2m0 -34v2m0 -107v2m11 634v1m0 -16v2m0 -11v2m0 -96v2m0 -31v2m0 -26v2m0 -11v2m0 -63v1m0 -47v2m0 -98v2m0 -18v2m0 -7v1m0 -59v2m0 -20v1m0 -23v2m0 -18v1m0 -92v2m0 -16v1m0 -40v2m16 535v1m0 -150v2m0 -112v1m0 -16v2m0 -92v1m0 -92v2m0 -96v2m16 586v2m0 -123v2m0 -36v1m0 -94v2m0 -49v2m0 -22v2m0 -241v2m11 599v2m0 -7v2m0 -16v1m0 -344v2m0 -13v2m0 -27v2m0 -29v2m0 -22v2m0 -94v1m0 -27v2m0 -94v2m16 606v2m0 -61v1m0 -14v2m0 -82v2m0 -90v1m0 -54v2m0 -80v2m0 -24v2m0 -22v2m0 -9v2m0 -105v2m0 -38v2m11 608v2m0 -33v2m0 -27v2m0 -85v1m0 -117v2m0 -11v2m0 -49v1m0 -9v2m0 -22v2m0 -47v2m0 -15v2m0 -9v2m0 -54v2m0 -158v2m16 605v1m0 -61v2m0 -171v2m0 -16v2m0 -31v2m0 -83v1m0 -126v1m0 -175v2m11 659v2m0 -24v2m0 -26v2m0 -23v2m0 -33v2m0 -18v1m0 -54v2m0 -9v2m0 -53v2m0 -22v2m0 -42v2m0 -145v2m0 -23v1m0 -29v2m0 -65v2m0 -38v2m0 -71v2m0 -24v2m16 529v2m0 -127v2m0 -62v2m0 -29v2m0 -96v2m0 -47v1m11 486v2m0 -49v1m0 -76v2m0 -56v2m0 -230v2m0 -37v2m0 -69v2m0 -11v2m16 509v2m0 -197v1m0 -30v1m0 -7v2m0 -44v2m0 -32v1m0 -85v2m0 -14v1m0 -47v2m0 -63v2m11 485v2m0 -71v2m0 -181v2m0 -15v2m0 -5v1m0 -29v2m0 -81v3m0 -34v2m0 -89v4m0 -42v2m0 -36v1m0 -20v2m0 -70v1m16 636v2m0 -42v2m0 -197v2m0 -129v2m0 -24v2m0 -159v1m0 -25v2m0 -22v2m0 -29v2m11 632v2m0 -56v1m0 -81v2m0 -49v2m0 -73v2m0 -170v2m16 420v1m0 -210v2m0 -41v1m0 -34v2m0 -109v2m0 -217v1m11 575v1m0 -308v2m0 -41v1m0 -12v2m0 -136v2m0 -40v2m16 496v2m0 -40v2m0 -19v2m0 -65v2m0 -109v2m0 -98v2m0 -89v2m0 -83v2m0 -69v2m0 -15v2m11 587v1m0 -14v2m0 -78v2m0 -13v2m0 -140v2m0 -179v2m0 -6v2m0 -25v2m0 -8v2m0 -72v2m0 -24v2m0 -18v1m0 -30v1m43 649v3m0 -72v2m0 -9v2m0 -200v2m0 -16v2m0 -76v1m0 -39v1m0 -117v2m0 -40v1m0 -27v2m0 -11v2m0 -69v2m11 576v2m0 -17v2m0 -34v2m0 -40v2m0 -11v2m0 -19v2m0 -126v1m0 -54v2m0 -44v2m0 -99v1m0 -123v2"/>
<path stroke="#472a7a" stroke-width="5" d="M124.5 760v2m0 -192v2m0 -89v2m0 -118v2m0 -54v2m0 -113v2m0 -32v1m11 591v2m0 -35v2m0 -5v1m0 -423v1m0 -67v2m11 511v2m0 -58v2m0 -6v2m0 -25v1m0 -23v2m0 -20v2m0 -33v2m0 -78v2m0 -22v2m0 -13v2m0 -53v2m0 -5v2m0 -33v2m0 -11v2m0 -47v1m0 -30v2m0 -28v2m0 -56v2m5 511v1m0 -20v2m0 -25v2m0 -433v2m0 -172v1m11 560v2m0 -69v2m0 -7v1m0 -59v1m0 -103v2m0 -14v1m0 -103v2m0 -185v2m11 580v1m0 -61v2m0 -73v2m0 -13v2m0 -96v2m0 -116v2m0 -188v1m5 426v2m0 -58v2m0 -86v2m0 -117v1m0 -54v2m0 -53v2m0 -13v2m0 -90v2m0 -19v2m11 509v2m0 -255v1m0 -23v2m0 -76v1m0 -175v2m11 485v2m0 -65v1m0 -40v2m0 -103v2m0 -96v2m0 -18v1m0 -74v2m0 -24v2m0 -27v2m0 -96v2m5 657v2m0 -109v2m0 -20v2m0 -18v2m0 -78v2m0 -15v2m0 -42v2m0 -42v2m0 -156v2m0 -38v2m0 -14v1m0 -106v1m0 -27v2m11 627v1m0 -45v2m0 -29v2m0 -26v4m0 -100v2m0 -69v2m0 -23v2m0 -196v2m0 -152v1m0 -14v4m11 635v2m0 -94v4m0 -24v2m0 -31v2m0 -24v2m0 -165v2m0 -34v1m0 -14v2m0 -111v2m0 -54v2m0 -8v2m0 -14v2m0 -37v2m0 -25v2m0 -19v4m5 592v2m0 -54v2m0 -93v2m0 -49v2m0 -63v1m0 -47v2m0 -23v1m0 -14v2m0 -133v2m11 236v2m0 -158v2m0 -22v2m0 -20v2m11 463v2m0 -13v2m0 -59v1m0 -20v2m0 -74v2m0 -42v2m0 -94v2m0 -171v2m0 -74v2m5 532v2m0 -580v2m0 -81v2m11 644v2m0 -61v1m0 -315v2m0 -154v2m0 -9v2m0 -102v2m0 -9v2m0 -6v2m11 650v2m0 -380v2m0 -78v2m0 -37v2m0 -89v2m0 -31v2m5 573v1m0 -70v2m0 -220v2m0 -105v2m0 -241v2m11 659v2m0 -89v2m0 -11v2m0 -152v2m0 -190v3m0 -16v2m0 -6v2m0 -92v3m0 -59v1m11 587v2m0 -6v2m0 -43v2m0 -100v2m0 -100v2m0 -31v2m0 -25v2m0 -10v2m0 -34v2m0 -53v2m0 -13v2m0 -23v1m0 -81v2m0 -13v2m0 -83v1m0 -29v2m5 567v2m0 -73v2m0 -232v2m0 -85v2m11 429v2m0 -60v4m0 -20v2m0 -127v2m0 -40v2m0 -6v2m0 -23v1m0 -30v1m0 -11v2m0 -110v2m0 -51v4m0 -33v2m0 -11v2m0 -9v1m0 -99v2m0 -46v2m0 -12v1m11 667v2m0 -11v3m0 -327v1m0 -268v2m0 -42v4m0 -43v1m5 652v2m0 -18v4m0 -42v2m0 -161v2m0 -28v2m0 -98v2m0 -60v6m0 -121v1m0 -67v4m11 493v1m0 -117v1m0 -34v2m0 -53v2m0 -80v4m0 -33v2m0 -7v2m0 -47v2m0 -64v2m0 -11v2m0 -60v2m11 542v1m0 -7v2m0 -16v1m0 -81v2m0 -147v4m0 -8v2m0 -116v2m0 -5v1m0 -28v1m0 -18v2m0 -223v2m5 672v2m0 -51v2m0 -51v2m0 -270v2m0 -29v2m0 -40v2m0 -18v1m0 -139v2m11 587v1m0 -14v2m0 -75v2m0 -16v2m0 -317v2m0 -114v1m0 -5v2m0 -17v2m11 386v2m0 -169v2m0 -9v2m0 -69v2m0 -203v2m0 -18v2m5 565v2m0 -98v2m0 -19v2m0 -69v2m0 -76v2m0 -63v1m0 -130v2m0 -65v1m0 -41v2m0 -62v2m0 -22v2m11 521v2m0 -9v2m0 -89v2m0 -87v2m0 -58v2m0 -18v2m0 -82v2m0 -38v2m11 431v1m0 -99v2m0 -207v2m0 -98v2m0 -123v2m0 -35v2m5 456v2m0 -7v2m0 -38v2m0 -268v1m11 477v2m0 -10v2m0 -40v2m0 -172v2m0 -11v2m0 -18v2m0 -229v2m0 -69v2m0 -69v2m0 -54v2m11 532v2m0 -33v2m0 -264v2m0 -6v2m0 -9v2m0 -132v1m0 -12v2m0 -8v2m5 533v1m0 -38v2m0 -22v2m0 -5v2m0 -44v2m0 -49v2m0 -143v2m0 -151v2m0 -87v2m11 491v2m0 -53v2m0 -56v1m0 -9v2m0 -291v1m0 -115v1m11 580v2m0 -33v2m0 -103v2m0 -73v2m0 -51v2m0 -89v2m0 -40v2m0 -34v1m0 -25v2m0 -87v2m0 -35v2m0 -22v2m0 -16v2m0 -26v2m0 -12v1m0 -25v2m0 -28v1m5 632v2m0 -46v2m0 -13v2m0 -118v2m0 -18v2m0 -7v2m0 -20v1m0 -18v2m0 -7v2m0 -13v2m0 -6v2m0 -58v2m0 -152v2m0 -27v1m0 -32v2m0 -69v2m0 -40v2m11 650v3m0 -72v2m0 -122v2m0 -49v2m0 -43v1m0 -50v2m0 -40v2m0 -26v2m0 -147v2m0 -40v6m5 565v2m0 -46v4m0 -9v2m0 -17v2m0 -45v2m0 -9v1m0 -43v2m0 -138v2m0 -27v2m0 -9v1m0 -50v1m0 -132v2m0 -147v4m0 -20v2m11 634v2m0 -102v2m0 -76v2m0 -46v2m0 -157v1m0 -63v2m0 -100v2m11 402v2m0 -112v2m0 -202v2m0 -16v2m5 469v2m0 -96v3m0 -45v2m0 -15v2m0 -70v1m0 -79v1m0 -74v2m0 -130v1m0 -150v2m0 -16v1m11 669v2m0 -15v2m0 -74v1m0 -25v2m0 -145v2m0 -163v2m0 -15v2m0 -45v1m0 -48v1m0 -36v2m0 -22v2m11 509v2m0 -26v2m0 -23v2m0 -131v2m0 -60v2m0 -33v2m0 -65v2m0 -9v2m0 -24v2m0 -47v2m0 -31v2m0 -122v2m0 -42v2m0 -14v2m5 641v1m0 -208v2m0 -65v3m0 -139v2m0 -174v4m0 -15v2m0 -54v1m11 585v2m0 -234v2m0 -103v2m0 -51v2m0 -22v2m0 -81v1m0 -18v2m0 -11v2m0 -24v2m0 -45v2m11 592v2m0 -22v2m0 -22v2m0 -206v1m0 -34v2m0 -44v2m0 -61v1m0 -157v2m0 -71v2m5 568v2m0 -539v1m11 603v4m0 -65v2m0 -133v2m0 -78v2m0 -56v2m0 -132v1m0 -128v2m0 -37v2m11 536v2m0 -219v2m0 -47v2m0 -66v2m0 -58v2m0 -9v2m5 463v2m0 -72v2m0 -584v2m11 687v1m0 -117v2m0 -299v2m0 -207v2m11 532v2m0 -63v2m0 -129v2m0 -36v1m0 -29v2m0 -117v1m0 -79v1m0 -27v4m0 -45v1m0 -7v2m0 -7v2m0 -69v2m5 644v2m0 -90v1m0 -63v2m0 -71v2m0 -49v2m0 -16v1m0 -92v2m0 -89v2m0 -54v1m0 -41v2m0 -38v1m0 -5v2m11 581v4m0 -64v2m0 -9v2m0 -69v2m0 -38v2m0 -236v4m0 -7v1m0 -112v2m0 -89v2m11 570v2m0 -32v3m0 -56v2m0 -139v1m0 -12v1m0 -36v2m0 -272v2m0 -83v2m0 -6v2m5 665v2m0 -205v2m0 -125v2m0 -35v4m0 -185v2m11 317v2m0 -125v1m0 -159v2m0 -56v2m0 -55v2m0 -14v1m11 620v2m0 -71v2m0 -6v2m0 -11v2m0 -89v2m0 -13v2m0 -21v1m0 -353v2m0 -9v2m0 -87v2m5 637v2m0 -7v1m0 -92v2m0 -69v2m0 -132v2m0 -91v2m0 -17v2m11 391v2m0 -74v2m0 -404v2m0 -98v2m0 -47v2m0 -29v3m16 549v2m0 -49v2m0 -53v2m0 -7v2m0 -28v2m0 -25v2m0 -109v2m0 -154v2m0 -33v2m0 -29v2m0 -85v1m11 658v2m0 -13v2m0 -9v1m0 -39v1m0 -47v2m0 -41v1m0 -12v1m0 -112v2m0 -58v2m0 -6v2m0 -69v2m0 -23v1m0 -76v2m0 -31v2m0 -5v2m0 -22v2m0 -17v2m0 -94v2m0 -20v2m11 476v2m0 -112v1m0 -72v2m0 -38v2m0 -6v2m0 -98v4m0 -13v2m0 -111v2m0 -60v2m32 674v2m0 -122v2m0 -14v2m0 -182v2m0 -108v1m11 341v2m0 -18v1m0 -56v2m0 -11v2m0 -14v1m0 -11v2m0 -61v2m0 -78v1m0 -74v2m0 -47v2m0 -13v2m0 -62v2m0 -128v1m27 506v1m0 -23v2m0 -35v2m0 -114v2m0 -7v1m0 -105v2m0 -29v2m0 -22v2m0 -103v2m0 -9v1m27 571v2m0 -56v1m0 -23v2m0 -17v2m0 -9v2m0 -129v2m0 -5v2m0 -60v2m0 -35v2m0 -34v1m0 -7v4m0 -147v2m0 -132v1m0 -12v2m0 -59v1m27 693v2m0 -14v1m0 -440v2m0 -14v1m27 431v2m0 -136v2m0 -85v2m0 -9v2m0 -33v2m0 -51v2m0 -98v2m0 -101v1m0 -18v2m0 -31v2m0 -70v1m0 -21v1m27 546v1m0 -14v2m0 -42v2m0 -18v2m0 -98v2m0 -60v5m0 -43v2m0 -19v2m0 -12v1m0 -16v2m0 -62v2m0 -145v2m27 587v2m0 -66v2m0 -132v2m0 -13v2m0 -49v2m0 -91v2m0 -70v1m0 -29v2"/>
<path stroke="#472a7a" stroke-width="6" d="M130 742v2m0 -72v1m0 -119v2m0 -8v2m0 -41v1m0 -106v1m0 -39v1m0 -38v2m0 -13v2m0 -23v2m0 -46v2m0 -43v1m0 -110v2m0 -7v1m11 580v2m0 -17v2m0 -43v2m0 -13v2m0 -53v2m0 -7v2m0 -104v2m0 -43v1m0 -25v2m0 -51v4m0 -98v2m16 458v2m0 -132v1m0 -83v2m0 -65v2m0 -8v2m0 -58v2m0 -33v4m0 -38v2m0 -56v1m0 -150v2m11 641v2m0 -165v2m0 -127v2m0 -11v2m0 -132v1m0 -9v2m0 -11v2m0 -103v2m0 -62v2m16 614v2m0 -151v2m0 -22v2m0 -99v2m0 -80v2m0 -73v2m0 -29v2m0 -36v1m0 -10v1m0 -108v2m11 597v2m0 -219v3m0 -88v2m0 -17v2m0 -27v2m0 -11v2m0 -98v2m0 -15v2m0 -31v2m0 -54v1m0 -59v2m16 617v2m0 -74v3m0 -117v1m0 -50v1m0 -135v1m0 -30v1m0 -123v2m0 -139v1m11 627v2m0 -33v2m0 -7v2m0 -35v2m0 -67v2m0 -35v2m0 -105v2m0 -13v2m0 -9v2m0 -60v2m0 -69v2m0 -62v2m0 -161v2m16 587v1m0 -45v2m0 -34v1m0 -7v2m0 -78v2m0 -33v2m0 -32v1m0 -16v2m0 -80v2m0 -31v2m0 -7v2m0 -66v2m0 -107v2m0 -67v2m11 567v2m0 -160v2m0 -56v2m0 -84v2m0 -31v2m0 -79v1m0 -30v1m0 -29v2m0 -103v2m0 -45v1m16 555v1m0 -81v2m0 -71v2m0 -36v1m0 -27v2m0 -63v1m0 -86v1m0 -76v2m0 -45v2m0 -37v2m0 -5v2m11 586v2m0 -156v2m0 -34v2m0 -205v2m0 -71v2m0 -13v2m0 -119v1m16 594v2m0 -43v2m0 -33v2m0 -7v1m0 -257v2m0 -9v2m0 -24v2m0 -72v1m0 -20v2m0 -132v2m11 547v2m0 -6v2m0 -103v2m0 -35v2m0 -63v1m0 -5v2m0 -16v1m0 -49v2m0 -23v2m0 -29v1m0 -52v2m0 -38v1m0 -27v2m0 -38v2m0 -18v2m0 -51v2m0 -44v2m0 -42v2m16 648v2m0 -105v4m0 -98v2m0 -69v2m0 -114v2m0 -127v2m11 427v2m0 -265v2m0 -79v1m0 -39v1m0 -11v2m0 -81v2m0 -91v2m16 605v2m0 -44v2m0 -357v2m0 -154v2m0 -36v1m11 589v2m0 -112v1m0 -11v2m0 -21v1m0 -135v1m0 -177v2m0 -107v2m0 -24v4m16 596v1m0 -34v2m0 -46v2m0 -123v2m0 -138v2m0 -83v2m0 -6v2m0 -174v2m0 -20v2m11 608v2m0 -38v2m0 -33v2m0 -31v2m0 -9v4m0 -67v2m0 -57v2m0 -54v2m0 -47v1m0 -43v2m0 -24v2m0 -7v3m0 -27v2m0 -38v2m0 -111v2m0 -110v2m16 668v2m0 -76v1m0 -83v2m0 -111v2m0 -65v2m0 -31v2m0 -174v2m0 -24v2m11 560v1m0 -45v2m0 -165v2m0 -205v2m0 -31v2m0 -94v2m16 509v2m0 -127v2m0 -78v2m0 -8v2m0 -60v2m0 -199v2m0 -46v2m0 -154v2m11 629v1m0 -9v2m0 -529v2m0 -18v2m0 -13v2m0 -38v2m0 -15v2m16 580v1m0 -16v2m0 -45v1m0 -170v2m0 -112v2m0 -17v2m0 -11v4m0 -53v2m0 -49v2m0 -52v1m0 -81v2m11 612v2m0 -93v2m0 -91v2m0 -25v2m0 -196v2m0 -74v2m0 -116v1m16 603v2m0 -38v2m0 -71v2m0 -222v1m0 -67v2m0 -96v2m0 -34v1m0 -56v2m0 -62v2m0 -32v1m16 591v2m0 -95v2m0 -88v1m0 -85v2m0 -78v2m0 -11v2m0 -85v2m0 -100v2m0 -13v2m11 619v2m0 -16v2m0 -127v2m0 -18v1m0 -134v2m0 -125v2m0 -74v2m0 -60v2m16 483v2m0 -87v2m0 -78v2m0 -20v2m0 -171v2m0 -123v4m11 523v2m0 -216v2m0 -67v2m0 -148v1m0 -59v1m16 392v1m0 -61v2m0 -67v1m0 -7v2m0 -112v2m0 -46v2m0 -259v2m11 630v2m0 -203v2m0 -53v2m0 -137v1m0 -41v2m0 -26v2m0 -130v1m16 580v2m0 -13v2m0 -170v1m0 -5v2m0 -194v2m0 -16v1m0 -10v1m0 -70v2m0 -22v2m11 135v2m0 -108v1m0 -68v1m0 -32v2m0 -22v2m0 -9v1m0 -86v1m16 658v2m0 -80v2m0 -98v2m0 -71v2m0 -20v2m0 -71v2m0 -207v2m0 -30v1m0 -52v2m0 -44v2m11 648v2m0 -58v2m0 -270v2m0 -67v2m0 -20v2m0 -104v2m16 464v2m0 -18v1m0 -59v1m0 -9v2m0 -177v1m0 -59v2m0 -53v2m0 -47v2m0 -44v2m0 -25v1m11 408v2m0 -439v2m0 -9v2m16 500v2m0 -33v2m0 -26v2m0 -219v2m0 -58v2m0 -7v1m0 -105v2m0 -96v4m0 -24v2m0 -22v2m0 -31v2m0 -13v4m11 636v2m0 -24v2m0 -6v2m0 -52v2m0 -162v2m0 -11v2m0 -31v2m0 -69v2m0 -237v2m0 -42v2m16 607v1m0 -12v1m0 -38v2m0 -134v2m0 -20v2m0 -15v2m0 -7v2m0 -16v1m0 -29v2m0 -70v1m0 -79v1m0 -10v1m0 -25v2m0 -15v2m0 -5v2m11 452v4m0 -98v2m0 -371v2m0 -17v2m0 -36v2m0 -31v2m43 320v2m0 -125v2m0 -9v2m0 -93v2m0 -69v2m0 -7v2m0 -22v2m0 -75v2m11 580v2m0 -82v2m0 -44v2m0 -21v1m0 -101v2m0 -17v2m0 -16v2m0 -103v3m0 -119v1m0 -101v2"/>
<path stroke="#472f7d" stroke-width="5" d="M124.5 702v2m0 -136v2m0 -217v2m0 -198v2m11 601v2m0 -148v1m0 -74v2m0 -78v2m0 -217v1m0 -146v2m11 507v1m0 -50v2m0 -82v2m0 -27v2m0 -185v2m0 -6v2m0 -49v2m5 464v1m0 -54v2m0 -227v2m0 -203v2m11 527v2m0 -103v2m0 -31v2m0 -163v1m0 -50v2m0 -254v2m0 -27v3m11 538v2m0 -277v2m0 -248v1m0 -7v2m5 621v2m0 -190v2m0 -6v2m0 -288v2m0 -192v2m11 614v1m0 -130v2m0 -74v1m0 -59v1m0 -38v4m0 -34v1m0 -110v2m0 -15v2m0 -42v2m0 -65v2m0 -47v2m0 -28v2m11 669v1m0 -14v2m0 -26v2m0 -87v2m0 -134v2m0 -205v2m0 -58v2m0 -45v1m5 498v2m0 -223v2m0 -16v2m0 -62v2m0 -22v2m0 -150v2m0 -57v2m0 -14v2m0 -88v1m11 413v3m0 -12v1m0 -175v1m0 -5v2m0 -54v1m0 -97v1m0 -67v2m11 625v2m0 -29v3m0 -61v2m0 -8v2m0 -56v2m0 -20v2m0 -33v2m0 -20v2m0 -82v2m0 -34v2m0 -37v2m0 -16v2m0 -111v2m0 -143v2m5 639v2m0 -35v2m0 -159v2m0 -35v2m0 -210v2m0 -18v2m0 -138v2m0 -17v2m0 -32v1m11 643v2m0 -65v2m0 -18v1m0 -10v1m0 -94v2m0 -185v2m0 -132v2m0 -140v2m11 469v2m0 -105v2m0 -27v1m0 -18v2m0 -368v2m5 567v2m0 -116v2m0 -29v2m0 -27v1m0 -72v2m11 -181v1m0 -30v1m0 -61v2m0 -44v2m11 623v2m0 -109v2m0 -29v2m0 -62v2m0 -40v2m0 -89v2m0 -43v1m0 -12v2m5 230v1m0 -67v2m0 -29v2m0 -100v2m11 323v1m0 -159v2m0 -402v2m11 574v1m0 -50v2m0 -120v2m0 -221v2m0 -192v2m0 -19v2m5 603v2m0 -18v2m0 -112v1m0 -56v2m0 -263v2m0 -27v2m0 -136v2m11 373v2m0 -122v2m0 -148v2m0 -116v1m0 -23v2m11 619v2m0 -29v2m0 -29v2m0 -87v1m0 -29v2m0 -295v4m0 -58v2m0 -124v2m5 634v2m0 -279v2m0 -147v2m0 -9v2m0 -80v2m11 509v2m0 -247v2m0 -237v2m0 -87v2m0 -15v2m11 585v2m0 -13v2m0 -71v2m0 -149v2m0 -5v2m0 -35v2m0 -16v2m0 -144v2m0 -25v2m0 -22v2m0 -122v2m0 -56v2m0 -7v1m0 -16v2m5 639v2m0 -72v1m0 -150v2m0 -15v2m0 -380v2m11 563v2m0 -254v2m0 -101v1m0 -141v2m11 317v2m5 223v1m0 -29v2m0 -154v2m0 -51v2m0 -154v2m0 -43v3m0 -136v2m0 -12v1m0 -85v2m11 659v2m0 -109v2m0 -38v2m0 -33v2m0 -31v2m0 -20v2m0 -25v2m0 -64v2m0 -214v2m0 -47v2m0 -15v2m0 -5v2m0 -11v1m0 -23v2m11 614v1m0 -9v2m0 -36v4m0 -15v2m0 -161v2m0 -51v2m5 199v2m0 -257v1m0 -87v2m11 288v2m0 -11v2m0 -53v2m0 -134v2m0 -63v3m0 -20v2m0 -224v1m11 571v2m0 -201v1m0 -141v2m0 -22v2m0 -78v2m0 -13v2m0 -45v2m0 -65v1m5 556v2m0 -16v2m0 -20v2m0 -13v2m0 -96v1m0 -48v1m0 -68v1m0 -12v2m0 -77v2m0 -143v2m0 -132v2m11 614v1m0 -34v2m0 -9v2m0 -33v2m0 -107v2m0 -286v1m0 -97v1m0 -97v1m11 622v1m0 -68v1m0 -68v1m0 -173v1m0 -213v1m0 -12v2m0 -8v2m0 -54v2m5 505v2m0 -94v1m0 -112v2m0 -9v2m0 -28v2m0 -67v2m0 -16v2m0 -98v2m0 -62v2m0 -31v2m0 -42v2m0 -22v2m11 648v2m0 -56v2m0 -71v2m0 -92v2m0 -346v1m0 -70v2m0 -18v1m5 487v2m0 -136v2m0 -61v2m0 -28v2m0 -105v2m0 -25v1m0 -39v1m0 -16v2m0 -9v2m0 -11v3m11 603v2m0 -174v2m0 -83v2m0 -62v4m0 -11v2m0 -11v2m0 -24v2m0 -56v2m0 -13v2m0 -163v2m0 -24v2m11 387v2m0 -25v2m0 -162v2m0 -56v2m5 130v2m0 -217v2m0 -111v2m11 601v2m0 -60v2m0 -101v1m0 -101v2m0 -76v2m0 -73v2m0 -22v2m0 -27v2m0 -167v4m11 422v2m0 -31v2m0 -22v2m0 -51v2m0 -53v2m0 -69v2m0 -31v4m0 -107v2m0 -29v2m5 436v2m0 -6v2m0 -422v2m0 -32v1m11 556v2m0 -43v1m0 -19v1m0 -29v2m0 -206v2m0 -9v1m0 -25v2m0 -73v2m0 -38v2m0 -87v2m0 -78v2m11 619v2m0 -36v2m0 -33v2m0 -42v2m0 -16v1m0 -10v1m0 -56v2m0 -71v2m0 -299v2m0 -69v2m5 542v1m0 -152v2m0 -11v2m0 -58v2m0 -45v2m0 -26v2m0 -69v2m0 -83v1m0 -43v2m0 -42v2m0 -25v1m11 613v1m0 -79v1m0 -469v2m0 -63v2m0 -68v1m11 626v2m0 -16v2m0 -350v2m5 409v2m0 -42v2m0 -70v1m0 -183v2m0 -40v2m0 -190v2m11 518v3m0 -157v2m0 -17v2m0 -165v2m0 -61v1m0 -164v1m11 464v2m0 -131v2m0 -268v2m0 -13v2m0 -38v2m0 -15v2m0 -101v2m5 590v2m0 -207v2m0 -161v2m0 -7v1m0 -244v2m11 664v2m0 -23v1m0 -115v1m0 -68v1m0 -41v2m0 -35v2m0 -107v2m0 -24v2m0 -179v2m0 -35v2m11 326v2m5 273v2m0 -14v1m0 -21v2m0 -91v2m0 -51v2m0 -188v1m0 -56v2m0 -27v2m0 -183v2m11 601v2m0 -66v2m0 -201v2m0 -23v1m0 -76v2m11 337v4m0 -258v2m0 -12v1m0 -67v2m0 -181v2m5 393v2m0 -114v1m0 -39v1m0 -39v1m0 -81v2m0 -109v2m0 -76v2m0 -37v2m11 317v2m0 -89v2m16 114v2m0 -29v2m0 -9v1m0 -34v2m0 -199v1m0 -87v2m0 -29v2m11 667v1m0 -18v2m0 -16v2m0 -169v2m0 -22v2m0 -74v2m0 -73v2m0 -43v1m0 -16v2m0 -29v2m0 -131v2m11 505v2m0 -32v1m0 -47v2m0 -31v2m0 -38v2m0 -207v2m0 -16v2m0 -67v2m0 -89v2m0 -9v1m0 -70v2m32 389v2m0 -36v1m0 -112v2m0 -11v2m0 -147v2m0 -25v1m11 580v2m0 -6v2m0 -45v2m0 -80v2m0 -134v2m0 -18v1m0 -112v2m0 -203v2m0 -22v2m0 -35v2m0 -14v2m0 -26v2m27 420v2m0 -13v2m0 -67v2m0 -116v2m0 -54v1m0 -161v2m27 668v2m0 -90v1m0 -43v2m0 -94v1m0 -40v2m0 -146v1m0 -130v2m0 -103v1m0 -5v2m27 639v2m0 -451v2m27 411v2m0 -31v2m0 -9v1m0 -45v2m0 -63v1m0 -103v2m0 -91v2m0 -88v1m0 -170v2m0 -69v2m27 645v1m0 -81v2m0 -107v2m0 -98v2m0 -89v2m0 -27v1m0 -81v2m0 -27v1m27 444v2m0 -13v2m0 -7v2m0 -268v1m0 -177v2m0 -60v2"/>
<path stroke="#472f7d" stroke-width="6" d="M130 711v2m0 -161v2m0 -15v2m0 -116v2m0 -22v2m0 -70v1m0 -14v2m0 -13v2m0 -163v2m0 -33v2m11 552v2m0 -11v4m0 -38v2m0 -51v2m0 -44v2m0 -69v2m0 -49v2m0 -22v4m0 -234v2m0 -7v2m0 -11v2m0 -19v2m0 -18v2m16 614v2m0 -24v2m0 -118v2m0 -33v2m0 -70v1m0 -25v2m0 -24v2m0 -65v2m0 -7v1m0 -41v1m0 -74v2m0 -23v1m0 -43v2m0 -91v2m11 650v2m0 -36v1m0 -266v2m0 -13v2m0 -22v2m0 -50v1m0 -110v4m0 -28v2m0 -67v2m0 -109v2m0 -9v2m0 -6v2m16 616v2m0 -189v2m0 -49v2m0 -87v2m0 -45v2m0 -71v2m0 -78v2m11 543v2m0 -64v2m0 -94v2m0 -22v2m0 -205v2m0 -195v1m16 502v2m0 -53v2m0 -174v2m0 -145v2m11 373v2m0 -145v2m0 -58v2m0 -174v2m0 -51v2m0 -152v1m16 491v2m0 -36v2m0 -279v2m0 -37v2m0 -11v2m0 -147v2m11 643v2m0 -194v2m0 -74v2m16 293v2m0 -6v2m0 -11v2m0 -5v1m0 -21v1m0 -407v2m0 -55v2m0 -161v2m11 516v2m0 -40v4m0 -142v2m0 -186v1m16 473v2m0 -91v2m0 -40v2m0 -47v2m0 -7v1m0 -72v2m0 -196v2m0 -5v1m0 -34v2m0 -56v2m0 -142v2m11 654v2m0 -205v2m0 -93v2m0 -45v2m0 -22v2m0 -15v2m0 -12v1m0 -139v2m0 -102v2m0 -18v2m16 657v2m0 -20v2m0 -7v1m0 -36v2m0 -9v2m0 -239v2m0 -167v2m0 -74v1m11 516v2m0 -72v2m0 -38v1m0 -16v2m0 -27v2m0 -38v1m0 -63v2m0 -6v2m0 -159v2m0 -84v2m0 -58v2m16 460v2m0 -285v2m0 -159v2m11 500v1m0 -137v2m0 -335v1m0 -172v2m16 364v4m0 -47v1m0 -79v2m0 -127v2m11 547v1m0 -81v2m0 -20v2m0 -118v2m0 -78v2m0 -118v2m0 -9v1m0 -41v2m0 -15v2m0 -13v2m0 -110v1m16 587v2m0 -11v2m0 -78v2m0 -140v2m0 -83v2m0 -31v2m0 -103v1m0 -76v2m0 -36v2m0 -22v2m0 -35v2m11 623v2m0 -29v2m0 -112v1m0 -61v2m0 -64v2m0 -72v1m0 -41v2m0 -122v2m0 -5v1m0 -14v2m0 -18v1m0 -65v2m0 -29v2m16 541v2m0 -22v2m0 -489v2m0 -60v2m11 522v1m0 -110v2m0 -111v2m0 -188v2m0 -192v1m16 672v2m0 -60v2m0 -242v1m0 -78v2m0 -11v2m0 -22v2m0 -255v2m11 666v2m0 -22v2m0 -98v2m0 -83v2m0 -44v2m0 -72v1m0 -154v2m0 -101v2m0 -84v2m16 230v2m0 -100v2m0 -72v2m0 -29v5m0 -22v2m0 -60v2m16 667v1m0 -409v2m0 -236v2m11 645v2m0 -78v2m0 -404v2m0 -13v2m0 -44v2m0 -69v2m16 545v2m0 -129v2m0 -157v2m11 318v2m0 -141v2m0 -82v2m0 -125v2m0 -103v1m0 -90v2m0 -33v2m16 565v2m0 -310v2m0 -243v2m0 -24v2m11 348v2m0 -183v2m0 -35v2m0 -67v2m0 -92v3m16 543v2m0 -112v2m0 -236v2m0 -13v2m0 -85v2m11 485v2m0 -275v2m0 -35v4m0 -45v1m0 -92v2m0 -145v2m0 -9v2m16 594v1m0 -56v2m0 -23v1m0 -68v1m0 -45v2m0 -147v2m0 -34v1m0 -10v1m0 -11v2m0 -36v2m0 -83v1m0 -65v2m0 -58v2m11 605v2m0 -145v1m0 -30v1m0 -74v2m0 -196v2m0 -65v2m0 -158v2m16 616v2m0 -6v2m0 -5v1m0 -54v2m0 -34v1m0 -215v2m0 -29v1m0 -48v1m0 -74v2m0 -159v1m0 -18v2m11 297v2m0 -53v2m0 -98v2m0 -31v2m0 -69v2m16 611v1m0 -36v2m0 -100v2m0 -52v1m0 -47v2m0 -253v1m0 -36v2m0 -159v1m11 649v2m0 -26v2m0 -7v2m0 -138v2m0 -69v2m0 -98v2m0 -11v2m0 -93v2m0 -29v2m0 -69v2m16 500v2m0 -31v2m0 -65v1m0 -32v2m0 -28v2m0 -121v2m0 -104v2m0 -25v2m0 -6v2m0 -60v2m11 476v2m0 -34v2m0 -216v2m0 -22v2m0 -13v2m0 -31v2m0 -45v2m0 -89v2m0 -163v2m0 -35v2m43 630v2m0 -11v2m0 -60v2m0 -134v2m0 -83v1m0 -36v2m0 -53v2m0 -136v2m0 -20v2m0 -72v1m0 -10v1m11 618v2m0 -24v2m0 -5v1m0 -39v1m0 -9v2m0 -235v2m0 -29v1m0 -49v2m0 -40v2m0 -27v2m0 -78v2"/>
<path stroke="#463480" stroke-width="5" d="M124.5 682v2m0 -232v2m0 -110v2m11 183v1m0 -81v2m0 -162v2m0 -92v2m11 487v2m0 -111v2m0 -357v2m0 -5v1m0 -94v2m0 -38v2m16 701v2m0 -64v2m0 -491v2m11 109v1m5 401v2m0 -200v2m0 -114v2m0 -362v1m11 433v2m0 -80v2m0 -45v2m0 -91v4m0 -24v2m0 -132v2m0 -67v2m0 -12v1m11 414v2m0 -279v2m0 -71v2m5 495v2m0 -28v2m0 -194v2m0 -348v2m11 580v2m0 -29v1m0 -79v2m0 -200v2m0 -45v2m11 389v2m0 -239v2m0 -51v4m0 -15v2m0 -42v2m0 -14v1m0 -12v1m0 -86v3m0 -179v2m5 462v1m0 -50v1m0 -260v1m0 -57v1m0 -97v1m11 531v2m0 -55v2m0 -101v2m0 -17v2m0 -47v2m0 -196v2m11 464v2m0 -305v2m0 -7v2m0 -6v2m0 -42v2m0 -45v2m0 -51v2m0 -22v2m5 382v2m0 -286v2m11 452v4m0 -141v1m0 -143v2m0 -118v2m11 368v2m0 -35v2m0 -145v2m0 -116v2m0 -16v1m0 -135v1m0 -210v2m5 650v2m0 -7v4m0 -35v2m0 -92v1m0 -123v2m11 239v2m0 -469v2m0 -145v2m11 583v2m0 -422v1m5 352v2m0 -191v2m0 -60v2m0 -5v2m11 110v2m0 -152v2m0 -9v1m0 -121v2m0 -36v1m11 542v2m0 -203v2m0 -114v1m0 -130v2m0 -18v2m0 -13v2m5 145v1m0 -47v2m0 -51v2m0 -76v2m0 -24v2m0 -7v2m0 -13v2m11 534v2m0 -178v2m0 -246v2m0 -47v2m11 259v1m0 -92v2m0 -64v2m0 -224v1m5 42v2m0 -44v2m11 562v1m0 -289v2m11 313v2m0 -524v2m0 -60v2m0 -32v1m5 531v2m0 -38v2m0 -55v2m0 -129v2m0 -92v2m0 -13v2m0 -216v2m0 -72v2m11 527v1m0 -259v4m0 -54v1m0 -153v1m11 2v2m5 583v2m11 -92v1m0 -94v2m0 -49v2m0 -178v2m0 -63v2m0 -35v2m0 -40v2m0 -89v2m11 623v2m0 -38v2m0 -305v2m0 -241v2m0 -40v2m16 601v2m0 -250v2m0 -145v2m11 429v2m0 -157v1m0 -195v2m0 -120v2m0 -225v2m5 645v2m0 -55v2m0 -167v2m0 -11v2m0 -38v2m0 -69v2m0 -18v2m0 -203v2m11 563v2m0 -134v2m0 -133v2m0 -31v2m0 -60v2m0 -190v2m0 -35v2m0 -7v2m5 561v2m0 -16v2m0 -44v2m0 -60v2m0 -143v2m0 -38v1m0 -32v2m0 -209v2m0 -38v2m0 -27v3m0 -27v2m0 -11v2m11 312v1m0 -179v2m11 460v2m0 -11v2m0 -89v2m0 -91v2m0 -25v1m0 -135v1m0 -43v2m0 -219v1m5 591v2m0 -11v2m0 -35v2m0 -123v2m0 -69v2m0 -62v2m0 -163v2m0 -125v2m0 -19v2m11 641v2m0 -136v2m0 -18v2m0 -24v2m0 -7v2m0 -9v1m0 -45v2m0 -31v2m0 -38v2m0 -221v3m11 484v2m0 -7v1m0 -27v2m0 -78v2m0 -139v1m0 -30v1m0 -201v2m5 357v2m0 -192v2m0 -46v2m0 -42v2m0 -92v2m11 494v2m0 -264v1m0 -12v3m0 -45v2m0 -38v2m0 -223v2m0 -46v2m11 569v2m0 -185v2m0 -6v2m0 -357v2m5 409v4m0 -110v3m0 -194v2m11 478v2m0 -550v1m11 345v1m5 196v4m0 -187v2m0 -33v4m11 233v2m0 -59v1m0 -85v2m0 -60v2m0 -65v2m0 -201v1m0 -105v2m0 -18v2m0 -54v1m0 -16v2m11 632v2m0 -116v2m0 -37v2m0 -213v1m0 -159v2m5 456v2m0 -257v2m0 -6v2m0 -228v2m11 420v2m0 -8v2m0 -107v2m0 -89v2m0 -36v2m0 -24v2m0 -78v2m0 -76v2m11 326v2m0 -120v2m16 295v2m0 -7v1m0 -157v2m0 -40v2m0 -250v2m0 -107v2m11 557v2m0 -138v2m0 -146v1m0 -192v2m0 -14v2m0 -38v1m5 223v2m0 -129v2m0 -210v2m0 -25v1m11 638v2m0 -87v2m0 -145v1m16 268v2m0 -31v2m0 -311v2m0 -67v1m0 -161v2m11 429v2m0 -377v2m0 -27v2m0 -6v2m11 522v2m0 -8v2m0 -212v2m0 -94v2m0 -9v1m0 -251v2m0 -22v2m0 -26v4m32 538v2m0 -140v2m0 -76v2m0 -73v2m0 -60v2m0 -239v2m0 -9v2m11 349v2m0 -152v2m0 -89v2m0 -82v4m27 632v2m0 -218v2m0 -49v2m0 -362v2m0 -20v2m27 188v2m0 -230v2m54 673v4m0 -45v1m0 -374v1m0 -215v2m27 572v2m0 -46v2m0 -38v2m0 -100v2m0 -139v2m0 -40v2m0 -234v2m27 625v1m0 -5v2m0 -15v2m0 -25v2m0 -49v1m0 -34v2m0 -9v2m0 -181v1m0 -130v2m0 -33v2m0 -130v1m0 -81v2"/>
<path stroke="#463480" stroke-width="6" d="M130 755v4m0 -252v2m0 -95v2m0 -5v2m0 -113v2m0 -206v2m11 612v1m0 -61v2m0 -15v2m0 -125v2m0 -129v2m0 -69v2m0 -78v2m0 -42v4m0 -34v1m0 -36v2m16 572v2m0 -237v2m0 -105v1m0 -5v2m0 -170v1m11 459v1m0 -210v2m0 -183v2m0 -141v2m16 606v2m0 -49v2m0 -161v2m0 -332v2m11 534v2m0 -63v1m0 -418v2m0 -94v2m16 604v2m0 -338v1m0 -119v2m0 -9v1m11 245v2m0 -84v2m0 -215v3m0 -12v2m16 327v2m0 -132v2m0 -227v2m0 -56v2m11 579v2m0 -40v2m0 -168v2m0 -187v2m0 -58v2m16 422v1m0 -197v2m0 -181v2m0 -87v1m0 -154v2m0 -7v2m11 623v2m0 -277v1m0 -59v1m16 303v2m0 -35v2m0 -7v2m0 -198v2m0 -268v2m0 -45v1m0 -72v2m11 672v1m0 -163v2m0 -70v1m0 -103v2m0 -9v2m0 -6v2m0 -81v1m0 -59v2m0 -48v2m0 -54v2m0 -84v2m16 663v2m0 -112v1m0 -313v2m0 -31v2m0 -114v2m0 -69v2m11 605v1m0 -88v1m0 -54v2m0 -9v2m0 -350v2m0 -82v2m0 -25v2m16 376v2m0 -45v2m0 -149v2m11 310v2m0 -272v2m0 -76v1m0 -12v2m0 -107v2m0 -29v1m16 582v2m0 -57v2m0 -94v4m0 -105v1m0 -38v2m0 -34v2m0 -185v2m0 -85v1m0 -30v1m11 522v2m0 -107v2m0 -100v2m0 -100v2m0 -34v2m0 -67v1m0 -76v2m0 -74v2m0 -27v1m16 487v2m0 -221v2m0 -105v2m0 -98v2m0 -82v2m11 640v1m0 -23v3m0 -105v2m0 -7v2m0 -140v2m0 -130v2m0 -73v2m16 49v2m0 -26v2m0 -121v2m0 -31v2m0 -42v2m11 657v2m0 -485v1m0 -47v2m16 527v2m0 -100v2m0 -22v2m0 -130v2m0 -55v2m0 -85v2m0 -7v1m0 -25v2m0 -45v1m0 -110v2m0 -89v2m11 525v2m0 -158v2m0 -71v2m0 -70v1m0 -36v2m0 -139v1m16 424v2m0 -31v2m0 -158v2m0 -40v2m0 -228v2m0 -49v2m16 655v2m0 -204v1m0 -413v2m11 547v2m0 -228v2m0 -118v2m0 -37v2m16 440v2m0 -137v1m0 -16v2m0 -161v1m0 -94v2m0 -210v2m11 512v2m0 -101v2m0 -238v2m16 375v2m0 -91v2m0 -217v2m0 -89v2m11 210v3m0 -152v2m0 -234v2m16 611v1m0 -126v1m11 -117v1m0 -74v2m0 -154v2m16 460v2m0 -13v2m0 -216v2m0 -252v2m0 -72v3m11 546v1m0 -347v1m0 -7v2m0 -275v2m16 559v2m0 -33v2m0 -11v2m0 -25v2m0 -22v2m0 -281v2m0 -118v2m0 -7v1m0 -32v2m0 -18v1m0 -34v2m11 628v2m0 -322v1m16 265v2m0 -49v2m0 -69v2m0 -69v2m0 -207v2m0 -47v2m0 -37v2m0 -27v2m0 -6v2m11 384v2m0 -301v2m0 -114v2m0 -92v1m16 625v2m0 -80v2m0 -51v2m0 -60v2m0 -38v2m0 -7v2m0 -33v2m0 -237v1m0 -65v2m0 -42v2m0 -23v1m11 270v4m0 -42v2m0 -53v2m0 -97v1m0 -40v4m43 560v2m0 -55v2m0 -25v1m0 -23v2m0 -58v2m0 -120v2m0 -16v1m0 -76v2m0 -81v1m0 -88v2m0 -19v2m0 -74v2m11 663v1m0 -126v1m0 -68v1m0 -67v2m0 -81v2m0 -13v4m0 -33v2m0 -18v1m0 -235v2m0 -45v1m0 -11v2"/>
<path stroke="#443983" stroke-width="5" d="M124.5 538v1m0 -152v4m0 -149v2m11 310v2m0 -257v1m0 -137v2m11 597v2m0 -141v2m0 -430v2m5 400v2m0 -340v2m0 -46v2m0 -89v2m11 549v2m0 -270v2m11 295v2m0 -55v2m5 -147v2m0 -61v1m0 -235v2m0 -35v2m11 533v2m0 -106v2m0 -501v1m11 658v2m5 -18v1m0 -81v2m0 -118v2m0 -118v2m0 -89v2m0 -9v2m0 -38v1m0 -206v2m11 471v1m0 -47v2m0 -110v2m0 -118v2m11 373v2m0 -8v2m0 -22v2m0 -52v1m0 -39v1m0 -221v2m0 -116v2m0 -7v2m0 -64v2m0 -18v2m0 -75v1m5 672v1m0 -54v2m0 -424v2m11 471v2m0 -437v2m0 -105v2m0 -58v2m0 -6v2m0 -36v1m11 357v2m0 -49v2m5 43v2m0 -11v2m0 -5v2m11 206v2m0 -192v2m11 270v1m0 -259v2m0 -43v2m0 -332v2m5 603v2m0 -49v2m0 -26v2m0 -25v2m0 -129v2m0 -47v2m0 -84v2m0 -223v2m11 366v2m0 -129v2m0 -54v1m0 -97v2m0 -35v2m0 -11v2m11 545v4m0 -125v1m0 -186v2m0 -6v2m0 -118v2m0 -5v2m0 -9v1m0 -65v2m0 -161v2m5 659v2m0 -69v2m0 -292v2m0 -198v2m11 547v2m0 -76v2m0 -176v2m0 -53v2m0 -63v2m0 -29v1m0 -9v2m0 -262v1m0 -14v2m11 366v1m0 -110v2m0 -13v2m0 -56v1m5 473v2m0 -9v2m0 -36v1m0 -193v1m0 -106v1m0 -14v2m0 -13v2m0 -65v1m0 -175v2m0 -55v2m11 569v1m0 -441v1m11 412v1m0 -150v2m0 -16v3m0 -23v1m0 -65v2m0 -91v2m5 440v2m0 -427v2m11 349v2m27 76v2m0 -44v2m0 -34v2m0 -173v2m0 -110v2m11 264v2m0 -38v2m5 88v2m0 -400v2m0 -9v2m0 -6v2m0 -183v2m11 616v1m0 -166v2m0 -28v2m0 -349v1m11 540v2m0 -205v2m0 -415v2m5 565v2m0 -5v1m0 -39v1m0 -345v1m0 -88v1m11 364v2m0 -418v2m11 541v2m0 -210v2m0 -33v2m0 -109v2m0 -186v1m0 -49v2m5 564v1m0 -145v2m0 -65v2m0 -56v2m0 -11v1m0 -48v1m0 -39v1m0 -16v2m0 -16v1m0 -101v2m0 -114v1m11 634v2m0 -38v2m0 -53v2m0 -221v2m0 -71v2m0 -36v2m0 -150v1m0 -12v2m0 -33v2m0 -6v2m0 -73v1m5 623v1m0 -23v2m0 -44v2m0 -105v2m0 -214v2m0 -71v2m11 373v2m0 -313v2m0 -69v2m0 -111v2m0 -42v2m11 302v2m0 -222v1m0 -76v2m0 -13v2m0 -7v2m5 413v1m0 -231v1m11 479v1m0 -282v2m0 -91v2m0 -130v1m0 -16v2m0 -63v1m11 551v2m0 -64v2m0 -32v1m0 -293v2m0 -49v2m0 -107v2m0 -38v1m0 -25v2m5 438v2m11 150v2m0 -62v2m0 -56v2m0 -112v1m0 -9v2m0 -139v2m0 -38v1m0 -159v2m0 -42v2m11 605v2m0 -71v2m0 -47v2m0 -294v2m0 -5v1m0 -132v2m5 380v2m0 -78v2m0 -186v1m0 -117v1m0 -125v2m0 -4v1m11 547v1m0 -68v1m0 -288v2m0 -128v1m11 578v2m0 -20v2m0 -165v2m0 -76v2m5 -9v1m0 -233v2m11 452v2m11 38v2m0 -98v2m0 -228v2m5 186v2m0 -114v2m0 -310v2m11 436v2m0 -5v1m0 -365v1m0 -63v2m11 500v2m0 -455v2m5 443v2m0 -49v2m0 -139v2m0 -33v2m11 221v2m0 -169v2m0 -18v2m11 210v2m0 -26v2m0 -116v2m0 -330v2m0 -40v2m0 -13v2m5 257v2m11 299v2m0 -435v2m16 422v2m0 -198v2m0 -60v2m0 -65v2m0 -102v2m0 -40v2m0 -159v2m0 -51v2m0 -6v2m11 518v2m0 -188v1m0 -87v2m0 -116v2m11 455v1m0 -43v2m0 -487v1m32 547v2m0 -299v2m0 -51v2m11 328v2m0 -34v1m0 -40v2m0 -72v3m0 -39v1m0 -137v2m0 -73v2m0 -139v1m0 -54v2m27 681v2m0 -15v2m0 -42v2m0 -45v2m0 -69v2m0 -69v2m0 -53v2m27 -187v2m0 -99v1m27 544v1m0 -277v2m0 -335v2m27 295v2m0 -9v2m0 -207v2m0 -116v2m27 636v1m0 -12v2m0 -120v2m0 -16v1m0 -217v2m0 -172v2m27 -24v2"/>
<path stroke="#443983" stroke-width="6" d="M130 721v1m0 -152v2m11 183v2m0 -6v2m0 -29v2m0 -168v1m0 -16v2m0 -7v1m16 73v2m0 -15v2m0 -210v2m0 -189v2m11 505v2m0 -165v2m16 -212v2m0 -146v1m0 -105v2m11 667v1m0 -563v2m16 572v2m11 -33v2m0 -76v2m0 -355v2m0 -78v2m0 -125v2m16 666v2m0 -9v2m0 -488v2m11 453v2m0 -252v2m16 273v2m0 -54v2m0 -330v2m11 353v2m0 -199v1m0 -14v2m16 230v2m0 -73v2m0 -397v2m0 -203v2m11 578v2m0 -13v2m0 -167v2m0 -49v2m16 -40v2m11 195v2m0 -286v2m16 308v2m0 -9v1m0 -255v2m11 72v2m0 -125v2m0 -56v2m0 -180v2m16 527v2m0 -306v2m11 224v2m0 -150v2m0 -11v2m0 -258v2m16 572v2m0 -525v2m11 387v2m0 -306v2m0 -40v2m16 473v1m0 -150v2m0 -261v2m0 -91v2m11 297v2m0 -52v1m0 -293v2m16 587v1m0 -97v1m0 -215v2m0 -254v2m0 -74v1m11 142v2m0 -107v2m16 441v2m0 -41v1m0 -94v2m0 -270v2m0 -33v2m0 -7v2m16 585v2m0 -169v2m0 -216v2m0 -157v1m11 299v2m0 -38v2m0 -27v2m16 297v1m0 -155v1m0 -146v2m0 -107v1m11 241v2m0 -74v2m0 -147v2m0 -292v2m16 199v2m11 426v2m0 -115v2m0 -23v1m0 -141v2m0 -101v1m0 -16v2m0 -76v2m16 270v1m0 -72v2m0 -22v2m0 -85v1m0 -103v2m11 504v1m0 -7v2m0 -143v2m0 -238v2m16 373v2m0 -58v2m0 -34v1m0 -336v1m0 -134v2m11 205v2m16 338v2m0 -476v2m0 -98v2m11 154v1m16 428v2m0 -214v2m0 -107v2m11 52v2m0 -38v2m0 -330v2m0 -45v1m16 661v4m0 -215v1m0 -248v2m0 -179v2m11 391v2m0 -167v2m0 -15v2m0 -18v4m0 -47v1m0 -36v2m0 -15v2m43 464v2m0 -82v2m0 -359v2m0 -5v2m0 -71v2m11 579v2m0 -127v2m0 -78v2m0 -92v2m0 -160v2"/>
<path stroke="#433e85" stroke-width="5" d="M124.5 757v2m0 -526v4m22 438v2m0 -74v2m16 41v2m11 20v2m0 -141v1m5 -242v1m0 -164v1m11 591v2m0 -24v2m11 58v2m0 -69v2m0 -94v1m0 -61v2m0 -178v2m0 -56v2m0 -31v2m5 403v2m0 -47v2m0 -9v2m0 -94v1m0 -99v2m11 313v2m11 -26v2m0 -94v2m0 -129v2m0 -306v2m0 -65v1m16 623v2m0 -12v1m0 -163v2m0 -422v2m11 580v1m0 -99v2m0 -323v2m5 415v2m11 -163v1m0 -114v2m0 -121v2m0 -44v2m11 378v2m0 -594v2m5 373v2m0 -221v2m11 264v2m0 -89v2m0 -150v2m0 -6v2m0 -56v2m11 516v2m0 -22v2m0 -62v2m0 -87v2m5 -26v2m0 -460v2m11 643v2m0 -11v2m0 -27v1m0 -7v2m0 -83v1m0 -250v2m0 -116v2m11 446v2m0 -421v2m0 -31v2m5 324v2m0 -67v2m0 -63v1m11 76v2m0 -155v1m11 363v1m0 -248v2m0 -103v2m5 275v2m0 -56v1m0 -134v2m0 -252v2m11 324v2m0 -184v1m11 386v2m5 -147v2m0 -168v1m0 -211v1m11 511v2m0 -681v2m11 393v2m0 -53v2m5 322v2m11 -168v1m0 -125v2m0 -58v2m0 -20v2m0 -161v3m0 -88v1m11 604v1m0 -344v2m5 257v2m0 -27v2m0 -196v2m0 -264v1m11 69v2m0 -100v2m11 596v2m0 -9v2m0 -321v2m0 -198v2m0 -123v2m5 639v2m0 -9v2m0 -158v2m0 -11v2m0 -16v1m0 -108v2m0 -243v2m0 -142v2m11 643v2m0 -31v2m0 -52v1m0 -30v1m0 -90v2m0 -60v2m0 -105v1m0 -244v2m5 405v2m0 -324v2m0 -24v2m0 -18v2m0 -36v1m11 469v2m0 -201v2m0 -127v2m0 -61v1m0 -139v2m11 666v2m0 -536v2m5 152v2m11 355v1m0 -148v2m0 -125v2m11 288v1m0 -21v3m0 -60v2m0 -583v2m16 659v2m0 -7v2m0 -35v2m0 -94v2m11 -107v2m0 -44v2m0 -265v2m0 -54v2m5 373v2m0 -73v2m0 -116v2m0 -33v2m11 418v2m0 -304v2m11 310v1m0 -97v1m0 -39v1m0 -208v2m0 -178v2m5 524v1m0 -271v2m11 -368v2m0 -17v2m16 605v2m0 -163v2m0 -40v2m0 -35v2m0 -51v2m11 312v2m0 -77v2m0 -20v2m0 -90v1m0 -43v2m0 -53v2m0 -40v2m0 -109v2m0 -89v2m11 47v2m5 449v2m11 -145v2m11 107v2m0 -254v2m0 -257v2m5 539v2m0 -333v2m0 -18v1m0 -288v2m11 261v2m0 -245v2m16 618v2m0 -196v2m0 -73v2m0 -31v2m0 -212v2m11 264v2m0 -271v1m0 -83v2m0 -18v2m11 595v2m0 -32v2m0 -26v2m0 -348v2m0 -121v2m43 541v2m0 -145v2m0 -402v2m0 -26v2m27 426v1m0 -88v1m0 -67v2m0 -395v2m27 248v2m27 22v2m27 333v2m0 -199v1m0 -105v2m0 -13v2m0 -130v2m27 382v2m0 -6v2m0 -20v2m0 -451v2m0 -40v2m27 382v2m0 -102v2m0 -33v2m0 -40v2"/>
<path stroke="#433e85" stroke-width="6" d="M130 760v2m0 -311v1m0 -135v1m0 -59v2m0 -64v2m11 337v2m0 -38v1m0 -79v2m0 -176v2m0 -82v2m0 -82v2m16 507v2m0 -190v2m0 -140v4m11 449v2m0 -297v2m0 -47v1m0 -48v1m0 -137v2m16 490v2m0 -27v2m0 -9v2m0 -66v2m0 -295v2m11 262v2m0 -188v2m0 -134v1m27 245v2m0 -93v2m16 176v2m0 -56v1m0 -52v2m11 105v1m0 -72v2m0 -324v2m16 423v2m0 -134v4m0 -127v2m11 347v2m0 -233v1m0 -342v2m16 619v2m0 -96v2m0 -34v1m0 -94v2m0 -255v1m0 -57v1m0 -137v2m0 -6v2m11 690v2m0 -339v2m0 -13v2m0 -152v2m0 -87v2m16 577v2m0 -31v2m0 -9v2m11 14v2m0 -89v2m0 -541v2m16 624v2m0 -634v2m11 629v5m0 -132v2m0 -316v2m0 -157v2m16 378v2m0 -53v2m0 -268v2m0 -105v2m0 -17v4m11 578v2m0 -20v1m0 -121v2m0 -87v2m0 -252v2m0 -22v2m16 237v2m0 -216v2m11 91v2m0 -11v2m27 271v2m0 -42v2m0 -5v2m0 -113v2m0 -297v2m16 22v1m11 316v1m0 -99v2m16 68v2m0 -76v2m27 -223v2m16 54v2m11 58v2m0 -34v1m0 -79v1m16 602v2m0 -38v1m0 -273v2m0 -319v2m11 621v2m0 -165v2m0 -132v1m0 -259v2m0 -38v2m16 585v2m0 -212v2m0 -361v2m27 531v2m0 -40v1m0 -202v1m0 -329v2m11 -37v2m16 636v2m0 -53v2m0 -7v2m0 -55v2m0 -20v2m0 -47v2m0 -344v1m11 66v1m16 -146v2m27 572v2m0 -17v2m0 -31v2m0 -45v2m0 -44v2m0 -18v2m0 -20v2m0 -64v2m0 -5v1m0 -106v1m0 -148v2m0 -22v2m11 521v2m0 -36v2m0 -218v2m0 -65v2m0 -131v2m0 -87v2m43 228v2m0 -60v2m0 -83v2m11 440v2m0 -6v2m0 -246v1m0 -74v2m0 -51v4"/>
<path stroke="#414287" stroke-width="5" d="M124.5 762v2m11 7v2m0 -14v1m11 6v2m0 -78v2m0 -321v2m0 -98v2m27 482v1m5 -34v2m0 -353v1m22 53v2m5 329v2m0 -219v2m0 -136v2m11 358v2m0 -324v2m0 -127v2m11 433v2m0 -544v2m5 339v2m11 61v2m0 -174v2m11 319v1m0 -48v1m0 -224v2m0 -8v2m5 -7v4m0 -13v2m11 11v1m0 -177v2m11 447v2m5 -129v2m0 -235v1m0 -233v2m0 -9v1m11 578v2m0 -18v2m0 -44v2m0 -20v2m0 -24v2m0 -482v2m11 259v2m0 -83v1m5 24v2m0 -192v2m11 566v4m0 -449v2m0 -158v2m11 610v2m0 -471v2m0 -9v2m0 -13v4m5 424v1m0 -34v2m0 -40v2m11 134v2m0 -13v2m0 -172v1m0 -389v2m11 -7v2m0 -58v1m5 219v2m0 -40v2m11 442v2m0 -5v1m0 -384v2m16 375v2m0 -333v2m38 331v2m0 -165v2m0 -73v2m0 -156v2m11 391v2m0 -83v2m0 -339v2m5 418v2m0 -78v2m0 -134v2m11 -33v2m11 -264v1m5 6v2m11 492v2m0 -465v1m0 -45v2m0 -80v2m0 -24v2m5 602v3m0 -13v2m0 -11v2m0 -454v3m0 -30v1m11 -157v2m27 384v1m0 -159v2m0 -163v2m11 -44v2m16 547v2m0 -31v2m0 -337v2m0 -22v2m0 -163v2m0 -49v1m11 629v2m0 -625v2m5 670v2m0 -364v1m11 346v2m0 -185v2m0 -179v2m0 -123v1m0 -10v1m38 500v2m0 -130v1m5 -221v2m0 -98v2m11 232v2m0 -333v1m11 479v1m16 66v1m11 -470v1m0 -213v1m32 701v2m0 -5v2m0 -51v2m0 -321v2m0 -24v2m0 -163v2m11 125v2m11 40v1m0 -271v2m0 -49v1m32 582v2m0 -223v2m0 -187v2m0 -58v2m11 565v2m0 -457v2m0 -36v2m0 -18v1m0 -105v2m0 -61v1m27 681v2m0 -275v2m27 -178v2m0 -159v1m27 -81v2m27 532v2m0 -158v2m0 -128v1m0 -12v2m0 -218v2m27 621v2m27 9v2m0 -456v1"/>
<path stroke="#414287" stroke-width="6" d="M141 760v2m16 20v2m11 -580v2m16 554v2m0 -43v2m0 -518v1m38 553v2m0 -95v2m0 -132v2m0 -448v2m16 457v1m0 -52v2m0 -169v2m11 435v2m0 -6v2m0 -451v2m0 -176v2m16 351v2m0 -406v2m11 391v2m0 -342v2m16 596v1m0 -86v1m0 -101v2m0 -337v2m11 530v2m0 -447v2m16 396v2m0 -429v2m11 472v2m0 -127v2m0 -279v2m0 -5v1m0 -12v2m0 -172v1m0 -50v1m16 267v1m0 -38v2m11 314v1m0 -251v1m16 348v2m0 -107v2m0 -51v2m0 -192v2m0 -208v1m0 -38v2m0 -81v2m11 23v2m16 382v2m27 252v1m11 -393v2m16 13v2m27 376v2m0 -203v2m43 -60v2m11 -373v2m43 628v2m0 -58v2m0 -315v2m11 362v2m0 -15v2m0 -130v1m43 125v2m0 -45v2m0 -55v2m0 -88v1m0 -228v2m0 -118v2m11 538v4m27 3v2m0 -83v1m0 -472v2m16 527v1m0 -144v1m0 -489v2m11 556v4m0 -11v2m0 -422v2m43 85v2m0 -151v2m0 -29v2m0 -29v2m11 458v2m0 -31v2m0 -22v2"/>
<path stroke="#3f4788" stroke-width="5" d="M124.5 769v2m0 -7v2m22 -680v1m16 731v2m0 -364v2m11 -332v2m5 631v1m0 -141v2m0 -495v2m0 -36v2m11 670v2m0 -7v1m11 -7v2m0 -246v1m5 104v1m0 -266v2m0 -246v2m22 606v2m0 -451v4m0 -176v2m5 65v2m11 601v2m0 -82v2m0 -516v2m16 297v2m0 -7v1m27 -1v1m11 306v2m0 -31v2m0 -318v1m11 0v2m0 -270v2m0 -16v2m5 268v1m11 346v2m0 -80v2m0 -279v2m0 -25v2m0 -24v2m0 -98v2m11 -129v2m0 -53v1m5 425v2m0 -248v2m11 505v2m0 -386v2m0 -299v2m16 665v1m0 -143v2m0 -107v2m0 -139v1m0 -21v1m0 -237v2m11 545v2m16 -201v4m0 -238v2m27 328v2m11 56v2m11 134v2m5 1v2m11 -7v2m11 -314v2m0 -32v1m0 -291v2m5 454v2m0 -7v2m11 190v2m5 -214v2m0 -33v2m0 -188v1m0 -63v2m22 261v1m5 -222v1m11 392v1m0 -356v1m0 -164v2m11 -91v2m5 659v2m0 -7v1m0 -322v2m11 194v1m0 -268v2m11 391v2m16 -105v2m27 121v2m0 -565v2m11 -132v1m5 687v2m0 -212v2m11 195v2m0 -76v2m0 -370v2m0 -123v2m11 554v2m0 -337v2m0 -80v2m0 -208v1m5 580v2m11 41v2m0 -98v2m11 -83v2m0 -116v2m0 -8v2m5 297v2m27 20v2m0 -641v1m22 602v1m43 -563v2m27 435v2m54 -118v2m27 277v2m0 -287v2m0 -161v2m0 -125v2m0 -91v2m27 643v2m0 -256v2m0 -174v2m27 -170v2m0 -22v2"/>
<path stroke="#3f4788" stroke-width="6" d="M130 183v1m11 582v2m0 -421v2m16 131v1m0 -117v2m27 400v2m11 -53v2m27 -525v2m43 588v2m0 -6v2m0 -7v2m27 -315v2m0 -374v2m11 359v2m16 324v2m0 -357v2m0 -26v2m0 -266v4m11 621v2m0 -227v2m0 -178v4m16 402v2m0 -328v2m11 317v2m16 -234v4m0 -201v2m0 -147v2m11 155v2m0 -7v2m16 425v2m11 33v2m16 -35v2m0 -656v2m11 259v2m16 228v2m11 -379v2m16 221v2m27 15v1m43 299v2m11 -364v2m43 0v2m11 25v2m16 337v1m0 -463v2m0 -26v2m27 196v1m27 189v2m0 -178v2m0 -346v2"/>
<path stroke="#3e4c8a" stroke-width="5" d="M146.5 760v2m0 -65v2m5 65v2m0 -257v1m11 288v2m0 -391v2m0 -20v2m16 373v2m0 -8v2m11 -2v2m11 0v2m0 -257v2m5 253v2m0 -199v2m11 -393v1m38 319v2m0 -120v2m5 107v2m0 -13v2m0 -5v1m22 268v2m5 -284v2m0 -100v2m11 397v1m0 -338v2m27 -20v1m0 -5v2m0 -6v2m0 -27v2m0 -11v2m0 -102v2m0 -69v2m11 565v2m5 -7v2m0 -93v2m11 91v1m11 -521v2m5 259v1m27 -257v2m11 531v1m0 -650v2m16 629v1m11 0v2m0 -511v2m16 42v2m22 -51v2m16 286v2m5 -11v2m0 -230v2m11 268v1m16 -384v2m11 578v2m11 -386v2m16 154v2m0 -384v1m16 388v2m0 -183v2m0 -221v2m22 405v2m27 -304v2m16 510v2m38 -2v2m16 4v2m0 -8v2m16 -243v2m0 -56v2m0 -165v2m22 460v2m0 -404v2m32 121v2m11 293v2m0 -594v2m27 500v2m0 -259v1m27 210v2m27 138v2m0 -8v2m27 9v2m0 -262v1m27 109v2m0 -290v2m0 -134v2m27 -6v2"/>
<path stroke="#3e4c8a" stroke-width="6" d="M130 443v2m27 176v2m0 -375v2m11 528v2m0 -7v2m0 -150v1m16 105v2m0 -431v2m11 451v2m27 -6v2m0 -92v2m16 115v2m0 -14v2m0 -402v1m11 392v1m0 -63v2m16 76v2m11 -15v2m16 -315v3m11 -12v2m16 336v2m0 -369v2m11 349v2m0 -435v2m16 103v2m11 330v3m16 -9v2m0 -333v2m38 366v1m27 -34v2m43 -294v2m27 274v1m54 -336v1m16 -130v2m38 502v1m0 -27v2m16 -212v2m11 212v2m43 -100v2m0 -281v2m11 98v2m43 289v2m11 -406v2"/>
<path stroke="#3c508b" stroke-width="5" d="M162.5 764v2m54 -308v2m11 47v3m0 -77v1m5 328v2m22 2v2m16 -279v2m11 266v2m5 -124v2m22 122v1m16 -362v2m0 -13v2m38 371v2m0 -268v2m0 -87v2m0 -9v2m5 -35v2m27 196v1m49 71v2m0 -122v2m5 236v2m22 3v2m0 -388v2m5 -58v2m11 82v1m5 -106v1m22 460v2m5 2v2m27 -6v2m0 -603v2m54 605v2m11 16v2m16 -22v2m11 -94v1m0 -123v2m70 230v2m0 -290v2m22 273v2m0 -208v2m32 203v1m11 -356v1m27 -61v2m108 423v2m27 -11v2m0 -375v2"/>
<path stroke="#3c508b" stroke-width="6" d="M130 766v2m0 -9v1m11 -673v1m27 115v1m43 580v2m65 -26v2m16 -308v2m0 -241v2m11 360v2m0 -137v1m16 -34v2m0 -6v2m11 -47v2m16 76v2m11 -143v2m16 -116v1m38 113v2m0 -107v2m54 30v2m16 536v2m27 -5v1m27 -1v1m16 -1v1m11 -1v1m27 -154v2m0 -443v1m27 -65v2m16 663v2m0 -9v1m54 0v2m0 -152v2m0 -225v2m11 370v1m43 18v2m0 -177v2m11 166v2"/>
<path stroke="#3a548c" stroke-width="5" d="M162.5 558v1m27 207v2m0 -6v2m11 0v2m16 18v2m11 -276v2m0 -7v2m32 -44v2m11 321v2m16 -60v2m0 -263v2m0 -6v2m11 -16v2m38 -183v2m5 489v1m0 -202v1m0 -29v2m11 -110v2m0 -6v2m16 -44v2m49 404v2m54 -540v2m21 -52v1m11 140v2m11 420v2m43 0v1m11 11v2m0 -9v2m16 -4v2m11 -4v4m27 2v2m0 -8v2m151 20v2m0 -692v2m162 304v2"/>
<path stroke="#3a548c" stroke-width="6" d="M141 610v2m81 143v2m16 27v2m0 -9v1m27 -287v1m27 -18v2m0 -14v1m11 315v2m70 -686v2m11 668v2m43 0v2m38 25v2m32 -33v2m11 7v2m97 -9v2m38 -2v2m27 -7v1m16 -134v2m11 -116v2m54 -322v2"/>
<path stroke="#38598c" stroke-width="5" d="M135.5 753v2m11 4v1m0 -670v2m86 668v2m27 -7v2m11 61v2m16 -344v2m0 -18v2m11 -42v2m16 340v2m22 0v2m16 -6v2m16 0v2m38 -2v2m11 20v2m27 -20v2m32 -4v2m0 -6v2m0 -5v2m16 5v2m27 -4v2m54 -2v2m81 5v2m11 -5v2m11 -6v2m5 2v2m0 -9v1m11 -1v1m189 24v2m27 -6v2m27 -11v2"/>
<path stroke="#38598c" stroke-width="6" d="M184 769v2m38 -213v1m70 -103v4m11 322v2m0 -668v1m16 660v1m27 -345v1m27 330v2m216 5v2m70 -110v1m11 102v2m16 -383v2m11 -150v2"/>
<path stroke="#365d8d" stroke-width="5" d="M135.5 764v2m16 5v2m22 -11v2m54 -4v2m0 -7v2m5 -252v2m22 255v4m5 -6v2m11 22v2m43 -18v1m49 -5v2m54 14v2m5 -18v2m11 -4v2m86 -7v2m49 3v2m0 -5v1m59 -1v1m11 4v2m27 -7v1m43 20v2m0 -384v2m92 391v2"/>
<path stroke="#365d8d" stroke-width="6" d="M130 764v2m11 7v2m43 -16v1m38 -380v2m70 94v2m11 -382v2m16 309v2m11 359v1m27 -360v2m16 358v2m11 -9v2m27 29v2m86 -31v2m27 0v2m65 -4v2m27 12v2m0 -20v2m27 9v2"/>
<path stroke="#34618d" stroke-width="5" d="M297.5 447v2m11 311v2m27 -453v2m43 453v2m16 -4v4m54 -2v2m22 0v2m43 1v2m5 -11v2m103 13v2m16 -344v1m11 332v2m43 7v2m38 -6v2"/>
<path stroke="#34618d" stroke-width="6" d="M222 510v2m0 -5v2m0 -120v2m243 427v2m16 -61v1m43 2v2m81 -4v2m54 2v2m38 0v2m0 -6v2"/>
<path stroke="#32658e" stroke-width="5" d="M135.5 762v2m11 0v2m5 -4v2m49 -248v2m54 -18v1m27 -30v3m5 4v2m11 286v2m11 -321v4m16 313v2m65 23v2m5 -25v2m0 -8v2m65 -2v2m43 20v2m81 -13v2m11 -9v2m43 2v1m38 -10v1m232 22v2m27 -18v2"/>
<path stroke="#32658e" stroke-width="6" d="M211 780v2m11 -16v2m16 12v2m108 -18v2m81 -2v2m108 -2v2m27 0v2m70 7v2m11 -17v2"/>
<path stroke="#30698e" stroke-width="5" d="M146.5 771v2m27 -5v1m27 -255v2m16 246v2m16 0v2m49 0v2m0 -290v2m0 -6v2m54 -168v1m0 -32v2m5 487v2m119 -6v2m54 0v2m16 0v2m43 -4v2m335 18v2"/>
<path stroke="#30698e" stroke-width="6" d="M211 789v2m11 -279v2m0 -5v1m0 -10v1m0 -110v2m16 423v2m11 -54v2m27 2v1m27 11v2m27 -18v2m221 0v2m11 3v2"/>
<path stroke="#2e6d8e" stroke-width="5" d="M146.5 775v2m32 -4v2m22 -265v2m5 259v2m11 -9v4m11 0v1m0 -278v1m5 283v2m0 -270v2m0 -6v2m11 261v2m0 -268v1m0 -5v2m11 271v2m27 -2v2m0 -302v2m5 291v2m0 -284v1m27 283v2m11 -375v4m11 -116v1m16 484v2m38 14v2m59 -23v1m54 20v2m11 -16v2m27 -4v2m16 -6v2m27 7v2m0 -5v2m16 -4v2m54 -4v2m11 7v2m16 -9v2m27 22v1m119 -7v2"/>
<path stroke="#2e6d8e" stroke-width="6" d="M222 395v1m0 -11v4m54 375v2m16 -2v2m54 2v1m108 -3v2m43 0v1m27 -5v2m11 0v2m43 -6v2m11 -2v2m16 -2v2m11 0v2m16 -4v4m38 -6v2m16 4v2"/>
<path stroke="#2d718e" stroke-width="5" d="M200.5 512v2m27 245v1m0 -260v1m0 -9v2m16 7v2m0 -5v2m38 -24v2m5 -7v1m38 -77v1m11 -116v2m86 484v2m22 3v2m43 -4v2m54 -5v2m16 3v2m54 13v2m38 -26v4m43 5v2m38 -5v1m97 17v2"/>
<path stroke="#2d718e" stroke-width="6" d="M141 759v1m27 20v2m16 -20v4m38 -274v2m0 -101v2m0 -11v1m0 -9v2m43 438v2m27 -49v2m65 -355v2m27 348v2m97 1v2m0 -5v2m16 -2v2m189 16v2"/>
<path stroke="#2a768e" stroke-width="5" d="M124.5 766v2m27 1v2m0 -5v2m27 -4v2m11 9v2m11 -6v2m5 -4v2m0 -7v2m11 20v2m11 -26v2m16 22v2m0 -285v4m16 257v4m22 -6v2m5 2v2m22 0v1m16 -1v1m11 -487v2m5 500v2m0 -13v2m0 -11v2m0 -6v2m27 6v1m11 -3v2m16 12v2m22 4v2m5 -13v2m11 -11v2m11 5v2m16 -6v2m0 -5v2m16 7v2m0 -11v2m16 -2v2m27 7v2m0 -8v2m0 -5v2m11 3v2m16 -4v4m11 -9v2m11 0v2m16 21v2m0 -13v4m16 -7v2m0 -8v2m27 0v4m22 5v2m5 -7v2m11 -15v4m11 2v1m16 -7v2m70 14v2m65 8v1m81 -3v2"/>
<path stroke="#2a768e" stroke-width="6" d="M130 762v2m11 0v2m16 18v2m38 -6v2m0 -22v2m27 -2v2m0 -264v2m0 -118v2m0 -6v2m27 120v1m54 285v2m27 -446v2m27 74v4m0 -8v2m43 352v1m38 6v2m16 -8v2m11 26v1m43 -36v2m16 4v1m11 2v2m16 9v2m54 -6v2m0 -14v2m65 3v2m16 -9v2m65 3v2"/>
<path stroke="#277e8e" stroke-width="5" d="M124.5 768v1m11 -1v1m11 -1v1m16 24v2m11 -31v2m32 0v2m11 3v2m0 -5v1m11 0v2m0 -270v4m32 263v1m0 -273v2m0 -6v2m27 270v2m0 -294v2m22 301v2m5 -335v3m38 -20v2m11 341v1m5 -3v2m27 18v2m38 -19v2m11 -3v1m27 -9v2m16 2v2m5 3v2m49 -2v2m54 -3v1m32 9v2m49 11v2m43 -20v2m54 11v2"/>
<path stroke="#277e8e" stroke-width="6" d="M141 762v2m54 7v2m0 -7v2m27 -6v2m0 -273v1m43 294v2m65 -22v2m0 -430v4m16 424v2m54 -4v2m27 7v2m27 -11v2m97 18v2m27 -18v1m38 -3v2m27 18v2m16 -13v2m38 -13v2"/>
<path stroke="#25858e" stroke-width="5" d="M162.5 797v1m38 -30v1m16 13v2m43 -290v2m11 301v1m16 -20v2m0 -7v2m0 -6v2m11 0v2m11 -331v1m27 332v2m16 -344v1m0 -5v2m38 353v2m5 -4v2m11 -6v2m27 -9v4m16 -9v2m11 -4v2m43 18v2m38 -24v2m54 5v4m0 -7v2m16 14v2m16 -16v3m22 -3v1m27 4v2m32 18v2m11 -15v2m0 -7v2m0 -6v2m43 -2v2m38 20v2"/>
<path stroke="#25858e" stroke-width="6" d="M195 764v2m54 2v1m16 49v2m92 -56v2m0 -344v2m27 354v2m16 -5v2m27 -9v1m11 4v2m16 -2v2m11 27v2m0 -9v2m16 -29v1m27 6v2m0 -11v2m16 7v2m11 -8v2m16 -2v2m0 -7v2m11 2v3m0 -7v2m81 25v2m0 -18v2m16 -11v2m27 1v2m11 -2v4"/>
<path stroke="#228d8d" stroke-width="5" d="M124.5 775v2m49 -11v2m5 0v3m38 7v4m27 -11v2m65 -2v2m43 -5v1m0 -338v2m0 -6v2m43 342v2m11 7v2m27 -18v2m16 5v2m22 2v2m21 -6v2m27 -5v1m11 6v2m27 -8v2m16 13v2m0 -8v2m0 -12v1m54 -3v2m11 -2v2m11 21v2m16 -3v1m0 -14v2m11 -11v2m43 10v2m11 0v2m151 6v1m27 0v2"/>
<path stroke="#228d8d" stroke-width="6" d="M195 769v2m16 17v1m11 -20v2m0 -12v1m70 15v2m81 -9v1m11 4v2m0 -6v2m16 -2v2m54 -3v1m81 4v2m43 -9v2m11 12v2m0 -16v2m70 0v1m11 9v2m70 2v2"/>
<path stroke="#1f948c" stroke-width="5" d="M135.5 775v2m11 -8v2m5 -3v1m38 0v2m11 -2v2m16 17v1m38 -16v2m27 -4v2m0 -5v1m5 2v2m11 0v2m0 -321v2m11 -11v2m0 -11v2m5 -22v2m11 348v2m11 1v2m5 4v2m0 -9v1m38 6v2m11 14v2m27 -4v2m16 -23v1m27 2v2m16 15v1m11 -18v4m5 -7v1m22 -1v1m32 6v2m11 -11v2m16 14v2m0 -15v2m11 13v2m0 -18v1m0 -5v2m38 7v2m54 5v2m5 11v2m0 -26v2m92 17v1m81 -3v2m54 0v1m27 -12v1"/>
<path stroke="#1f948c" stroke-width="6" d="M141 775v2m16 14v2m27 -20v2m92 -292v2m16 293v2m0 -12v1m27 15v2m27 -13v2m11 -6v2m16 7v2m0 -14v2m11 0v1m16 2v2m38 -7v2m43 3v2m16 2v2m27 -6v2m54 5v2m11 -2v2m16 -11v2m11 -3v3m43 0v2m11 7v2m0 -9v2m16 -7v1m54 20v2m11 -13v2m0 -5v2"/>
<path stroke="#1e9c89" stroke-width="5" d="M200.5 766v2m16 21v2m27 -23v1m27 47v2m11 -45v2m16 -310v2m0 -9v2m0 -8v2m11 -11v2m0 -7v4m0 -9v3m5 333v2m0 -342v2m0 -13v2m22 353v2m27 -6v2m5 -2v2m27 20v2m27 -22v2m0 -5v1m27 9v2m27 -11v4m11 -5v1m16 19v1m38 -16v2m5 -9v3m11 4v2m0 -7v1m11 6v2m32 12v4m11 -4v2m43 -13v2m0 -7v2m0 -9v3m11 22v2m11 -15v2m0 -5v2m0 -8v2m54 4v2m43 7v2m27 29v1m27 -25v2"/>
<path stroke="#1e9c89" stroke-width="6" d="M130 771v2m11 5v2m16 8v1m27 -21v1m11 -1v1m43 49v2m11 -49v2m27 -286v4m16 291v2m65 -11v2m27 -4v2m27 43v2m27 -40v2m0 -12v3m27 45v2m32 -47v2m54 -5v1m11 4v2m16 -4v2m11 -4v2m43 -2v2m54 20v2m11 -9v2"/>
<path stroke="#20a386" stroke-width="5" d="M151.5 775v2m38 -4v2m0 -7v1m16 15v2m27 -20v2m27 3v2m11 18v2m11 -18v2m0 -294v2m16 -18v2m0 -13v2m16 -27v2m0 -13v4m11 345v2m38 2v2m27 13v1m5 -5v2m11 -4v2m38 -15v2m27 -3v1m32 17v2m16 -17v4m11 -6v2m11 -3v1m32 2v2m11 2v2m11 1v2m5 6v2m0 -10v2m22 -9v2m27 5v2m16 -11v2m11 0v2m5 16v2m0 -18v2m0 -7v1m119 49v2m135 -47v2"/>
<path stroke="#20a386" stroke-width="6" d="M141 768v1m27 17v2m70 1v2m0 -5v2m27 0v1m11 -304v2m16 301v1m11 27v2m16 -32v5m54 -20v2m27 5v2m11 38v2m27 -31v2m59 -22v2m11 -2v2m43 0v2m11 15v1m124 -11v2m0 -9v2m11 7v2m43 2v2m11 -13v2"/>
<path stroke="#25ab82" stroke-width="5" d="M162.5 800v2m38 -29v2m5 0v2m0 -9v1m22 -5v2m16 18v2m0 -11v2m16 -8v2m11 18v2m11 -310v2m5 285v1m11 -306v2m16 310v2m0 -6v2m0 -340v1m11 344v2m11 -12v1m5 0v4m27 4v1m0 -7v2m27 5v2m0 -12v3m22 17v1m5 -1v1m49 -20v2m43 4v2m16 -4v2m16 11v2m11 -8v2m0 -7v2m81 1v2m0 -7v4m54 1v2m38 -3v1m0 -5v2"/>
<path stroke="#25ab82" stroke-width="6" d="M130 769v2m11 -2v2m16 18v2m0 -5v2m27 -11v1m38 10v1m0 -18v2m27 -4v2m27 4v2m16 -6v2m0 -304v2m54 298v2m65 27v2m27 -20v2m86 -9v2m65 -2v4m43 -4v2m11 3v2m0 -11v2m27 -3v1m70 19v1"/>
<path stroke="#2db27d" stroke-width="5" d="M151.5 778v2m0 -7v2m11 29v2m27 -35v2m27 2v2m11 -4v2m5 -6v6m27 9v2m11 7v2m27 -20v2m16 1v2m0 -356v3m11 346v2m11 -4v2m135 -2v2m5 -5v1m16 9v2m22 -9v4m5 9v2m22 -11v2m5 3v2m49 4v2m5 -8v6m0 -15v2m11 15v1m11 -20v2m16 0v2m11 0v2m32 5v2m0 -7v2m11 -8v2m16 20v2m22 -15v2m70 17v3m54 -7v2m0 -6v2m27 0v4m54 -17v2m0 -5v2"/>
<path stroke="#2db27d" stroke-width="6" d="M141 788v1m70 -3v2m11 -20v1m16 46v1m27 -25v2m11 -9v2m0 -17v2m16 -304v2m0 -6v2m11 353v2m0 -32v3m54 -20v2m16 0v2m54 0v2m27 12v2m0 -20v2m11 25v4m16 -24v2m16 -7v2m38 -7v1m16 6v2m27 11v1m38 -12v1m27 11v2m27 -14v1m27 -5v2m43 11v2m11 -11v1"/>
<path stroke="#38b977" stroke-width="5" d="M124.5 773v2m22 -2v2m5 13v1m22 -11v2m0 -9v6m5 -6v2m27 0v2m49 0v2m59 7v2m0 -13v2m0 -348v2m27 353v2m27 -11v2m11 -6v2m43 -2v2m11 9v2m11 -4v2m0 -5v2m5 7v2m0 -11v2m11 7v2m0 -8v2m11 8v1m0 -16v2m59 5v2m11 -11v2m27 5v2m0 -12v1m54 -1v1m27 24v2m0 -20v2m16 16v2m0 -9v2m0 -6v2m0 -6v2m0 -7v2m27 13v1m70 -12v1m11 11v2m81 -3v1m54 6v2m27 -17v2"/>
<path stroke="#38b977" stroke-width="6" d="M184 782v2m0 -13v2m11 0v2m27 -11v2m16 22v1m11 -14v2m27 1v2m16 -315v2m54 304v2m11 9v2m54 16v2m43 -27v2m70 11v1m65 -21v1m54 19v1m0 -21v1m16 0v2m38 18v2m0 -23v1"/>
<path stroke="#46c06f" stroke-width="5" d="M135.5 769v2m38 -2v2m5 7v2m0 -5v2m49 -6v2m0 -7v2m16 10v2m16 -5v2m11 18v2m11 -9v1m32 -7v2m27 -6v2m11 -9v2m11 -2v2m16 -2v2m16 2v2m11 7v2m27 0v2m16 -15v2m0 -7v1m11 -1v1m11 9v2m21 -7v2m81 -2v4m11 -4v2m11 -2v4m5 16v2m0 -7v1m92 4v2m16 23v2m0 -7v2"/>
<path stroke="#46c06f" stroke-width="6" d="M168 793v2m16 -9v2m0 -10v2m38 -7v2m27 3v2m27 -7v2m54 -6v2m43 4v2m38 25v2m16 -26v2m11 -9v2m86 5v2m11 -5v2m43 -2v2m0 -8v2m27 4v2m11 -6v4m16 3v2m11 -7v2m16 -2v2m11 7v2m0 -15v2m16 11v2m0 -9v2m11 16v2m0 -20v2"/>
<path stroke="#56c667" stroke-width="5" d="M124.5 778v2m11 -2v2m0 -7v2m27 27v2m54 -13v2m16 -15v2m11 -7v2m11 3v2m5 -2v2m0 -7v2m27 0v2m11 5v4m0 -324v1m27 312v2m0 -6v2m38 5v2m0 -5v2m5 -2v2m11 1v2m11 6v2m5 -15v2m11 11v3m16 -16v2m11 13v1m0 -11v2m0 -5v2m54 1v2m5 -5v2m27 3v4m22 -6v2m108 8v1m0 -18v2m16 7v2m11 0v2m5 -6v2m0 -9v2m27 43v2m11 -36v2m43 2v2m0 -15v4m38 39v2m0 -16v2m108 -11v2"/>
<path stroke="#56c667" stroke-width="6" d="M130 780v2m0 -14v1m38 20v2m27 -16v2m70 12v2m11 -5v2m0 -8v2m16 2v2m0 -314v2m27 317v2m11 -22v2m16 5v2m11 -5v2m27 -2v2m43 -6v2m70 5v2m11 -2v2m0 -12v1m16 8v1m27 -5v2m11 0v2m81 7v2m27 -11v2m16 12v2m0 -18v2m11 16v2m54 -5v1"/>
<path stroke="#67cc5c" stroke-width="5" d="M200.5 780v2m0 -5v1m54 -7v2m16 27v2m16 -14v1m0 -5v2m11 -326v2m11 307v2m124 13v2m27 2v1m0 -16v4m43 14v2m27 -11v2m11 4v1m5 -11v2m38 11v2m0 -11v2m38 -6v2m32 -9v2m11 16v2m27 -2v2m0 -7v2m0 -13v2m27 2v1m54 13v2m27 7v2m108 -11v2"/>
<path stroke="#67cc5c" stroke-width="6" d="M168 791v2m0 -5v1m70 24v2m27 -2v2m27 -344v1m38 303v2m16 -2v2m65 38v1m16 -47v2m38 44v1m32 -28v1m11 -16v2m70 9v2m11 -4v2m16 -13v2m27 -2v2m38 15v1m0 -5v2m81 -6v2"/>
<path stroke="#7ad151" stroke-width="5" d="M124.5 771v2m38 43v2m54 -41v1m65 0v2m16 6v2m11 -15v2m27 2v1m16 -3v2m38 18v2m5 -8v2m76 -9v2m5 -4v2m54 -4v2m11 6v2m0 -8v2m16 0v2m0 -6v2m38 4v2m16 7v2m38 -4v2m0 -7v2m32 0v1m227 9v2"/>
<path stroke="#7ad151" stroke-width="6" d="M130 778v2m0 -5v2m27 18v2m38 -19v2m16 11v2m11 -15v2m16 11v2m38 -22v2m16 7v2m38 -4v2m0 -7v2m70 -2v2m38 7v4m16 5v2m0 -15v2m27 -7v4m43 -8v2m54 15v2m0 -15v2m65 18v2m0 -13v2m16 -6v2m11 6v2m27 -6v2"/>
<path stroke="#8ed645" stroke-width="5" d="M146.5 782v2m27 4v1m59 -12v1m0 -10v1m27 11v2m49 -4v2m59 -2v2m11 -7v2m16 13v1m54 2v2m11 -16v1m16 0v2m11 -5v2m5 5v2m11 9v2m11 -17v2m5 -2v2m11 4v2m16 -13v2m22 -2v2m5 5v2m11 6v1m11 -1v1m0 -9v2m54 2v2m0 -17v2m27 13v4m5 3v2m11 -7v2m81 5v2m27 18v2m27 -26v2m27 0v2"/>
<path stroke="#8ed645" stroke-width="6" d="M184 775v2m108 9v2m0 -15v2m27 18v2m27 -7v1m108 -12v1m54 2v2m54 -4v2m43 -7v2m11 0v2m27 3v2m43 11v2m0 -9v2m54 3v2"/>
<path stroke="#a2da37" stroke-width="5" d="M135.5 788v1m16 -7v2m49 -6v2m5 0v2m11 -9v2m16 5v2m22 0v2m5 -2v2m38 -6v2m43 6v2m0 -11v1m76 13v2m5 -15v2m11 2v2m0 -7v1m43 -5v2m65 9v2m43 7v2m0 -9v2m11 -6v2m43 4v1m11 -7v2m27 -7v1m32 37v1m119 -23v2"/>
<path stroke="#a2da37" stroke-width="6" d="M130 773v2m11 -4v2m43 11v2m65 -13v2m124 13v1m11 -12v1m16 10v1m11 24v2m54 -11v2m86 -18v1m0 -11v2m27 0v4m11 0v2m70 -9v1m27 10v1m0 -9v2m0 -5v1m11 10v1m54 -7v2"/>
<path stroke="#b8de29" stroke-width="5" d="M124.5 777v1m22 0v2m59 2v2m0 -6v2m49 4v2m27 -6v2m5 4v2m38 -8v2m16 -2v2m11 -4v2m81 9v2m11 -7v2m5 3v2m0 -5v2m0 -6v2m11 -2v2m27 0v2m5 -6v2m11 7v2m65 -22v2m32 2v2m11 16v2m65 -4v2m5 -9v2m11 -4v2m189 13v2m54 -15v2"/>
<path stroke="#b8de29" stroke-width="6" d="M195 782v2m0 -7v1m27 -3v2m81 36v2m54 -37v2m16 2v4m81 -6v2m70 0v2m11 -4v6m16 -6v2m65 0v2m81 2v2"/>
<path stroke="#cde11d" stroke-width="5" d="M135.5 777v1m54 -1v1m54 4v2m11 4v1m0 -12v1m32 4v2m49 4v1m0 -11v2m43 -3v1m81 8v2m11 -4v2m0 -9v1m5 4v2m43 -7v1m22 4v2m5 -2v2m65 11v2m11 -9v1m54 -1v1m32 6v2m119 0v1"/>
<path stroke="#cde11d" stroke-width="6" d="M184 780v2m27 11v2m27 -2v2m27 20v1m0 -19v1m0 -5v2m162 -18v1m54 4v2m54 2v2m0 -10v2m43 -3v1m11 10v1m108 -12v1"/>
<path stroke="#e2e418" stroke-width="5" d="M162.5 815v1m27 -38v2m81 35v1m54 -39v1m65 15v2m27 2v1m27 -18v2m16 7v2m0 -11v2m27 -2v2m54 -5v1m5 6v2m27 -9v1m119 4v2m70 -4v2m11 13v2"/>
<path stroke="#e2e418" stroke-width="6" d="M303 815v1m27 -34v2m16 -7v1m11 6v2m0 -6v2m16 -5v1m81 15v2m11 18v2m97 -38v1m27 8v2m81 3v2m27 -15v2"/>
<path stroke="#f6e620" stroke-width="5" d="M178.5 788v1m173 -9v2m232 -5v1m43 -1v1"/>
<path stroke="#f6e620" stroke-width="6" d="M465 806v1m97 -23v2m43 -6v2"/>
<path stroke="#fde725" stroke-width="5" d="M124.5 780v40m11 -31v31m0 -40v8m11 -4v36m0 -40v2m0 -5v1m5 11v31m0 -36v4m0 -8v2m0 -5v1m11 28v9m11 -26v31m0 -40v8m0 -11v1m5 11v31m0 -40v8m0 -11v1m11 2v40m11 -38v38m5 -34v34m0 -43v1m11 15v27m11 -45v45m5 -38v38m11 -32v32m0 -40v2m0 -5v1m11 11v31m0 -34v2m0 -8v2m5 4v34m0 -43v1m11 24v13m0 -17v2m11 -11v31m0 -38v6m0 -11v1m5 11v31m0 -40v2m0 -5v1m11 10v32m0 -40v2m0 -5v1m11 2v40m0 -43v1m5 8v34m0 -40v2m0 -5v1m11 4v38m11 -31v31m0 -40v8m5 0v32m11 -38v38m0 -43v1m11 2v40m0 -43v1m5 2v40m11 -40v40m11 -23v23m5 -27v27m0 -43v1m11 11v31m11 -22v22m0 -27v4m5 -8v31m0 -40v8m0 -11v1m11 13v29m11 -34v34m0 -38v2m0 -7v1m5 15v27m0 -32v1m0 -9v2m0 -5v1m11 13v29m11 -31v31m0 -34v2m5 1v31m0 -36v4m0 -11v1m11 8v34m0 -38v2m0 -7v1m5 6v36m0 -43v1m11 17v25m11 -40v40m0 -43v1m5 8v34m11 -34v34m0 -43v1m11 11v31m5 -32v32m0 -43v1m11 6v36m0 -43v1m11 2v40m0 -43v1m5 8v34m11 -25v25m11 -31v31m0 -43v1m5 17v25m0 -43v1m11 19v23m11 -31v31m0 -40v8m0 -11v1m5 2v40m11 -31v31m0 -40v8m0 -11v1m11 17v25m0 -43v1m5 2v40m0 -43v1m11 17v25m0 -36v2m0 -9v1m11 15v27m5 -25v25m0 -36v4m0 -11v1m11 17v25m0 -29v2m0 -16v1m16 19v16m11 -29v36m11 -38v38m32 -32v32m0 -38v4m11 11v23m27 -16v9m27 -15v22m0 -25v2m27 -2v25m27 -23v23m27 -20v20m0 -23v1m27 -14v36"/>
<path stroke="#fde725" stroke-width="6" d="M130 782v38m0 -43v1m11 11v31m0 -40v8m0 -11v1m16 19v23m0 -27v2m11 0v25m16 -32v32m11 -36v36m16 -25v25m11 -31v31m0 -40v8m0 -11v1m16 17v18m11 -33v40m0 -43v1m16 20v15m0 -18v2m11 -9v32m0 -38v2m0 -7v1m16 11v31m0 -43v1m11 13v22m16 -18v25m11 -36v36m0 -40v2m0 -5v1m16 11v31m0 -40v8m11 -2v34m0 -43v1m16 11v31m0 -34v2m0 -8v2m11 -2v40m16 -31v31m0 -40v8m0 -11v1m11 26v9m16 -33v40m11 -29v29m0 -34v3m0 -12v1m16 17v25m0 -38v7m11 18v6m16 -29v36m0 -40v2m0 -5v1m16 11v31m0 -40v8m0 -11v1m11 4v38m0 -43v1m16 11v31m0 -36v4m0 -8v2m11 6v32m0 -43v1m16 11v31m0 -34v2m0 -11v1m11 11v31m0 -34v2m0 -8v4m16 5v31m11 -31v31m0 -43v1m16 4v38m0 -43v1m11 11v31m0 -36v4m0 -8v2m16 -2v40m0 -43v1m11 17v25m0 -43v1m16 2v40m11 -27v27m0 -31v2m16 4v25m11 -25v25m43 -27v27m11 -31v31m0 -36v4"/>
</g>
<g fill="#000" shape-rendering="crispEdges">
<rect x="98" y="85" width="865" height="1"/><rect x="98" y="822" width="865" height="1"/>
<rect x="98" y="85" width="1" height="738"/><rect x="962" y="85" width="1" height="738"/>
<rect x="179" y="823" width="1" height="4.5"/>
<rect x="287" y="823" width="1" height="4.5"/>
<rect x="395" y="823" width="1" height="4.5"/>
<rect x="503" y="823" width="1" height="4.5"/>
<rect x="611" y="823" width="1" height="4.5"/>
<rect x="719" y="823" width="1" height="4.5"/>
<rect x="827" y="823" width="1" height="4.5"/>
<rect x="935" y="823" width="1" height="4.5"/>
<rect x="93.5" y="85" width="4.5" height="1"/>
<rect x="93.5" y="206" width="4.5" height="1"/>
<rect x="93.5" y="327" width="4.5" height="1"/>
<rect x="93.5" y="448" width="4.5" height="1"/>
<rect x="93.5" y="569" width="4.5" height="1"/>
<rect x="93.5" y="689" width="4.5" height="1"/>
<rect x="93.5" y="810" width="4.5" height="1"/>
</g>
<g font-size="20.833">
<text x="178.64" y="847.77" text-anchor="middle">2</text>
<text x="286.63" y="847.77" text-anchor="middle">4</text>
<text x="394.61" y="847.77" text-anchor="middle">6</text>
<text x="502.60" y="847.77" text-anchor="middle">8</text>
<text x="610.58" y="847.77" text-anchor="middle">10</text>
<text x="718.56" y="847.77" text-anchor="middle">12</text>
<text x="826.55" y="847.77" text-anchor="middle">14</text>
<text x="934.53" y="847.77" text-anchor="middle">16</text>
<text x="87.93" y="818.06" text-anchor="end">0</text>
<text x="87.93" y="697.24" text-anchor="end">100</text>
<text x="87.93" y="576.42" text-anchor="end">200</text>
<text x="87.93" y="455.60" text-anchor="end">300</text>
<text x="87.93" y="334.78" text-anchor="end">400</text>
<text x="87.93" y="213.97" text-anchor="end">500</text>
<text x="87.93" y="93.15" text-anchor="end">600</text>
<text x="529.59" y="874.49" text-anchor="middle">Frequency (MHz)</text>
<text transform="translate(38.28 454.73) rotate(-90)" text-anchor="middle">Virtual range (km)</text>
<text x="1062.09" y="830.14">0</text>
<text x="1062.09" y="707.31">5</text>
<text x="1062.09" y="584.47">10</text>
<text x="1062.09" y="461.64">15</text>
<text x="1062.09" y="338.81">20</text>
<text x="1062.09" y="215.98">25</text>
<text x="1062.09" y="93.15">30</text>
<text transform="translate(1108.99 454.23) rotate(-90)" text-anchor="middle">SNR (dB)</text>
</g>
<g font-size="27.778">
<text x="158.91" y="43.79" xml:space="preserve">IRF Kiruna Ionosonde KI167 2026-04-11 17:31:00  UT</text>
<text x="232.40" y="76.90">noise_floor=-116.60 (dB) peak SNR=96.42</text>
</g>
<defs><linearGradient id="vg" x1="0" y1="1" x2="0" y2="0"><stop offset="0.0000" stop-color="#440154"/><stop offset="0.0312" stop-color="#470d60"/><stop offset="0.0625" stop-color="#48186a"/><stop offset="0.0938" stop-color="#482374"/><stop offset="0.1250" stop-color="#472d7b"/><stop offset="0.1562" stop-color="#453781"/><stop offset="0.1875" stop-color="#424086"/><stop offset="0.2188" stop-color="#3e4989"/><stop offset="0.2500" stop-color="#3b528b"/><stop offset="0.2812" stop-color="#375b8d"/><stop offset="0.3125" stop-color="#33638d"/><stop offset="0.3438" stop-color="#2f6b8e"/><stop offset="0.3750" stop-color="#2c728e"/><stop offset="0.4062" stop-color="#297a8e"/><stop offset="0.4375" stop-color="#26828e"/><stop offset="0.4688" stop-color="#23898e"/><stop offset="0.5000" stop-color="#21918c"/><stop offset="0.5312" stop-color="#1f988b"/><stop offset="0.5625" stop-color="#1fa088"/><stop offset="0.5938" stop-color="#22a785"/><stop offset="0.6250" stop-color="#28ae80"/><stop offset="0.6562" stop-color="#32b67a"/><stop offset="0.6875" stop-color="#3fbc73"/><stop offset="0.7188" stop-color="#4ec36b"/><stop offset="0.7500" stop-color="#5ec962"/><stop offset="0.7812" stop-color="#70cf57"/><stop offset="0.8125" stop-color="#84d44b"/><stop offset="0.8438" stop-color="#98d83e"/><stop offset="0.8750" stop-color="#addc30"/><stop offset="0.9062" stop-color="#c2df23"/><stop offset="0.9375" stop-color="#d8e219"/><stop offset="0.9688" stop-color="#ece51b"/><stop offset="1.0000" stop-color="#fde725"/></linearGradient></defs>
<rect x="1016.5" y="85.5" width="36" height="737" fill="url(#vg)"/>
<g fill="#000" shape-rendering="crispEdges">
<rect x="1016" y="85" width="37" height="1"/><rect x="1016" y="822" width="37" height="1"/>
<rect x="1016" y="85" width="1" height="738"/><rect x="1052" y="85" width="1" height="738"/>
<rect x="1053" y="85" width="4.5" height="1"/>
<rect x="1053" y="208" width="4.5" height="1"/>
<rect x="1053" y="331" width="4.5" height="1"/>
<rect x="1053" y="454" width="4.5" height="1"/>
<rect x="1053" y="577" width="4.5" height="1"/>
<rect x="1053" y="699" width="4.5" height="1"/>
<rect x="1053" y="822" width="4.5" height="1"/>
</g>
</svg></body></html>
